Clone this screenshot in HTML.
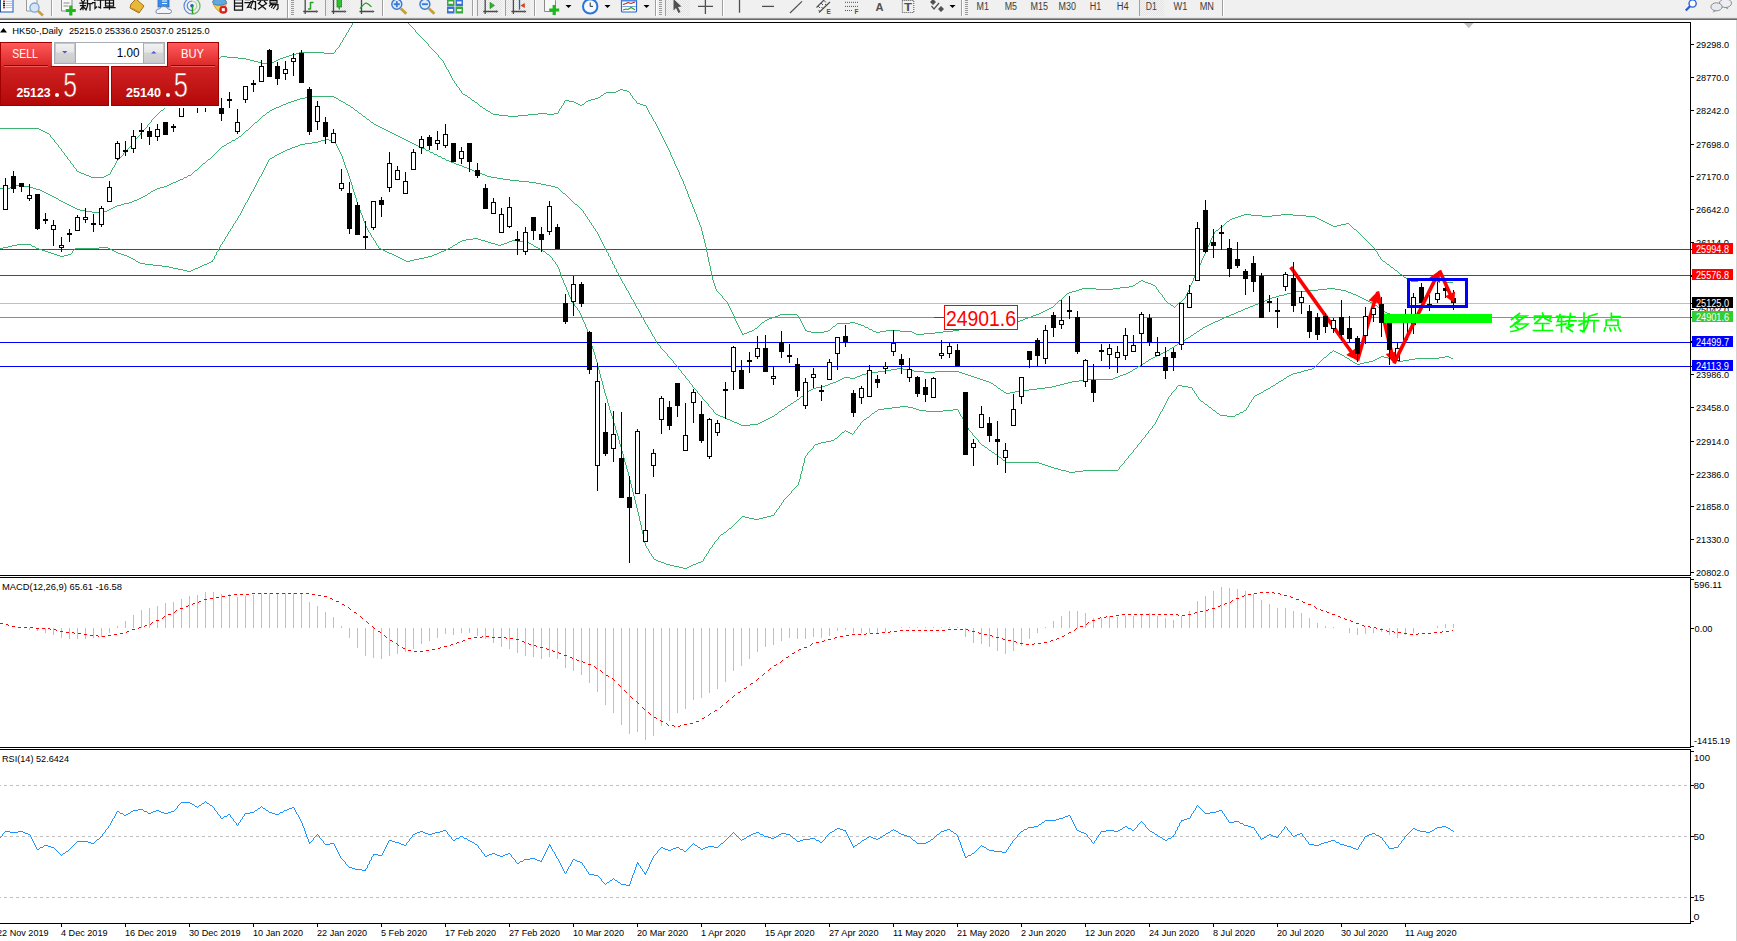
<!DOCTYPE html><html><head><meta charset="utf-8"><title>HK50 Daily</title><style>html,body{margin:0;padding:0;width:1737px;height:941px;overflow:hidden;background:#fff}svg{position:absolute;left:0;top:0;display:block}text{font-family:"Liberation Sans",sans-serif}</style></head><body>
<svg width="1737" height="941" viewBox="0 0 1737 941">
<defs><clipPath id="cm"><rect x="0" y="23" width="1690" height="552"/></clipPath><clipPath id="cmacd"><rect x="0" y="578" width="1690" height="169"/></clipPath><clipPath id="crsi"><rect x="0" y="750" width="1690" height="173"/></clipPath><pattern id="dots" width="2" height="2" patternUnits="userSpaceOnUse"><rect width="2" height="2" fill="#f4f4f4"/><rect width="1" height="1" fill="#e2e2e2"/><rect x="1" y="1" width="1" height="1" fill="#e2e2e2"/></pattern><linearGradient id="gtab" x1="0" y1="0" x2="0" y2="1"><stop offset="0" stop-color="#ff5a5a"/><stop offset="1" stop-color="#dc2828"/></linearGradient><linearGradient id="gbody" x1="0" y1="0" x2="0" y2="1"><stop offset="0" stop-color="#e23232"/><stop offset="1" stop-color="#b40808"/></linearGradient><linearGradient id="gbtn" x1="0" y1="0" x2="0" y2="1"><stop offset="0" stop-color="#f2f2f2"/><stop offset="0.45" stop-color="#e6e6e6"/><stop offset="0.5" stop-color="#d4d4d4"/><stop offset="1" stop-color="#cccccc"/></linearGradient></defs>
<g id="toolbar">
<rect x="0" y="0" width="1737" height="18" fill="#f0f0f0"/>
<rect x="0" y="17" width="1737" height="1" fill="#e6e6e6"/>
<rect x="0" y="18" width="1737" height="1" fill="#9a9a9a"/>
<rect x="0" y="19" width="1737" height="1" fill="#6a6a6a"/>
<g shape-rendering="geometricPrecision">
<rect x="-2" y="-3" width="15" height="15" fill="#ffffff" stroke="#3f72c8" stroke-width="1.2"/>
<rect x="-1.5" y="-3" width="2.5" height="15" fill="#2a4f90"/>
<rect x="3" y="0.5" width="2" height="1.6" fill="#e02020"/>
<rect x="5.5" y="0.8" width="6.5" height="1" fill="#a8c4f0"/>
<rect x="3" y="2.7" width="2" height="1.6" fill="#202020"/>
<rect x="5.5" y="3" width="6.5" height="1" fill="#a8c4f0"/>
<rect x="3" y="4.7" width="2" height="1.6" fill="#202020"/>
<rect x="5.5" y="5" width="6.5" height="1" fill="#a8c4f0"/>
<rect x="3" y="6.8" width="2" height="1.6" fill="#e02020"/>
<rect x="5.5" y="7.1" width="6.5" height="1" fill="#a8c4f0"/>
<path d="M26.5,-2 H37 V11 H26.5 Z" fill="#f6f6f6" stroke="#9a9a9a" stroke-width="1"/>
<circle cx="34.5" cy="7.6" r="4.6" fill="#d6e6f8" stroke="#7aa4d8" stroke-width="1.3"/>
<path d="M38,11 L43,15.5" stroke="#c8a040" stroke-width="2.6"/>
<rect x="51" y="0" width="1" height="16" fill="#a0a0a0"/>
<rect x="52" y="0" width="1" height="16" fill="#ffffff"/>
<path d="M61.5,-2 H70 L72,0 V11 H61.5 Z" fill="#f8f8f8" stroke="#8a8a8a" stroke-width="1"/>
<path d="M63.5,3 h6 M63.5,6 h5" stroke="#8a8a8a" stroke-width="1"/>
<path d="M70.8,5.5 V15.5 M65.8,10.5 H75.8" stroke="#1cb81c" stroke-width="3.2"/>
<path d="M80.5,-1 h5 M81.5,0.5 l1,1.5 M84.5,0.5 l-1,1.5 M80,3 h6 M83,3 v6.5 M80.5,5.5 h5 M83,6.5 l-2.5,3 M83.5,7 l2,2 M87,0 l4,-1.5 M87.5,0 v6 l-1.5,4 M87.5,3.5 h4.5 M90,3.5 v6.5 M93.5,-1 l1.5,1.5 M92.5,2.5 h2.5 v6 l1.5,-1.5 M97,0 h7 M100.5,0 v8 l-2,-1 M107,-2.5 l1,1.5 M112,-2.5 l-1,1.5 M105.5,0 h8 v6 h-8 z M105.5,3 h8 M109.5,0 v9 M104,7.5 h11" fill="none" stroke="#101010" stroke-width="1.25" stroke-linecap="square"/>
<path d="M131,4 L136,-1 L144,6 L139,13 L130,8 Z" fill="#e8b838" stroke="#a07018" stroke-width="1"/>
<path d="M132,8 L139,12" stroke="#c89020" stroke-width="1"/>
<rect x="158" y="-2" width="11" height="9" fill="#3a8ee6" stroke="#2468c0" stroke-width="0.8"/>
<path d="M162,1 h5 M162,3.5 h5" stroke="#ffffff" stroke-width="1"/>
<path d="M157.5,13.5 Q155.5,13.5 156,11 Q156.5,8.5 159.5,9 Q160.5,6 164,6.5 Q167.5,6.5 168,9 Q171.5,9 171.5,11.5 Q171.5,13.5 169,13.5 Z" fill="#f4f4f8" stroke="#7c8aa8" stroke-width="1"/>
<path d="M192,-2 A8,8 0 0 0 192,14" fill="none" stroke="#5a86d8" stroke-width="1.2"/>
<path d="M192,1 A4.8,4.8 0 0 0 192,10.6" fill="none" stroke="#5a86d8" stroke-width="1.2"/>
<path d="M192,-2 A8,8 0 0 1 192,14" fill="none" stroke="#7ab87a" stroke-width="1.4"/>
<path d="M192,1 A4.8,4.8 0 0 1 192,10.6" fill="none" stroke="#a8d0a8" stroke-width="1.2"/>
<circle cx="192" cy="5.8" r="1.8" fill="#2a5ad0"/>
<path d="M192.5,6 V13.8" stroke="#20a020" stroke-width="1.5"/>
<path d="M213,4 Q219,7 227,3 L221,13 Q216,10 213,4 Z" fill="#f0d050" stroke="#c09020" stroke-width="0.8"/>
<ellipse cx="219.5" cy="2" rx="7" ry="3.2" fill="#60a8e0" stroke="#3878b8" stroke-width="0.8"/>
<circle cx="223.3" cy="9.7" r="4" fill="#d82020"/>
<rect x="221.8" y="8.2" width="3" height="3" fill="#ffffff"/>
<path d="M238,-2.5 l-1,1.5 M234.5,-0.5 h8 v10.5 h-8 z M234.5,3 h8 M234.5,6 h8 M245.5,-0.5 h4.5 M245,2.5 h5.5 l-3,5 l3,-0.5 l0.8,1 M251,1.5 h4.5 v8 l-1.5,-1 M253,-2 v3 l-2,5 M262.5,-2.5 v1.5 M257.5,0 h10 M260.5,1.5 l-2,2 M264.5,1.5 l2,2 M259.5,4 l6,5 M265.5,4 l-7,5 M270,-2 h7 v5 h-7 z M270,0.5 h7 M271.5,3.5 l-2,2.5 M271,4.5 h7 v4 l-1,1 M273.5,4.5 l-2,3 M276,5 l-2.5,3.5" fill="none" stroke="#101010" stroke-width="1.25" stroke-linecap="square"/>
</g>
<g shape-rendering="crispEdges">
<rect x="287" y="0" width="1" height="18" fill="#a0a0a0"/>
<rect x="288" y="0" width="1" height="18" fill="#ffffff"/>
<rect x="291" y="0" width="3" height="1" fill="#9a9a9a"/>
<rect x="291" y="2" width="3" height="1" fill="#9a9a9a"/>
<rect x="291" y="4" width="3" height="1" fill="#9a9a9a"/>
<rect x="291" y="6" width="3" height="1" fill="#9a9a9a"/>
<rect x="291" y="8" width="3" height="1" fill="#9a9a9a"/>
<rect x="291" y="10" width="3" height="1" fill="#9a9a9a"/>
<rect x="291" y="12" width="3" height="1" fill="#9a9a9a"/>
<rect x="291" y="14" width="3" height="1" fill="#9a9a9a"/>
</g>
<g shape-rendering="geometricPrecision">
<path d="M305.2,0 V14 M303.2,11.5 H316.2" stroke="#4a4a4a" stroke-width="1.3" fill="none"/>
<path d="M318.2,11.5 l-2,-1.6 v3.2 z" fill="#4a4a4a"/>
<path d="M310.5,2 V9.5 M310.5,2.5 H313.5 M310.5,9 H308" stroke="#2aa02a" stroke-width="1.5" fill="none"/>
</g><g shape-rendering="crispEdges">
<rect x="325" y="0" width="1" height="16" fill="#a0a0a0"/>
<rect x="326" y="0" width="1" height="16" fill="#ffffff"/>
<rect x="326" y="0" width="24" height="16" fill="url(#dots)"/>
</g><g shape-rendering="geometricPrecision">
<path d="M333.5,0 V14 M331.5,11.5 H344.5" stroke="#4a4a4a" stroke-width="1.3" fill="none"/>
<path d="M346.5,11.5 l-2,-1.6 v3.2 z" fill="#4a4a4a"/>
<rect x="337" y="-1" width="4.5" height="8" fill="#30c030" stroke="#1a8a1a" stroke-width="0.8"/>
<path d="M339.2,7 V9.6" stroke="#1a8a1a" stroke-width="1.2"/>
<path d="M361.5,0 V14 M359.5,11.5 H372.5" stroke="#4a4a4a" stroke-width="1.3" fill="none"/>
<path d="M374.5,11.5 l-2,-1.6 v3.2 z" fill="#4a4a4a"/>
<path d="M360,8.7 Q365,2 367,3.3 Q369,4.5 371.5,6.9" stroke="#2a9a2a" stroke-width="1.3" fill="none"/>
</g><g shape-rendering="crispEdges">
<rect x="382" y="0" width="1" height="16" fill="#a0a0a0"/>
<rect x="383" y="0" width="1" height="16" fill="#ffffff"/>
</g><g shape-rendering="geometricPrecision">
<path d="M400.8,8.4 L406.3,13.8" stroke="#c8a030" stroke-width="2.8"/>
<circle cx="396.8" cy="4.2" r="5" fill="#dceafa" stroke="#3a78d0" stroke-width="1.4"/>
<path d="M393.8,4.2 h6" stroke="#3a78d0" stroke-width="1.8"/>
<path d="M396.8,1.2 v6" stroke="#3a78d0" stroke-width="1.8"/>
<path d="M428.9,8.4 L434.4,13.8" stroke="#c8a030" stroke-width="2.8"/>
<circle cx="424.9" cy="4.2" r="5" fill="#dceafa" stroke="#3a78d0" stroke-width="1.4"/>
<path d="M421.9,4.2 h6" stroke="#3a78d0" stroke-width="1.8"/>
<rect x="447" y="-1" width="7.5" height="7" fill="#3aaa3a"/>
<rect x="448.5" y="1.5" width="4.5" height="2.2" fill="#ffffff"/>
<rect x="455.5" y="-1" width="7.5" height="7" fill="#3a70d8"/>
<rect x="457" y="1.5" width="4.5" height="2.2" fill="#ffffff"/>
<rect x="447" y="6.5" width="7.5" height="7" fill="#3a70d8"/>
<rect x="448.5" y="9" width="4.5" height="2.2" fill="#ffffff"/>
<rect x="455.5" y="6.5" width="7.5" height="7" fill="#3aaa3a"/>
<rect x="457" y="9" width="4.5" height="2.2" fill="#ffffff"/>
</g><g shape-rendering="crispEdges">
<rect x="472" y="0" width="1" height="16" fill="#a0a0a0"/>
<rect x="473" y="0" width="1" height="16" fill="#ffffff"/>
<rect x="477" y="0" width="1" height="16" fill="#a0a0a0"/>
<rect x="478" y="0" width="1" height="16" fill="#ffffff"/>
<rect x="478" y="0" width="24" height="16" fill="url(#dots)"/>
<rect x="505" y="0" width="1" height="16" fill="#a0a0a0"/>
<rect x="506" y="0" width="1" height="16" fill="#ffffff"/>
<rect x="506" y="0" width="24" height="16" fill="url(#dots)"/>
<rect x="534" y="0" width="1" height="16" fill="#a0a0a0"/>
<rect x="535" y="0" width="1" height="16" fill="#ffffff"/>
</g><g shape-rendering="geometricPrecision">
<path d="M485.2,0 V14 M483.2,11.5 H496.2" stroke="#4a4a4a" stroke-width="1.3" fill="none"/>
<path d="M498.2,11.5 l-2,-1.6 v3.2 z" fill="#4a4a4a"/>
<path d="M490,2.3 L494.5,5.5 L490,8.7 Z" fill="#30b030" stroke="#208a20" stroke-width="0.6"/>
<path d="M513.4,0 V14 M511.4,11.5 H524.4" stroke="#4a4a4a" stroke-width="1.3" fill="none"/>
<path d="M526.4,11.5 l-2,-1.6 v3.2 z" fill="#4a4a4a"/>
<path d="M519.5,0 V9.7" stroke="#2060b0" stroke-width="1.3"/>
<path d="M520.3,5.5 L524.8,3 V8 Z" fill="#e04010"/>
<path d="M544.5,-2 H553 L555.5,0.5 V11.5 H544.5 Z" fill="#f8f8f8" stroke="#8a8a8a" stroke-width="1"/>
<path d="M554.2,5 V15 M549.2,10 H559.2" stroke="#1cb81c" stroke-width="3.2"/>
<path d="M565.5,5 h6 l-3,3 z" fill="#000"/>
<circle cx="590.2" cy="6.4" r="7.2" fill="#f4f8ff" stroke="#2a74d8" stroke-width="2"/>
<path d="M590.2,2.5 V6.4 H593" stroke="#303030" stroke-width="1" fill="none"/>
<path d="M604.5,5 h6 l-3,3 z" fill="#000"/>
<rect x="621.5" y="-1" width="15" height="13" rx="1" fill="#ffffff" stroke="#2a6ad0" stroke-width="1.2"/>
<rect x="621.5" y="-1" width="15" height="2.5" fill="#4a8ae0"/>
<path d="M623,4.5 L626,3.5 L628,2.5 L631,3.5 L635,2" stroke="#b02818" stroke-width="1.1" fill="none"/>
<rect x="622.3" y="6" width="13.5" height="1" fill="#7aa0d8"/>
<path d="M623,10 L626,9 L628,9.5 L631,7.5 L635,9.8" stroke="#28a028" stroke-width="1.1" fill="none"/>
<path d="M643.5,5 h6 l-3,3 z" fill="#000"/>
</g><g shape-rendering="crispEdges">
<rect x="655" y="0" width="1" height="16" fill="#a0a0a0"/>
<rect x="656" y="0" width="1" height="16" fill="#ffffff"/>
<rect x="659" y="0" width="3" height="1" fill="#9a9a9a"/>
<rect x="659" y="2" width="3" height="1" fill="#9a9a9a"/>
<rect x="659" y="4" width="3" height="1" fill="#9a9a9a"/>
<rect x="659" y="6" width="3" height="1" fill="#9a9a9a"/>
<rect x="659" y="8" width="3" height="1" fill="#9a9a9a"/>
<rect x="659" y="10" width="3" height="1" fill="#9a9a9a"/>
<rect x="659" y="12" width="3" height="1" fill="#9a9a9a"/>
<rect x="659" y="14" width="3" height="1" fill="#9a9a9a"/>
<rect x="665" y="0" width="1" height="16" fill="#a0a0a0"/>
<rect x="666" y="0" width="1" height="16" fill="#ffffff"/>
<rect x="666" y="0" width="24" height="16" fill="url(#dots)"/>
</g><g shape-rendering="geometricPrecision">
<path d="M673.5,-1 L681.5,6.5 L678,7 L680.5,12 L678.5,13 L676,8 L673.5,10.5 Z" fill="#505050"/>
<path d="M698,6.4 H713 M705.4,0 V14" stroke="#505050" stroke-width="1.3"/>
</g><g shape-rendering="crispEdges">
<rect x="722" y="0" width="1" height="16" fill="#a0a0a0"/>
<rect x="723" y="0" width="1" height="16" fill="#ffffff"/>
</g><g shape-rendering="geometricPrecision">
<path d="M739.5,0 V12.7" stroke="#505050" stroke-width="1.3"/>
<path d="M762,6.4 H774" stroke="#505050" stroke-width="1.3"/>
<path d="M790,13 L802,1.4" stroke="#505050" stroke-width="1.2"/>
<path d="M816.5,7.5 L825,-1 M819,12.5 L830,2" stroke="#505050" stroke-width="1.2"/>
<path d="M818,6 l2,2 M821,3 l2,2 M824,0.5 l2,2 M818.5,10 l2,2 M821.5,7 l2,2 M825,4 l2,2" stroke="#505050" stroke-width="1"/>
<text x="826.5" y="14.3" font-size="6.5" font-weight="bold" fill="#505050">E</text>
<path d="M845,2.3 H858 M845,6.4 H858 M845,10.5 H853" stroke="#505050" stroke-width="1" stroke-dasharray="1 1"/>
<text x="854.5" y="14.3" font-size="6.5" font-weight="bold" fill="#505050">F</text>
<text x="875.5" y="10.5" font-size="10.5" font-weight="bold" fill="#505050" textLength="8" lengthAdjust="spacingAndGlyphs">A</text>
<rect x="902.3" y="0.5" width="11.5" height="12" fill="none" stroke="#505050" stroke-width="1" stroke-dasharray="1 1"/>
<text x="904" y="10.5" font-size="10.5" font-weight="bold" fill="#505050" textLength="8" lengthAdjust="spacingAndGlyphs">T</text>
<path d="M930,2 L933,-1 L936,2 L933,5 Z M938,9 L941,6 L944,9 L941,12 Z" fill="#505050"/>
<path d="M931.5,6 L934,9 L939,3" stroke="#505050" stroke-width="1.2" fill="none"/>
<path d="M949.5,5 h6 l-3,3 z" fill="#000"/>
</g><g shape-rendering="crispEdges">
<rect x="961" y="0" width="1" height="16" fill="#a0a0a0"/>
<rect x="962" y="0" width="1" height="16" fill="#ffffff"/>
<rect x="965" y="0" width="3" height="1" fill="#9a9a9a"/>
<rect x="965" y="2" width="3" height="1" fill="#9a9a9a"/>
<rect x="965" y="4" width="3" height="1" fill="#9a9a9a"/>
<rect x="965" y="6" width="3" height="1" fill="#9a9a9a"/>
<rect x="965" y="8" width="3" height="1" fill="#9a9a9a"/>
<rect x="965" y="10" width="3" height="1" fill="#9a9a9a"/>
<rect x="965" y="12" width="3" height="1" fill="#9a9a9a"/>
<rect x="965" y="14" width="3" height="1" fill="#9a9a9a"/>
<rect x="1139" y="0" width="1" height="16" fill="#a0a0a0"/>
<rect x="1140" y="0" width="1" height="16" fill="#ffffff"/>
<rect x="1140" y="0" width="24" height="16" fill="url(#dots)"/>
<rect x="1222" y="0" width="1" height="16" fill="#a0a0a0"/>
<rect x="1223" y="0" width="1" height="16" fill="#ffffff"/>
</g>
<text x="976.6" y="10" font-size="10" fill="#3c3c3c" textLength="12.4" lengthAdjust="spacingAndGlyphs">M1</text>
<text x="1004.7" y="10" font-size="10" fill="#3c3c3c" textLength="12.3" lengthAdjust="spacingAndGlyphs">M5</text>
<text x="1030.5" y="10" font-size="10" fill="#3c3c3c" textLength="17.5" lengthAdjust="spacingAndGlyphs">M15</text>
<text x="1058.6" y="10" font-size="10" fill="#3c3c3c" textLength="17.4" lengthAdjust="spacingAndGlyphs">M30</text>
<text x="1089.7" y="10" font-size="10" fill="#3c3c3c" textLength="11.5" lengthAdjust="spacingAndGlyphs">H1</text>
<text x="1116.8" y="10" font-size="10" fill="#3c3c3c" textLength="12" lengthAdjust="spacingAndGlyphs">H4</text>
<text x="1145.8" y="10" font-size="10" fill="#3c3c3c" textLength="11.1" lengthAdjust="spacingAndGlyphs">D1</text>
<text x="1173.5" y="10" font-size="10" fill="#3c3c3c" textLength="13.8" lengthAdjust="spacingAndGlyphs">W1</text>
<text x="1199.7" y="10" font-size="10" fill="#3c3c3c" textLength="14.3" lengthAdjust="spacingAndGlyphs">MN</text>
<g shape-rendering="geometricPrecision">
<circle cx="1692.6" cy="3.5" r="3.6" fill="#ffffff" stroke="#2a62d8" stroke-width="1.4"/>
<path d="M1690,6.2 L1685.8,10.6" stroke="#2a5ad0" stroke-width="2.2"/>
<ellipse cx="1725.5" cy="3.2" rx="6" ry="4.3" fill="#eceef4" stroke="#8a8a8a" stroke-width="1"/>
<path d="M1727,7 l1.5,2.5 l-4,-2" fill="#8a8a8a"/>
<ellipse cx="1716.5" cy="6.8" rx="5.6" ry="4" fill="#e8eaf2" stroke="#8a8a8a" stroke-width="1"/>
<path d="M1714,10.5 l-1.5,2.2 l4,-2" fill="#8a8a8a"/>
</g>
</g>
<rect x="0" y="20" width="1737" height="921" fill="#ffffff"/>
<rect x="1736" y="20" width="1" height="921" fill="#d4d4d4"/>
<g clip-path="url(#cm)" shape-rendering="crispEdges">
<rect x="0" y="249" width="1690" height="1" fill="#ff0000"/>
<rect x="0" y="275" width="1690" height="1" fill="#ff0000"/>
<rect x="0" y="303" width="1690" height="1" fill="#c0c0c0"/>
<rect x="0" y="317" width="1690" height="1" fill="#32cd32"/>
<rect x="0" y="342" width="1690" height="1" fill="#0000ff"/>
<rect x="0" y="366" width="1690" height="1" fill="#0000ff"/>
<path d="M157,114h1v1h-1zM493,114h6v1h-6zM528,114h10v1h-10zM547,114h7v1h-7zM650,114h1v1h-1zM737,323h1v1h-1zM761,323h1v1h-1zM802,323h1v1h-1zM837,323h13v1h-13zM855,323h3v1h-3zM990,323h11v1h-11zM152,119h1v1h-1zM653,119h1v1h-1zM180,96h1v1h-1zM467,96h1v1h-1zM600,96h1v1h-1zM632,96h1v1h-1zM713,282h1v1h-1zM1138,282h1v1h-1zM1145,282h3v1h-3zM1192,282h1v1h-1zM1446,282h7v1h-7zM352,24h1v1h-1zM409,24h1v1h-1zM717,291h1v1h-1zM1072,291h4v1h-4zM1158,291h1v1h-1zM1188,291h1v1h-1zM360,10h41v1h-41zM738,325h1v1h-1zM759,325h1v1h-1zM803,325h1v1h-1zM835,325h1v1h-1zM861,325h3v1h-3zM974,325h6v1h-6zM741,332h1v1h-1zM747,332h2v1h-2zM811,332h13v1h-13zM876,332h4v1h-4zM912,332h2v1h-2zM935,332h8v1h-8zM356,17h1v1h-1zM404,17h1v1h-1zM683,183h1v1h-1zM721,295h1v1h-1zM1065,295h1v1h-1zM1162,295h1v1h-1zM1186,295h1v1h-1zM704,242h1v1h-1zM1210,242h1v1h-1zM1368,242h1v1h-1zM696,215h1v1h-1zM1241,215h3v1h-3zM1251,215h11v1h-11zM1272,215h9v1h-9zM1293,215h13v1h-13zM697,218h1v1h-1zM1232,218h3v1h-3zM1317,218h2v1h-2zM299,52h25v1h-25zM334,52h1v1h-1zM435,52h1v1h-1zM732,313h1v1h-1zM1039,313h2v1h-2zM715,288h1v1h-1zM1082,288h14v1h-14zM1113,288h7v1h-7zM1156,288h1v1h-1zM1189,288h1v1h-1zM712,279h1v1h-1zM1193,279h1v1h-1zM1407,279h2v1h-2zM1419,279h23v1h-23zM707,252h1v1h-1zM1205,252h1v1h-1zM1377,252h1v1h-1zM209,68h1v1h-1zM446,68h1v1h-1zM204,73h1v1h-1zM449,73h1v1h-1zM690,199h1v1h-1zM67,157h1v1h-1zM120,157h1v1h-1zM672,157h1v1h-1zM70,162h1v1h-1zM116,162h1v1h-1zM674,162h1v1h-1zM203,74h1v1h-1zM450,74h1v1h-1zM723,298h1v1h-1zM1062,298h1v1h-1zM1164,298h1v1h-1zM1184,298h1v1h-1zM71,163h1v1h-1zM115,163h1v1h-1zM674,163h1v1h-1zM89,176h2v1h-2zM104,176h2v1h-2zM680,176h1v1h-1zM711,272h1v1h-1zM1196,272h1v1h-1zM1398,272h1v1h-1zM705,246h1v1h-1zM1208,246h1v1h-1zM1372,246h1v1h-1zM182,94h1v1h-1zM463,94h2v1h-2zM603,94h1v1h-1zM630,94h1v1h-1zM737,324h1v1h-1zM760,324h1v1h-1zM802,324h1v1h-1zM836,324h1v1h-1zM858,324h3v1h-3zM980,324h10v1h-10zM705,245h1v1h-1zM1208,245h1v1h-1zM1371,245h1v1h-1zM166,106h2v1h-2zM480,106h2v1h-2zM561,106h1v1h-1zM646,106h1v1h-1zM700,226h1v1h-1zM1221,226h2v1h-2zM1333,226h4v1h-4zM1351,226h1v1h-1zM741,331h1v1h-1zM749,331h3v1h-3zM807,331h4v1h-4zM824,331h4v1h-4zM873,331h3v1h-3zM880,331h6v1h-6zM900,331h12v1h-12zM943,331h10v1h-10zM219,58h1v1h-1zM238,58h8v1h-8zM280,58h3v1h-3zM440,58h1v1h-1zM0,128h39v1h-39zM145,128h1v1h-1zM658,128h1v1h-1zM733,314h1v1h-1zM780,314h17v1h-17zM1036,314h3v1h-3zM713,281h1v1h-1zM1139,281h2v1h-2zM1143,281h2v1h-2zM1192,281h1v1h-1zM1411,281h7v1h-7zM1443,281h3v1h-3zM187,89h1v1h-1zM459,89h1v1h-1zM620,89h3v1h-3zM700,225h1v1h-1zM1223,225h1v1h-1zM1331,225h2v1h-2zM1337,225h4v1h-4zM1350,225h1v1h-1zM732,312h1v1h-1zM1041,312h2v1h-2zM183,93h1v1h-1zM462,93h1v1h-1zM604,93h2v1h-2zM630,93h1v1h-1zM47,133h2v1h-2zM140,133h1v1h-1zM660,133h1v1h-1zM39,129h2v1h-2zM144,129h1v1h-1zM658,129h1v1h-1zM155,116h1v1h-1zM508,116h10v1h-10zM651,116h1v1h-1zM217,60h1v1h-1zM250,60h4v1h-4zM276,60h2v1h-2zM442,60h1v1h-1zM184,92h1v1h-1zM461,92h1v1h-1zM606,92h10v1h-10zM629,92h1v1h-1zM734,317h1v1h-1zM772,317h3v1h-3zM798,317h1v1h-1zM1028,317h3v1h-3zM156,115h1v1h-1zM499,115h9v1h-9zM518,115h10v1h-10zM651,115h1v1h-1zM740,330h1v1h-1zM752,330h2v1h-2zM805,330h2v1h-2zM828,330h2v1h-2zM872,330h1v1h-1zM886,330h14v1h-14zM953,330h6v1h-6zM41,130h2v1h-2zM143,130h1v1h-1zM659,130h1v1h-1zM63,152h1v1h-1zM124,152h1v1h-1zM670,152h1v1h-1zM52,138h1v1h-1zM136,138h1v1h-1zM663,138h1v1h-1zM742,333h1v1h-1zM744,333h3v1h-3zM914,333h2v1h-2zM924,333h11v1h-11zM734,316h1v1h-1zM775,316h3v1h-3zM798,316h1v1h-1zM1031,316h2v1h-2zM709,265h1v1h-1zM1199,265h1v1h-1zM1389,265h1v1h-1zM76,169h1v1h-1zM112,169h1v1h-1zM677,169h1v1h-1zM192,84h1v1h-1zM456,84h1v1h-1zM734,318h1v1h-1zM769,318h3v1h-3zM799,318h1v1h-1zM1025,318h3v1h-3zM742,334h2v1h-2zM916,334h8v1h-8zM190,86h1v1h-1zM457,86h1v1h-1zM736,322h1v1h-1zM762,322h2v1h-2zM801,322h1v1h-1zM850,322h5v1h-5zM1001,322h11v1h-11zM176,99h1v1h-1zM471,99h1v1h-1zM591,99h4v1h-4zM634,99h1v1h-1zM716,289h1v1h-1zM1079,289h3v1h-3zM1096,289h17v1h-17zM1157,289h1v1h-1zM1189,289h1v1h-1zM707,256h1v1h-1zM1203,256h1v1h-1zM1379,256h1v1h-1zM696,214h1v1h-1zM1244,214h7v1h-7zM1281,214h12v1h-12zM684,185h1v1h-1zM713,280h1v1h-1zM1141,280h2v1h-2zM1193,280h1v1h-1zM1409,280h2v1h-2zM1418,280h1v1h-1zM1442,280h1v1h-1zM705,244h1v1h-1zM1209,244h1v1h-1zM1370,244h1v1h-1zM685,186h1v1h-1zM335,50h1v1h-1zM433,50h1v1h-1zM64,153h1v1h-1zM123,153h1v1h-1zM670,153h1v1h-1zM221,56h6v1h-6zM286,56h3v1h-3zM438,56h1v1h-1zM350,27h1v1h-1zM412,27h1v1h-1zM159,112h1v1h-1zM490,112h1v1h-1zM558,112h1v1h-1zM649,112h1v1h-1zM335,51h1v1h-1zM434,51h1v1h-1zM688,196h1v1h-1zM168,105h1v1h-1zM479,105h1v1h-1zM562,105h1v1h-1zM580,105h2v1h-2zM643,105h3v1h-3zM699,222h1v1h-1zM1226,222h1v1h-1zM1325,222h2v1h-2zM214,63h1v1h-1zM262,63h10v1h-10zM444,63h1v1h-1zM53,139h1v1h-1zM135,139h1v1h-1zM663,139h1v1h-1zM68,159h1v1h-1zM118,159h1v1h-1zM673,159h1v1h-1zM91,177h13v1h-13zM681,177h1v1h-1zM54,140h1v1h-1zM134,140h1v1h-1zM664,140h1v1h-1zM207,70h1v1h-1zM448,70h1v1h-1zM173,101h1v1h-1zM474,101h1v1h-1zM564,101h1v1h-1zM569,101h5v1h-5zM586,101h2v1h-2zM636,101h1v1h-1zM158,113h1v1h-1zM491,113h2v1h-2zM538,113h9v1h-9zM554,113h4v1h-4zM649,113h1v1h-1zM197,79h1v1h-1zM452,79h1v1h-1zM696,216h1v1h-1zM1238,216h3v1h-3zM1262,216h10v1h-10zM1306,216h9v1h-9zM695,212h1v1h-1zM73,165h1v1h-1zM114,165h1v1h-1zM675,165h1v1h-1zM73,166h1v1h-1zM114,166h1v1h-1zM676,166h1v1h-1zM740,329h1v1h-1zM754,329h1v1h-1zM805,329h1v1h-1zM830,329h1v1h-1zM869,329h3v1h-3zM959,329h4v1h-4zM716,290h1v1h-1zM1076,290h3v1h-3zM1158,290h1v1h-1zM1188,290h1v1h-1zM186,90h1v1h-1zM460,90h1v1h-1zM618,90h2v1h-2zM623,90h4v1h-4zM712,276h1v1h-1zM1194,276h1v1h-1zM1403,276h1v1h-1zM146,127h1v1h-1zM657,127h1v1h-1zM81,173h3v1h-3zM110,173h1v1h-1zM679,173h1v1h-1zM736,321h1v1h-1zM764,321h1v1h-1zM801,321h1v1h-1zM1012,321h8v1h-8zM730,308h1v1h-1zM1049,308h2v1h-2zM702,232h1v1h-1zM1214,232h1v1h-1zM1358,232h1v1h-1zM86,175h3v1h-3zM106,175h2v1h-2zM680,175h1v1h-1zM220,57h1v1h-1zM227,57h11v1h-11zM283,57h3v1h-3zM439,57h1v1h-1zM50,136h1v1h-1zM138,136h1v1h-1zM662,136h1v1h-1zM200,76h2v1h-2zM451,76h1v1h-1zM739,328h1v1h-1zM755,328h2v1h-2zM804,328h1v1h-1zM831,328h1v1h-1zM868,328h1v1h-1zM963,328h4v1h-4zM725,300h1v1h-1zM1059,300h2v1h-2zM1165,300h1v1h-1zM1182,300h1v1h-1zM708,257h1v1h-1zM1203,257h1v1h-1zM1380,257h1v1h-1zM715,286h1v1h-1zM1129,286h4v1h-4zM1155,286h1v1h-1zM1190,286h1v1h-1zM699,223h1v1h-1zM1225,223h1v1h-1zM1327,223h2v1h-2zM1346,223h3v1h-3zM189,87h1v1h-1zM458,87h1v1h-1zM715,287h1v1h-1zM1120,287h9v1h-9zM1156,287h1v1h-1zM1189,287h1v1h-1zM728,304h1v1h-1zM1055,304h1v1h-1zM1170,304h1v1h-1zM1177,304h1v1h-1zM208,69h1v1h-1zM447,69h1v1h-1zM165,107h1v1h-1zM482,107h1v1h-1zM561,107h1v1h-1zM646,107h1v1h-1zM683,182h1v1h-1zM722,296h1v1h-1zM1064,296h1v1h-1zM1162,296h1v1h-1zM1185,296h1v1h-1zM358,13h1v1h-1zM402,13h1v1h-1zM719,293h1v1h-1zM1067,293h2v1h-2zM1160,293h1v1h-1zM1187,293h1v1h-1zM704,241h1v1h-1zM1210,241h1v1h-1zM1367,241h1v1h-1zM50,135h1v1h-1zM139,135h1v1h-1zM661,135h1v1h-1zM726,301h1v1h-1zM1058,301h1v1h-1zM1166,301h1v1h-1zM1181,301h1v1h-1zM739,327h1v1h-1zM757,327h1v1h-1zM804,327h1v1h-1zM832,327h1v1h-1zM865,327h3v1h-3zM967,327h3v1h-3zM296,53h3v1h-3zM324,53h10v1h-10zM436,53h1v1h-1zM729,306h1v1h-1zM1053,306h1v1h-1zM1173,306h1v1h-1zM1175,306h1v1h-1zM354,20h1v1h-1zM406,20h1v1h-1zM172,102h1v1h-1zM475,102h2v1h-2zM564,102h1v1h-1zM574,102h2v1h-2zM585,102h1v1h-1zM636,102h1v1h-1zM75,168h1v1h-1zM112,168h1v1h-1zM677,168h1v1h-1zM67,158h1v1h-1zM119,158h1v1h-1zM672,158h1v1h-1zM215,62h1v1h-1zM258,62h4v1h-4zM272,62h2v1h-2zM443,62h1v1h-1zM710,270h1v1h-1zM1197,270h1v1h-1zM1395,270h2v1h-2zM84,174h2v1h-2zM108,174h2v1h-2zM679,174h1v1h-1zM706,251h1v1h-1zM1205,251h1v1h-1zM1376,251h1v1h-1zM733,315h1v1h-1zM778,315h2v1h-2zM797,315h1v1h-1zM1033,315h3v1h-3zM735,320h1v1h-1zM765,320h2v1h-2zM800,320h1v1h-1zM1020,320h3v1h-3zM727,303h1v1h-1zM1056,303h1v1h-1zM1168,303h2v1h-2zM1178,303h1v1h-1zM686,190h1v1h-1zM170,103h2v1h-2zM477,103h1v1h-1zM563,103h1v1h-1zM576,103h2v1h-2zM584,103h1v1h-1zM637,103h3v1h-3zM169,104h1v1h-1zM478,104h1v1h-1zM563,104h1v1h-1zM578,104h2v1h-2zM582,104h2v1h-2zM640,104h3v1h-3zM693,207h1v1h-1zM707,254h1v1h-1zM1204,254h1v1h-1zM1378,254h1v1h-1zM69,160h1v1h-1zM117,160h1v1h-1zM673,160h1v1h-1zM174,100h2v1h-2zM472,100h2v1h-2zM565,100h4v1h-4zM588,100h3v1h-3zM635,100h1v1h-1zM699,224h1v1h-1zM1224,224h1v1h-1zM1329,224h2v1h-2zM1341,224h5v1h-5zM1349,224h1v1h-1zM148,124h1v1h-1zM656,124h1v1h-1zM720,294h1v1h-1zM1066,294h1v1h-1zM1161,294h1v1h-1zM1186,294h1v1h-1zM707,255h1v1h-1zM1204,255h1v1h-1zM1378,255h1v1h-1zM347,32h1v1h-1zM416,32h1v1h-1zM163,109h1v1h-1zM485,109h1v1h-1zM559,109h1v1h-1zM647,109h1v1h-1zM64,154h1v1h-1zM123,154h1v1h-1zM670,154h1v1h-1zM65,155h1v1h-1zM122,155h1v1h-1zM671,155h1v1h-1zM706,248h1v1h-1zM1207,248h1v1h-1zM1374,248h1v1h-1zM77,171h2v1h-2zM111,171h1v1h-1zM678,171h1v1h-1zM343,38h1v1h-1zM422,38h1v1h-1zM147,126h1v1h-1zM657,126h1v1h-1zM147,125h1v1h-1zM656,125h1v1h-1zM714,283h1v1h-1zM1136,283h2v1h-2zM1148,283h3v1h-3zM1191,283h1v1h-1zM352,23h1v1h-1zM408,23h1v1h-1zM738,326h1v1h-1zM758,326h1v1h-1zM803,326h1v1h-1zM833,326h2v1h-2zM864,326h1v1h-1zM970,326h4v1h-4zM685,188h1v1h-1zM706,247h1v1h-1zM1207,247h1v1h-1zM1373,247h1v1h-1zM54,141h1v1h-1zM134,141h1v1h-1zM664,141h1v1h-1zM704,239h1v1h-1zM1211,239h1v1h-1zM1365,239h1v1h-1zM43,131h2v1h-2zM142,131h1v1h-1zM659,131h1v1h-1zM691,203h1v1h-1zM727,302h1v1h-1zM1057,302h1v1h-1zM1167,302h1v1h-1zM1179,302h2v1h-2zM698,220h1v1h-1zM1229,220h1v1h-1zM1321,220h2v1h-2zM735,319h1v1h-1zM767,319h2v1h-2zM800,319h1v1h-1zM1023,319h2v1h-2zM178,97h2v1h-2zM468,97h2v1h-2zM598,97h2v1h-2zM632,97h1v1h-1zM701,230h1v1h-1zM1216,230h2v1h-2zM1356,230h1v1h-1zM702,231h1v1h-1zM1215,231h1v1h-1zM1357,231h1v1h-1zM161,110h2v1h-2zM486,110h2v1h-2zM559,110h1v1h-1zM648,110h1v1h-1zM349,29h1v1h-1zM414,29h1v1h-1zM338,47h1v1h-1zM430,47h1v1h-1zM710,267h1v1h-1zM1198,267h1v1h-1zM1391,267h2v1h-2zM722,297h1v1h-1zM1063,297h1v1h-1zM1163,297h1v1h-1zM1185,297h1v1h-1zM697,219h1v1h-1zM1230,219h2v1h-2zM1319,219h2v1h-2zM708,259h1v1h-1zM1202,259h1v1h-1zM1381,259h1v1h-1zM62,151h1v1h-1zM125,151h1v1h-1zM669,151h1v1h-1zM151,121h1v1h-1zM654,121h1v1h-1zM177,98h1v1h-1zM470,98h1v1h-1zM595,98h3v1h-3zM633,98h1v1h-1zM150,122h1v1h-1zM655,122h1v1h-1zM686,189h1v1h-1zM351,25h1v1h-1zM410,25h1v1h-1zM336,49h1v1h-1zM432,49h1v1h-1zM56,143h1v1h-1zM132,143h1v1h-1zM665,143h1v1h-1zM707,253h1v1h-1zM1205,253h1v1h-1zM1377,253h1v1h-1zM690,200h1v1h-1zM57,144h1v1h-1zM132,144h1v1h-1zM666,144h1v1h-1zM202,75h1v1h-1zM450,75h1v1h-1zM711,273h1v1h-1zM1196,273h1v1h-1zM1399,273h1v1h-1zM164,108h1v1h-1zM483,108h2v1h-2zM560,108h1v1h-1zM647,108h1v1h-1zM697,217h1v1h-1zM1235,217h3v1h-3zM1315,217h2v1h-2zM349,28h1v1h-1zM413,28h1v1h-1zM195,81h1v1h-1zM454,81h1v1h-1zM72,164h1v1h-1zM115,164h1v1h-1zM675,164h1v1h-1zM181,95h1v1h-1zM465,95h2v1h-2zM601,95h2v1h-2zM631,95h1v1h-1zM188,88h1v1h-1zM459,88h1v1h-1zM70,161h1v1h-1zM116,161h1v1h-1zM674,161h1v1h-1zM348,30h1v1h-1zM415,30h1v1h-1zM76,170h1v1h-1zM111,170h1v1h-1zM678,170h1v1h-1zM60,148h1v1h-1zM128,148h1v1h-1zM668,148h1v1h-1zM344,37h1v1h-1zM421,37h1v1h-1zM685,187h1v1h-1zM703,235h1v1h-1zM1213,235h1v1h-1zM1361,235h1v1h-1zM728,305h1v1h-1zM1054,305h1v1h-1zM1171,305h2v1h-2zM1176,305h1v1h-1zM731,311h1v1h-1zM1043,311h2v1h-2zM59,147h1v1h-1zM129,147h1v1h-1zM667,147h1v1h-1zM58,146h1v1h-1zM130,146h1v1h-1zM667,146h1v1h-1zM695,213h1v1h-1zM74,167h1v1h-1zM113,167h1v1h-1zM676,167h1v1h-1zM289,55h3v1h-3zM438,55h1v1h-1zM702,233h1v1h-1zM1214,233h1v1h-1zM1359,233h1v1h-1zM218,59h1v1h-1zM246,59h4v1h-4zM278,59h2v1h-2zM441,59h1v1h-1zM216,61h1v1h-1zM254,61h4v1h-4zM274,61h2v1h-2zM443,61h1v1h-1zM704,240h1v1h-1zM1210,240h1v1h-1zM1366,240h1v1h-1zM714,285h1v1h-1zM1133,285h2v1h-2zM1153,285h2v1h-2zM1190,285h1v1h-1zM708,258h1v1h-1zM1202,258h1v1h-1zM1380,258h1v1h-1zM51,137h1v1h-1zM137,137h1v1h-1zM662,137h1v1h-1zM339,46h1v1h-1zM429,46h1v1h-1zM160,111h1v1h-1zM488,111h2v1h-2zM558,111h1v1h-1zM648,111h1v1h-1zM79,172h2v1h-2zM110,172h1v1h-1zM679,172h1v1h-1zM213,64h1v1h-1zM444,64h1v1h-1zM718,292h1v1h-1zM1069,292h3v1h-3zM1159,292h1v1h-1zM1187,292h1v1h-1zM358,14h1v1h-1zM402,14h1v1h-1zM729,307h1v1h-1zM1051,307h2v1h-2zM1174,307h1v1h-1zM348,31h1v1h-1zM415,31h1v1h-1zM354,21h1v1h-1zM406,21h1v1h-1zM55,142h1v1h-1zM133,142h1v1h-1zM665,142h1v1h-1zM61,149h1v1h-1zM127,149h1v1h-1zM668,149h1v1h-1zM708,261h1v1h-1zM1201,261h1v1h-1zM1383,261h2v1h-2zM711,271h1v1h-1zM1197,271h1v1h-1zM1397,271h1v1h-1zM706,250h1v1h-1zM1206,250h1v1h-1zM1375,250h1v1h-1zM357,16h1v1h-1zM404,16h1v1h-1zM45,132h2v1h-2zM141,132h1v1h-1zM660,132h1v1h-1zM693,208h1v1h-1zM292,54h4v1h-4zM437,54h1v1h-1zM730,309h1v1h-1zM1047,309h2v1h-2zM731,310h1v1h-1zM1045,310h2v1h-2zM49,134h1v1h-1zM140,134h1v1h-1zM661,134h1v1h-1zM698,221h1v1h-1zM1227,221h2v1h-2zM1323,221h2v1h-2zM66,156h1v1h-1zM121,156h1v1h-1zM671,156h1v1h-1zM194,82h1v1h-1zM454,82h1v1h-1zM151,120h1v1h-1zM653,120h1v1h-1zM701,227h1v1h-1zM1220,227h1v1h-1zM1352,227h1v1h-1zM343,39h1v1h-1zM423,39h1v1h-1zM706,249h1v1h-1zM1206,249h1v1h-1zM1375,249h1v1h-1zM714,284h1v1h-1zM1135,284h1v1h-1zM1151,284h2v1h-2zM1191,284h1v1h-1zM710,266h1v1h-1zM1199,266h1v1h-1zM1390,266h1v1h-1zM339,45h1v1h-1zM428,45h1v1h-1zM692,205h1v1h-1zM359,11h1v1h-1zM401,11h1v1h-1zM205,72h1v1h-1zM449,72h1v1h-1zM710,268h1v1h-1zM1198,268h1v1h-1zM1393,268h1v1h-1zM724,299h1v1h-1zM1061,299h1v1h-1zM1164,299h1v1h-1zM1183,299h1v1h-1zM708,260h1v1h-1zM1201,260h1v1h-1zM1382,260h1v1h-1zM357,15h1v1h-1zM403,15h1v1h-1zM149,123h1v1h-1zM655,123h1v1h-1zM687,191h1v1h-1zM353,22h1v1h-1zM407,22h1v1h-1zM690,201h1v1h-1zM58,145h1v1h-1zM131,145h1v1h-1zM666,145h1v1h-1zM199,77h1v1h-1zM451,77h1v1h-1zM709,264h1v1h-1zM1200,264h1v1h-1zM1387,264h2v1h-2zM346,33h1v1h-1zM417,33h1v1h-1zM346,34h1v1h-1zM418,34h1v1h-1zM703,236h1v1h-1zM1212,236h1v1h-1zM1362,236h1v1h-1zM692,204h1v1h-1zM198,78h1v1h-1zM452,78h1v1h-1zM701,228h1v1h-1zM1219,228h1v1h-1zM1353,228h1v1h-1zM206,71h1v1h-1zM448,71h1v1h-1zM345,35h1v1h-1zM419,35h1v1h-1zM185,91h1v1h-1zM461,91h1v1h-1zM616,91h2v1h-2zM627,91h2v1h-2zM345,36h1v1h-1zM420,36h1v1h-1zM212,65h1v1h-1zM445,65h1v1h-1zM711,274h1v1h-1zM1195,274h1v1h-1zM1400,274h2v1h-2zM702,234h1v1h-1zM1213,234h1v1h-1zM1360,234h1v1h-1zM712,278h1v1h-1zM1193,278h1v1h-1zM1406,278h1v1h-1zM351,26h1v1h-1zM411,26h1v1h-1zM341,42h1v1h-1zM426,42h1v1h-1zM355,18h1v1h-1zM405,18h1v1h-1zM61,150h1v1h-1zM126,150h1v1h-1zM669,150h1v1h-1zM712,277h1v1h-1zM1194,277h1v1h-1zM1404,277h2v1h-2zM701,229h1v1h-1zM1218,229h1v1h-1zM1354,229h2v1h-2zM687,193h1v1h-1zM694,209h1v1h-1zM710,269h1v1h-1zM1197,269h1v1h-1zM1394,269h1v1h-1zM711,275h1v1h-1zM1195,275h1v1h-1zM1402,275h1v1h-1zM340,44h1v1h-1zM428,44h1v1h-1zM682,179h1v1h-1zM703,238h1v1h-1zM1211,238h1v1h-1zM1364,238h1v1h-1zM692,206h1v1h-1zM709,262h1v1h-1zM1201,262h1v1h-1zM1385,262h1v1h-1zM359,12h1v1h-1zM401,12h1v1h-1zM709,263h1v1h-1zM1200,263h1v1h-1zM1386,263h1v1h-1zM687,192h1v1h-1zM193,83h1v1h-1zM455,83h1v1h-1zM154,117h1v1h-1zM652,117h1v1h-1zM342,40h1v1h-1zM424,40h1v1h-1zM694,211h1v1h-1zM191,85h1v1h-1zM456,85h1v1h-1zM703,237h1v1h-1zM1212,237h1v1h-1zM1363,237h1v1h-1zM342,41h1v1h-1zM425,41h1v1h-1zM196,80h1v1h-1zM453,80h1v1h-1zM705,243h1v1h-1zM1209,243h1v1h-1zM1369,243h1v1h-1zM211,66h1v1h-1zM445,66h1v1h-1zM689,198h1v1h-1zM210,67h1v1h-1zM446,67h1v1h-1zM355,19h1v1h-1zM405,19h1v1h-1zM340,43h1v1h-1zM427,43h1v1h-1zM684,184h1v1h-1zM688,195h1v1h-1zM694,210h1v1h-1zM337,48h1v1h-1zM431,48h1v1h-1zM682,180h1v1h-1zM683,181h1v1h-1zM689,197h1v1h-1zM681,178h1v1h-1zM688,194h1v1h-1zM153,118h1v1h-1zM652,118h1v1h-1zM691,202h1v1h-1z" fill="#3cb371" shape-rendering="crispEdges"/>
<path d="M681,371h1v1h-1zM878,371h7v1h-7zM914,371h10v1h-10zM935,371h24v1h-24zM1130,371h2v1h-2zM178,180h2v1h-2zM510,180h9v1h-9zM641,315h1v1h-1zM1229,315h2v1h-2zM1393,315h5v1h-5zM54,197h2v1h-2zM141,197h2v1h-2zM568,197h1v1h-1zM673,362h1v1h-1zM1145,362h1v1h-1zM258,120h1v1h-1zM369,120h1v1h-1zM659,345h1v1h-1zM1175,345h2v1h-2zM10,187h2v1h-2zM29,187h4v1h-4zM160,187h4v1h-4zM555,187h3v1h-3zM184,177h3v1h-3zM491,177h6v1h-6zM312,96h22v1h-22zM640,314h1v1h-1zM1231,314h3v1h-3zM1390,314h3v1h-3zM685,376h1v1h-1zM857,376h3v1h-3zM971,376h3v1h-3zM1118,376h2v1h-2zM705,401h1v1h-1zM794,401h2v1h-2zM14,185h8v1h-8zM167,185h2v1h-2zM546,185h5v1h-5zM636,307h1v1h-1zM1248,307h2v1h-2zM1378,307h2v1h-2zM723,417h2v1h-2zM770,417h2v1h-2zM720,416h3v1h-3zM772,416h2v1h-2zM685,377h1v1h-1zM844,377h6v1h-6zM855,377h2v1h-2zM974,377h3v1h-3zM1115,377h3v1h-3zM239,136h2v1h-2zM398,136h2v1h-2zM244,132h1v1h-1zM390,132h2v1h-2zM249,128h1v1h-1zM382,128h2v1h-2zM686,378h1v1h-1zM842,378h2v1h-2zM850,378h5v1h-5zM977,378h3v1h-3zM1113,378h2v1h-2zM12,186h2v1h-2zM22,186h7v1h-7zM164,186h3v1h-3zM551,186h4v1h-4zM248,129h1v1h-1zM384,129h2v1h-2zM252,125h1v1h-1zM376,125h2v1h-2zM687,379h1v1h-1zM840,379h2v1h-2zM980,379h3v1h-3zM1088,379h25v1h-25zM0,188h10v1h-10zM33,188h3v1h-3zM157,188h3v1h-3zM558,188h1v1h-1zM269,111h1v1h-1zM357,111h1v1h-1zM696,390h1v1h-1zM809,390h2v1h-2zM1001,390h2v1h-2zM1022,390h7v1h-7zM668,356h1v1h-1zM1155,356h2v1h-2zM618,273h1v1h-1zM655,340h1v1h-1zM1183,340h2v1h-2zM629,293h1v1h-1zM1287,293h5v1h-5zM1351,293h2v1h-2zM262,116h1v1h-1zM363,116h2v1h-2zM46,193h2v1h-2zM148,193h2v1h-2zM563,193h2v1h-2zM684,375h1v1h-1zM860,375h2v1h-2zM968,375h3v1h-3zM1120,375h3v1h-3zM741,425h9v1h-9zM650,331h1v1h-1zM1197,331h2v1h-2zM283,104h3v1h-3zM346,104h2v1h-2zM679,369h1v1h-1zM891,369h6v1h-6zM903,369h5v1h-5zM1133,369h2v1h-2zM694,388h1v1h-1zM813,388h3v1h-3zM998,388h2v1h-2zM1037,388h8v1h-8zM630,296h1v1h-1zM1276,296h3v1h-3zM1358,296h2v1h-2zM212,156h1v1h-1zM438,156h3v1h-3zM235,139h1v1h-1zM404,139h2v1h-2zM643,319h1v1h-1zM1220,319h2v1h-2zM677,366h1v1h-1zM1138,366h2v1h-2zM681,372h1v1h-1zM872,372h6v1h-6zM924,372h11v1h-11zM959,372h3v1h-3zM1128,372h2v1h-2zM187,176h1v1h-1zM487,176h4v1h-4zM695,389h1v1h-1zM811,389h2v1h-2zM1000,389h1v1h-1zM1029,389h8v1h-8zM689,381h1v1h-1zM836,381h2v1h-2zM986,381h3v1h-3zM1072,381h7v1h-7zM92,212h8v1h-8zM583,212h1v1h-1zM644,321h1v1h-1zM1215,321h3v1h-3zM276,107h3v1h-3zM351,107h2v1h-2zM255,122h2v1h-2zM371,122h2v1h-2zM610,259h1v1h-1zM69,205h2v1h-2zM117,205h4v1h-4zM577,205h1v1h-1zM691,384h1v1h-1zM828,384h2v1h-2zM993,384h1v1h-1zM1060,384h4v1h-4zM274,108h2v1h-2zM353,108h1v1h-1zM647,326h1v1h-1zM1205,326h2v1h-2zM75,208h2v1h-2zM111,208h2v1h-2zM580,208h1v1h-1zM639,312h1v1h-1zM1236,312h2v1h-2zM1385,312h2v1h-2zM656,341h1v1h-1zM1182,341h1v1h-1zM67,204h2v1h-2zM121,204h3v1h-3zM575,204h2v1h-2zM632,299h1v1h-1zM1267,299h3v1h-3zM1364,299h2v1h-2zM206,161h1v1h-1zM449,161h2v1h-2zM77,209h3v1h-3zM109,209h2v1h-2zM581,209h1v1h-1zM689,382h1v1h-1zM833,382h3v1h-3zM989,382h2v1h-2zM1068,382h4v1h-4zM61,201h2v1h-2zM132,201h2v1h-2zM572,201h1v1h-1zM210,158h1v1h-1zM442,158h3v1h-3zM699,394h1v1h-1zM804,394h1v1h-1zM219,149h1v1h-1zM425,149h1v1h-1zM715,413h1v1h-1zM777,413h1v1h-1zM693,387h1v1h-1zM816,387h5v1h-5zM997,387h1v1h-1zM1045,387h7v1h-7zM58,199h1v1h-1zM137,199h2v1h-2zM570,199h1v1h-1zM627,290h1v1h-1zM1306,290h12v1h-12zM1341,290h5v1h-5zM633,301h1v1h-1zM1263,301h2v1h-2zM1368,301h2v1h-2zM631,297h1v1h-1zM1272,297h4v1h-4zM1360,297h2v1h-2zM171,183h2v1h-2zM536,183h5v1h-5zM636,306h1v1h-1zM1250,306h3v1h-3zM1377,306h1v1h-1zM642,317h1v1h-1zM1224,317h2v1h-2zM1406,317h47v1h-47zM682,373h1v1h-1zM866,373h6v1h-6zM962,373h3v1h-3zM1126,373h2v1h-2zM294,100h3v1h-3zM339,100h2v1h-2zM734,422h3v1h-3zM760,422h2v1h-2zM281,105h2v1h-2zM348,105h2v1h-2zM656,342h1v1h-1zM1180,342h2v1h-2zM291,101h3v1h-3zM341,101h2v1h-2zM205,162h1v1h-1zM451,162h3v1h-3zM217,151h1v1h-1zM429,151h1v1h-1zM739,424h2v1h-2zM750,424h8v1h-8zM180,179h3v1h-3zM503,179h7v1h-7zM56,198h2v1h-2zM139,198h2v1h-2zM569,198h1v1h-1zM48,194h2v1h-2zM147,194h1v1h-1zM565,194h1v1h-1zM241,135h1v1h-1zM396,135h2v1h-2zM42,191h2v1h-2zM151,191h2v1h-2zM561,191h1v1h-1zM641,316h1v1h-1zM1226,316h3v1h-3zM1398,316h8v1h-8zM229,142h2v1h-2zM410,142h2v1h-2zM697,392h1v1h-1zM807,392h1v1h-1zM1004,392h2v1h-2zM1010,392h5v1h-5zM245,131h1v1h-1zM388,131h2v1h-2zM638,310h1v1h-1zM1241,310h2v1h-2zM1382,310h2v1h-2zM305,97h7v1h-7zM334,97h2v1h-2zM194,171h1v1h-1zM474,171h3v1h-3zM250,127h1v1h-1zM380,127h2v1h-2zM224,145h2v1h-2zM416,145h2v1h-2zM709,406h1v1h-1zM787,406h1v1h-1zM645,322h1v1h-1zM1213,322h2v1h-2zM648,327h1v1h-1zM1203,327h2v1h-2zM253,124h1v1h-1zM374,124h2v1h-2zM609,256h1v1h-1zM52,196h2v1h-2zM143,196h2v1h-2zM567,196h1v1h-1zM300,98h5v1h-5zM336,98h2v1h-2zM683,374h1v1h-1zM862,374h4v1h-4zM965,374h3v1h-3zM1123,374h3v1h-3zM667,354h1v1h-1zM1159,354h2v1h-2zM678,368h1v1h-1zM897,368h6v1h-6zM1135,368h2v1h-2zM660,347h1v1h-1zM1172,347h2v1h-2zM188,175h3v1h-3zM485,175h2v1h-2zM637,308h1v1h-1zM1245,308h3v1h-3zM1380,308h1v1h-1zM279,106h2v1h-2zM350,106h1v1h-1zM714,412h1v1h-1zM778,412h1v1h-1zM173,182h3v1h-3zM529,182h7v1h-7zM638,309h1v1h-1zM1243,309h2v1h-2zM1381,309h1v1h-1zM602,243h1v1h-1zM655,339h1v1h-1zM1185,339h1v1h-1zM195,170h2v1h-2zM472,170h2v1h-2zM658,344h1v1h-1zM1177,344h1v1h-1zM63,202h2v1h-2zM129,202h3v1h-3zM573,202h1v1h-1zM626,289h1v1h-1zM1318,289h9v1h-9zM1335,289h6v1h-6zM586,216h1v1h-1zM629,294h1v1h-1zM1284,294h3v1h-3zM1353,294h3v1h-3zM706,402h1v1h-1zM793,402h1v1h-1zM630,295h1v1h-1zM1279,295h5v1h-5zM1356,295h2v1h-2zM590,222h1v1h-1zM635,304h1v1h-1zM1255,304h3v1h-3zM1374,304h1v1h-1zM633,300h1v1h-1zM1265,300h2v1h-2zM1366,300h2v1h-2zM203,163h2v1h-2zM454,163h2v1h-2zM647,325h1v1h-1zM1207,325h2v1h-2zM261,117h1v1h-1zM365,117h1v1h-1zM50,195h2v1h-2zM145,195h2v1h-2zM566,195h1v1h-1zM690,383h1v1h-1zM830,383h3v1h-3zM991,383h2v1h-2zM1064,383h4v1h-4zM676,365h1v1h-1zM1140,365h1v1h-1zM701,396h1v1h-1zM801,396h2v1h-2zM40,190h2v1h-2zM153,190h2v1h-2zM560,190h1v1h-1zM214,154h1v1h-1zM434,154h3v1h-3zM622,281h1v1h-1zM218,150h1v1h-1zM426,150h3v1h-3zM211,157h1v1h-1zM441,157h1v1h-1zM640,313h1v1h-1zM1234,313h2v1h-2zM1387,313h3v1h-3zM639,311h1v1h-1zM1238,311h3v1h-3zM1384,311h1v1h-1zM716,414h2v1h-2zM775,414h2v1h-2zM242,134h1v1h-1zM394,134h2v1h-2zM246,130h2v1h-2zM386,130h2v1h-2zM600,239h1v1h-1zM251,126h1v1h-1zM378,126h2v1h-2zM603,244h1v1h-1zM272,109h2v1h-2zM354,109h1v1h-1zM665,352h1v1h-1zM1163,352h2v1h-2zM628,291h1v1h-1zM1295,291h11v1h-11zM1346,291h2v1h-2zM176,181h2v1h-2zM519,181h10v1h-10zM266,113h1v1h-1zM359,113h2v1h-2zM646,324h1v1h-1zM1209,324h2v1h-2zM288,102h3v1h-3zM343,102h2v1h-2zM673,361h1v1h-1zM1146,361h2v1h-2zM588,219h1v1h-1zM737,423h2v1h-2zM758,423h2v1h-2zM697,391h1v1h-1zM808,391h1v1h-1zM1003,391h1v1h-1zM1015,391h7v1h-7zM692,385h1v1h-1zM825,385h3v1h-3zM994,385h2v1h-2zM1056,385h4v1h-4zM592,225h1v1h-1zM730,420h2v1h-2zM764,420h2v1h-2zM191,174h1v1h-1zM482,174h3v1h-3zM270,110h2v1h-2zM355,110h2v1h-2zM711,408h1v1h-1zM784,408h1v1h-1zM617,272h1v1h-1zM620,277h1v1h-1zM678,367h1v1h-1zM1137,367h1v1h-1zM44,192h2v1h-2zM150,192h1v1h-1zM562,192h1v1h-1zM725,418h2v1h-2zM768,418h2v1h-2zM634,302h1v1h-1zM1260,302h3v1h-3zM1370,302h2v1h-2zM598,235h1v1h-1zM602,242h1v1h-1zM634,303h1v1h-1zM1258,303h2v1h-2zM1372,303h2v1h-2zM628,292h1v1h-1zM1292,292h3v1h-3zM1348,292h3v1h-3zM59,200h2v1h-2zM134,200h3v1h-3zM571,200h1v1h-1zM680,370h1v1h-1zM885,370h6v1h-6zM908,370h6v1h-6zM1132,370h1v1h-1zM263,115h2v1h-2zM362,115h1v1h-1zM73,207h2v1h-2zM113,207h2v1h-2zM579,207h1v1h-1zM202,164h1v1h-1zM456,164h3v1h-3zM626,288h1v1h-1zM1327,288h8v1h-8zM207,160h1v1h-1zM446,160h3v1h-3zM197,169h1v1h-1zM469,169h3v1h-3zM663,350h1v1h-1zM1167,350h2v1h-2zM650,330h1v1h-1zM1199,330h1v1h-1zM215,153h1v1h-1zM433,153h1v1h-1zM36,189h4v1h-4zM155,189h2v1h-2zM559,189h1v1h-1zM232,140h3v1h-3zM406,140h2v1h-2zM644,320h1v1h-1zM1218,320h2v1h-2zM65,203h2v1h-2zM124,203h5v1h-5zM574,203h1v1h-1zM703,399h1v1h-1zM797,399h2v1h-2zM71,206h2v1h-2zM115,206h2v1h-2zM578,206h1v1h-1zM192,173h1v1h-1zM479,173h3v1h-3zM208,159h2v1h-2zM445,159h1v1h-1zM651,333h1v1h-1zM1194,333h2v1h-2zM611,260h1v1h-1zM702,397h1v1h-1zM800,397h1v1h-1zM80,210h6v1h-6zM107,210h2v1h-2zM582,210h1v1h-1zM674,363h1v1h-1zM1143,363h2v1h-2zM169,184h2v1h-2zM541,184h5v1h-5zM664,351h1v1h-1zM1165,351h2v1h-2zM226,144h1v1h-1zM414,144h2v1h-2zM653,336h1v1h-1zM1190,336h1v1h-1zM259,119h1v1h-1zM367,119h2v1h-2zM666,353h1v1h-1zM1161,353h2v1h-2zM654,338h1v1h-1zM1186,338h2v1h-2zM713,410h1v1h-1zM781,410h1v1h-1zM216,152h1v1h-1zM430,152h3v1h-3zM657,343h1v1h-1zM1178,343h2v1h-2zM698,393h1v1h-1zM805,393h2v1h-2zM1006,393h4v1h-4zM220,148h1v1h-1zM422,148h3v1h-3zM257,121h1v1h-1zM370,121h1v1h-1zM654,337h1v1h-1zM1188,337h2v1h-2zM712,409h1v1h-1zM782,409h2v1h-2zM669,357h1v1h-1zM1153,357h2v1h-2zM649,329h1v1h-1zM1200,329h2v1h-2zM667,355h1v1h-1zM1157,355h2v1h-2zM584,213h1v1h-1zM727,419h3v1h-3zM766,419h2v1h-2zM243,133h1v1h-1zM392,133h2v1h-2zM86,211h6v1h-6zM100,211h7v1h-7zM583,211h1v1h-1zM193,172h1v1h-1zM477,172h2v1h-2zM707,403h1v1h-1zM791,403h2v1h-2zM267,112h2v1h-2zM358,112h1v1h-1zM201,165h1v1h-1zM459,165h3v1h-3zM591,224h1v1h-1zM688,380h1v1h-1zM838,380h2v1h-2zM983,380h3v1h-3zM1079,380h9v1h-9zM635,305h1v1h-1zM1253,305h2v1h-2zM1375,305h2v1h-2zM651,332h1v1h-1zM1196,332h1v1h-1zM622,282h1v1h-1zM619,276h1v1h-1zM718,415h2v1h-2zM774,415h1v1h-1zM631,298h1v1h-1zM1270,298h2v1h-2zM1362,298h2v1h-2zM603,245h1v1h-1zM604,246h1v1h-1zM710,407h1v1h-1zM785,407h2v1h-2zM661,348h1v1h-1zM1170,348h2v1h-2zM662,349h1v1h-1zM1169,349h1v1h-1zM183,178h1v1h-1zM497,178h6v1h-6zM231,141h1v1h-1zM408,141h2v1h-2zM593,227h1v1h-1zM254,123h1v1h-1zM373,123h1v1h-1zM198,168h1v1h-1zM467,168h2v1h-2zM620,278h1v1h-1zM621,279h1v1h-1zM708,404h1v1h-1zM790,404h1v1h-1zM708,405h1v1h-1zM788,405h2v1h-2zM645,323h1v1h-1zM1211,323h2v1h-2zM260,118h1v1h-1zM366,118h1v1h-1zM591,223h1v1h-1zM594,228h1v1h-1zM700,395h1v1h-1zM803,395h1v1h-1zM595,229h1v1h-1zM297,99h3v1h-3zM338,99h1v1h-1zM619,275h1v1h-1zM213,155h1v1h-1zM437,155h1v1h-1zM221,147h1v1h-1zM421,147h1v1h-1zM675,364h1v1h-1zM1141,364h2v1h-2zM265,114h1v1h-1zM361,114h1v1h-1zM199,167h1v1h-1zM464,167h3v1h-3zM652,335h1v1h-1zM1191,335h2v1h-2zM612,262h1v1h-1zM593,226h1v1h-1zM596,231h1v1h-1zM702,398h1v1h-1zM799,398h1v1h-1zM597,232h1v1h-1zM692,386h1v1h-1zM821,386h4v1h-4zM996,386h1v1h-1zM1052,386h4v1h-4zM222,146h2v1h-2zM418,146h3v1h-3zM670,358h1v1h-1zM1151,358h2v1h-2zM672,360h1v1h-1zM1148,360h1v1h-1zM613,264h1v1h-1zM614,265h1v1h-1zM585,215h1v1h-1zM227,143h2v1h-2zM412,143h2v1h-2zM704,400h1v1h-1zM796,400h1v1h-1zM606,251h1v1h-1zM652,334h1v1h-1zM1193,334h1v1h-1zM612,261h1v1h-1zM623,283h1v1h-1zM587,217h1v1h-1zM604,247h1v1h-1zM605,248h1v1h-1zM608,253h1v1h-1zM236,138h2v1h-2zM402,138h2v1h-2zM200,166h1v1h-1zM462,166h2v1h-2zM621,280h1v1h-1zM585,214h1v1h-1zM625,286h1v1h-1zM589,220h1v1h-1zM606,250h1v1h-1zM614,267h1v1h-1zM238,137h1v1h-1zM400,137h2v1h-2zM595,230h1v1h-1zM599,236h1v1h-1zM286,103h2v1h-2zM345,103h1v1h-1zM671,359h1v1h-1zM1149,359h2v1h-2zM643,318h1v1h-1zM1222,318h2v1h-2zM612,263h1v1h-1zM615,268h1v1h-1zM616,269h1v1h-1zM732,421h2v1h-2zM762,421h2v1h-2zM597,233h1v1h-1zM608,255h1v1h-1zM713,411h1v1h-1zM779,411h2v1h-2zM614,266h1v1h-1zM660,346h1v1h-1zM1174,346h1v1h-1zM648,328h1v1h-1zM1202,328h1v1h-1zM610,258h1v1h-1zM607,252h1v1h-1zM587,218h1v1h-1zM624,285h1v1h-1zM605,249h1v1h-1zM608,254h1v1h-1zM616,271h1v1h-1zM601,241h1v1h-1zM625,287h1v1h-1zM589,221h1v1h-1zM610,257h1v1h-1zM618,274h1v1h-1zM599,237h1v1h-1zM600,238h1v1h-1zM624,284h1v1h-1zM616,270h1v1h-1zM601,240h1v1h-1zM598,234h1v1h-1z" fill="#3cb371" shape-rendering="crispEdges"/>
<path d="M129,257h2v1h-2zM214,257h1v1h-1zM398,257h2v1h-2zM424,257h4v1h-4zM551,257h1v1h-1zM183,270h4v1h-4zM191,270h2v1h-2zM559,270h1v1h-1zM603,388h1v1h-1zM1176,388h1v1h-1zM1192,388h1v1h-1zM1268,388h2v1h-2zM12,245h5v1h-5zM31,245h1v1h-1zM220,245h1v1h-1zM377,245h1v1h-1zM453,245h2v1h-2zM498,245h3v1h-3zM533,245h1v1h-1zM241,211h1v1h-1zM360,211h1v1h-1zM609,406h1v1h-1zM900,406h8v1h-8zM1164,406h1v1h-1zM1208,406h1v1h-1zM1248,406h1v1h-1zM639,517h1v1h-1zM741,517h1v1h-1zM745,517h4v1h-4zM763,517h4v1h-4zM598,368h1v1h-1zM1312,368h2v1h-2zM627,469h1v1h-1zM802,469h1v1h-1zM1058,469h3v1h-3zM1118,469h1v1h-1zM627,470h1v1h-1zM802,470h1v1h-1zM1061,470h5v1h-5zM1083,470h35v1h-35zM277,154h2v1h-2zM341,154h1v1h-1zM140,263h5v1h-5zM207,263h2v1h-2zM555,263h1v1h-1zM173,268h5v1h-5zM195,268h3v1h-3zM558,268h1v1h-1zM597,363h1v1h-1zM1318,363h1v1h-1zM1355,363h2v1h-2zM1360,363h4v1h-4zM587,331h1v1h-1zM57,255h3v1h-3zM64,255h4v1h-4zM124,255h3v1h-3zM215,255h1v1h-1zM394,255h2v1h-2zM432,255h2v1h-2zM549,255h1v1h-1zM223,241h1v1h-1zM375,241h1v1h-1zM460,241h2v1h-2zM485,241h3v1h-3zM509,241h3v1h-3zM517,241h8v1h-8zM609,408h1v1h-1zM884,408h8v1h-8zM913,408h3v1h-3zM1163,408h1v1h-1zM1211,408h1v1h-1zM1246,408h1v1h-1zM625,462h1v1h-1zM804,462h1v1h-1zM1006,462h33v1h-33zM1124,462h1v1h-1zM237,218h1v1h-1zM363,218h1v1h-1zM595,358h1v1h-1zM1323,358h1v1h-1zM1347,358h2v1h-2zM1377,358h2v1h-2zM1388,358h3v1h-3zM1415,358h24v1h-24zM1451,358h2v1h-2zM629,479h1v1h-1zM799,479h1v1h-1zM266,164h1v1h-1zM344,164h1v1h-1zM642,532h1v1h-1zM724,532h2v1h-2zM595,357h1v1h-1zM1324,357h2v1h-2zM1345,357h2v1h-2zM1379,357h2v1h-2zM1384,357h4v1h-4zM1439,357h6v1h-6zM1449,357h2v1h-2zM618,438h1v1h-1zM835,438h2v1h-2zM976,438h1v1h-1zM1143,438h1v1h-1zM642,531h1v1h-1zM726,531h1v1h-1zM234,223h1v1h-1zM365,223h1v1h-1zM590,341h1v1h-1zM562,279h1v1h-1zM305,143h7v1h-7zM335,143h1v1h-1zM591,342h1v1h-1zM606,398h1v1h-1zM1168,398h1v1h-1zM1198,398h1v1h-1zM1253,398h1v1h-1zM621,450h1v1h-1zM810,450h1v1h-1zM989,450h2v1h-2zM1133,450h1v1h-1zM233,225h1v1h-1zM365,225h1v1h-1zM610,411h1v1h-1zM875,411h2v1h-2zM926,411h17v1h-17zM958,411h1v1h-1zM1161,411h1v1h-1zM1215,411h1v1h-1zM1243,411h1v1h-1zM51,253h3v1h-3zM71,253h1v1h-1zM118,253h3v1h-3zM216,253h1v1h-1zM389,253h3v1h-3zM437,253h2v1h-2zM546,253h1v1h-1zM627,471h1v1h-1zM801,471h1v1h-1zM1066,471h3v1h-3zM1075,471h8v1h-8zM131,258h2v1h-2zM214,258h1v1h-1zM400,258h2v1h-2zM419,258h5v1h-5zM552,258h1v1h-1zM54,254h3v1h-3zM68,254h3v1h-3zM121,254h3v1h-3zM216,254h1v1h-1zM392,254h2v1h-2zM434,254h3v1h-3zM547,254h2v1h-2zM42,250h3v1h-3zM73,250h1v1h-1zM112,250h2v1h-2zM218,250h1v1h-1zM383,250h2v1h-2zM444,250h2v1h-2zM541,250h2v1h-2zM644,539h1v1h-1zM717,539h1v1h-1zM624,460h1v1h-1zM804,460h1v1h-1zM1003,460h2v1h-2zM1125,460h1v1h-1zM569,295h1v1h-1zM133,259h2v1h-2zM213,259h1v1h-1zM402,259h2v1h-2zM414,259h5v1h-5zM552,259h1v1h-1zM60,256h4v1h-4zM127,256h2v1h-2zM214,256h1v1h-1zM396,256h2v1h-2zM428,256h4v1h-4zM550,256h1v1h-1zM619,443h1v1h-1zM818,443h3v1h-3zM980,443h1v1h-1zM1139,443h1v1h-1zM638,515h1v1h-1zM771,515h3v1h-3zM645,545h1v1h-1zM712,545h1v1h-1zM615,426h1v1h-1zM858,426h1v1h-1zM967,426h1v1h-1zM1152,426h1v1h-1zM318,141h3v1h-3zM333,141h2v1h-2zM614,424h1v1h-1zM860,424h1v1h-1zM966,424h1v1h-1zM1154,424h1v1h-1zM609,407h1v1h-1zM892,407h8v1h-8zM908,407h5v1h-5zM1163,407h1v1h-1zM1209,407h2v1h-2zM1247,407h1v1h-1zM616,432h1v1h-1zM842,432h2v1h-2zM848,432h2v1h-2zM854,432h1v1h-1zM971,432h1v1h-1zM1148,432h1v1h-1zM596,360h1v1h-1zM1321,360h1v1h-1zM1350,360h2v1h-2zM1373,360h2v1h-2zM1394,360h4v1h-4zM1403,360h6v1h-6zM639,518h1v1h-1zM740,518h1v1h-1zM749,518h5v1h-5zM759,518h4v1h-4zM617,434h1v1h-1zM840,434h1v1h-1zM852,434h1v1h-1zM972,434h1v1h-1zM1146,434h1v1h-1zM8,246h4v1h-4zM32,246h3v1h-3zM220,246h1v1h-1zM378,246h1v1h-1zM452,246h1v1h-1zM534,246h2v1h-2zM649,552h1v1h-1zM708,552h1v1h-1zM618,437h1v1h-1zM837,437h1v1h-1zM975,437h1v1h-1zM1144,437h1v1h-1zM153,265h9v1h-9zM202,265h2v1h-2zM557,265h1v1h-1zM596,361h1v1h-1zM1320,361h1v1h-1zM1352,361h1v1h-1zM1369,361h4v1h-4zM1398,361h5v1h-5zM603,386h1v1h-1zM1177,386h1v1h-1zM1182,386h6v1h-6zM1271,386h2v1h-2zM630,482h1v1h-1zM798,482h1v1h-1zM604,392h1v1h-1zM1172,392h1v1h-1zM1194,392h1v1h-1zM1261,392h2v1h-2zM606,397h1v1h-1zM1168,397h1v1h-1zM1198,397h1v1h-1zM1253,397h1v1h-1zM3,247h5v1h-5zM35,247h1v1h-1zM99,247h9v1h-9zM219,247h1v1h-1zM378,247h1v1h-1zM450,247h2v1h-2zM536,247h2v1h-2zM236,220h1v1h-1zM363,220h1v1h-1zM598,369h1v1h-1zM1308,369h4v1h-4zM637,508h1v1h-1zM778,508h1v1h-1zM602,381h1v1h-1zM1279,381h2v1h-2zM0,248h3v1h-3zM36,248h3v1h-3zM75,248h24v1h-24zM108,248h2v1h-2zM219,248h1v1h-1zM379,248h2v1h-2zM448,248h2v1h-2zM538,248h2v1h-2zM654,559h2v1h-2zM703,559h1v1h-1zM232,227h1v1h-1zM366,227h1v1h-1zM619,442h1v1h-1zM821,442h5v1h-5zM979,442h1v1h-1zM1140,442h1v1h-1zM612,416h1v1h-1zM869,416h1v1h-1zM961,416h1v1h-1zM1158,416h1v1h-1zM1227,416h8v1h-8zM256,184h1v1h-1zM351,184h1v1h-1zM610,412h1v1h-1zM874,412h1v1h-1zM959,412h1v1h-1zM1160,412h1v1h-1zM1216,412h1v1h-1zM1240,412h3v1h-3zM599,372h1v1h-1zM1297,372h4v1h-4zM250,194h1v1h-1zM354,194h1v1h-1zM599,370h1v1h-1zM1304,370h4v1h-4zM579,312h1v1h-1zM582,317h1v1h-1zM267,162h1v1h-1zM344,162h1v1h-1zM617,433h1v1h-1zM841,433h1v1h-1zM850,433h2v1h-2zM853,433h1v1h-1zM972,433h1v1h-1zM1147,433h1v1h-1zM634,497h1v1h-1zM786,497h1v1h-1zM641,526h1v1h-1zM732,526h1v1h-1zM617,435h1v1h-1zM839,435h1v1h-1zM973,435h1v1h-1zM1145,435h1v1h-1zM636,504h1v1h-1zM781,504h1v1h-1zM222,242h1v1h-1zM375,242h1v1h-1zM458,242h2v1h-2zM488,242h3v1h-3zM507,242h2v1h-2zM525,242h4v1h-4zM586,328h1v1h-1zM625,463h1v1h-1zM803,463h1v1h-1zM1039,463h3v1h-3zM1123,463h1v1h-1zM162,266h7v1h-7zM200,266h2v1h-2zM557,266h1v1h-1zM563,281h1v1h-1zM605,393h1v1h-1zM1171,393h1v1h-1zM1195,393h1v1h-1zM1259,393h2v1h-2zM616,430h1v1h-1zM845,430h1v1h-1zM855,430h1v1h-1zM969,430h1v1h-1zM1149,430h1v1h-1zM570,297h1v1h-1zM45,251h3v1h-3zM72,251h1v1h-1zM114,251h2v1h-2zM217,251h1v1h-1zM385,251h2v1h-2zM441,251h3v1h-3zM543,251h2v1h-2zM17,244h14v1h-14zM221,244h1v1h-1zM376,244h1v1h-1zM455,244h2v1h-2zM495,244h3v1h-3zM501,244h3v1h-3zM531,244h2v1h-2zM609,409h1v1h-1zM878,409h6v1h-6zM916,409h3v1h-3zM953,409h5v1h-5zM1162,409h1v1h-1zM1212,409h1v1h-1zM1246,409h1v1h-1zM178,269h5v1h-5zM193,269h2v1h-2zM559,269h1v1h-1zM616,431h1v1h-1zM844,431h1v1h-1zM846,431h2v1h-2zM854,431h1v1h-1zM970,431h1v1h-1zM1148,431h1v1h-1zM628,472h1v1h-1zM801,472h1v1h-1zM1069,472h6v1h-6zM670,565h4v1h-4zM691,565h2v1h-2zM612,417h1v1h-1zM867,417h2v1h-2zM962,417h1v1h-1zM1158,417h1v1h-1zM620,446h1v1h-1zM813,446h1v1h-1zM984,446h1v1h-1zM1137,446h1v1h-1zM597,365h1v1h-1zM1316,365h1v1h-1zM604,389h1v1h-1zM1175,389h1v1h-1zM1192,389h1v1h-1zM1266,389h2v1h-2zM602,384h1v1h-1zM1275,384h1v1h-1zM241,212h1v1h-1zM360,212h1v1h-1zM596,359h1v1h-1zM1322,359h1v1h-1zM1349,359h1v1h-1zM1375,359h2v1h-2zM1391,359h3v1h-3zM1409,359h6v1h-6zM632,491h1v1h-1zM791,491h1v1h-1zM605,394h1v1h-1zM1171,394h1v1h-1zM1196,394h1v1h-1zM1257,394h2v1h-2zM633,492h1v1h-1zM791,492h1v1h-1zM230,229h1v1h-1zM367,229h1v1h-1zM646,547h1v1h-1zM711,547h1v1h-1zM39,249h3v1h-3zM74,249h1v1h-1zM110,249h2v1h-2zM218,249h1v1h-1zM381,249h2v1h-2zM446,249h2v1h-2zM540,249h1v1h-1zM136,261h2v1h-2zM211,261h2v1h-2zM406,261h4v1h-4zM554,261h1v1h-1zM626,466h1v1h-1zM802,466h1v1h-1zM1048,466h3v1h-3zM1120,466h1v1h-1zM138,262h2v1h-2zM209,262h2v1h-2zM555,262h1v1h-1zM255,185h1v1h-1zM352,185h1v1h-1zM222,243h1v1h-1zM376,243h1v1h-1zM457,243h1v1h-1zM491,243h4v1h-4zM504,243h3v1h-3zM529,243h2v1h-2zM603,387h1v1h-1zM1176,387h1v1h-1zM1188,387h4v1h-4zM1270,387h1v1h-1zM580,314h1v1h-1zM581,315h1v1h-1zM598,367h1v1h-1zM1314,367h1v1h-1zM169,267h4v1h-4zM198,267h2v1h-2zM558,267h1v1h-1zM603,385h1v1h-1zM1178,385h4v1h-4zM1273,385h2v1h-2zM587,330h1v1h-1zM628,474h1v1h-1zM800,474h1v1h-1zM621,448h1v1h-1zM812,448h1v1h-1zM987,448h1v1h-1zM1135,448h1v1h-1zM615,428h1v1h-1zM857,428h1v1h-1zM968,428h1v1h-1zM1151,428h1v1h-1zM321,140h5v1h-5zM329,140h4v1h-4zM618,439h1v1h-1zM834,439h1v1h-1zM977,439h1v1h-1zM1142,439h1v1h-1zM683,568h4v1h-4zM562,278h1v1h-1zM623,454h1v1h-1zM807,454h1v1h-1zM995,454h2v1h-2zM1130,454h1v1h-1zM611,413h1v1h-1zM872,413h2v1h-2zM959,413h1v1h-1zM1160,413h1v1h-1zM1217,413h2v1h-2zM1239,413h1v1h-1zM233,224h1v1h-1zM365,224h1v1h-1zM594,352h1v1h-1zM1330,352h2v1h-2zM1336,352h2v1h-2zM611,415h1v1h-1zM870,415h1v1h-1zM960,415h1v1h-1zM1159,415h1v1h-1zM1220,415h7v1h-7zM1235,415h1v1h-1zM224,239h1v1h-1zM373,239h1v1h-1zM466,239h7v1h-7zM478,239h3v1h-3zM636,505h1v1h-1zM780,505h1v1h-1zM639,516h1v1h-1zM742,516h3v1h-3zM767,516h4v1h-4zM597,362h1v1h-1zM1319,362h1v1h-1zM1353,362h2v1h-2zM1364,362h5v1h-5zM647,548h1v1h-1zM710,548h1v1h-1zM224,240h1v1h-1zM374,240h1v1h-1zM462,240h4v1h-4zM481,240h4v1h-4zM512,240h5v1h-5zM239,215h1v1h-1zM362,215h1v1h-1zM630,481h1v1h-1zM799,481h1v1h-1zM674,566h5v1h-5zM689,566h2v1h-2zM651,555h1v1h-1zM706,555h1v1h-1zM232,226h1v1h-1zM366,226h1v1h-1zM645,544h1v1h-1zM713,544h1v1h-1zM565,286h1v1h-1zM256,183h1v1h-1zM351,183h1v1h-1zM648,549h1v1h-1zM709,549h1v1h-1zM658,561h3v1h-3zM701,561h2v1h-2zM602,383h1v1h-1zM1276,383h2v1h-2zM579,311h1v1h-1zM608,405h1v1h-1zM1164,405h1v1h-1zM1207,405h1v1h-1zM1248,405h1v1h-1zM625,464h1v1h-1zM803,464h1v1h-1zM1042,464h3v1h-3zM1122,464h1v1h-1zM228,233h1v1h-1zM370,233h1v1h-1zM605,395h1v1h-1zM1170,395h1v1h-1zM1196,395h1v1h-1zM1255,395h2v1h-2zM268,161h1v1h-1zM343,161h1v1h-1zM326,139h3v1h-3zM586,327h1v1h-1zM614,423h1v1h-1zM860,423h1v1h-1zM965,423h1v1h-1zM1155,423h1v1h-1zM264,168h1v1h-1zM346,168h1v1h-1zM631,484h1v1h-1zM798,484h1v1h-1zM610,410h1v1h-1zM877,410h1v1h-1zM919,410h7v1h-7zM943,410h10v1h-10zM958,410h1v1h-1zM1162,410h1v1h-1zM1213,410h2v1h-2zM1244,410h2v1h-2zM275,155h2v1h-2zM341,155h1v1h-1zM607,399h1v1h-1zM1167,399h1v1h-1zM1199,399h1v1h-1zM1252,399h1v1h-1zM135,260h1v1h-1zM212,260h1v1h-1zM404,260h2v1h-2zM410,260h4v1h-4zM553,260h1v1h-1zM48,252h3v1h-3zM72,252h1v1h-1zM116,252h2v1h-2zM216,252h1v1h-1zM387,252h2v1h-2zM439,252h2v1h-2zM545,252h1v1h-1zM626,467h1v1h-1zM802,467h1v1h-1zM1051,467h3v1h-3zM1119,467h1v1h-1zM607,402h1v1h-1zM1166,402h1v1h-1zM1203,402h1v1h-1zM1250,402h1v1h-1zM227,235h1v1h-1zM371,235h1v1h-1zM613,420h1v1h-1zM863,420h1v1h-1zM963,420h1v1h-1zM1156,420h1v1h-1zM626,468h1v1h-1zM802,468h1v1h-1zM1054,468h4v1h-4zM1119,468h1v1h-1zM582,319h1v1h-1zM269,159h1v1h-1zM343,159h1v1h-1zM613,419h1v1h-1zM864,419h2v1h-2zM963,419h1v1h-1zM1157,419h1v1h-1zM600,377h1v1h-1zM1286,377h1v1h-1zM597,364h1v1h-1zM1317,364h1v1h-1zM1357,364h3v1h-3zM589,336h1v1h-1zM264,169h1v1h-1zM346,169h1v1h-1zM614,425h1v1h-1zM859,425h1v1h-1zM966,425h1v1h-1zM1153,425h1v1h-1zM312,142h6v1h-6zM335,142h1v1h-1zM263,171h1v1h-1zM347,171h1v1h-1zM231,228h1v1h-1zM367,228h1v1h-1zM263,170h1v1h-1zM347,170h1v1h-1zM592,346h1v1h-1zM623,455h1v1h-1zM806,455h1v1h-1zM997,455h1v1h-1zM1129,455h1v1h-1zM564,284h1v1h-1zM620,444h1v1h-1zM815,444h3v1h-3zM981,444h1v1h-1zM1138,444h1v1h-1zM595,356h1v1h-1zM1326,356h1v1h-1zM1344,356h1v1h-1zM1381,356h3v1h-3zM1445,356h4v1h-4zM259,178h1v1h-1zM349,178h1v1h-1zM626,465h1v1h-1zM803,465h1v1h-1zM1045,465h3v1h-3zM1121,465h1v1h-1zM571,300h1v1h-1zM242,210h1v1h-1zM360,210h1v1h-1zM612,418h1v1h-1zM866,418h1v1h-1zM962,418h1v1h-1zM1157,418h1v1h-1zM615,427h1v1h-1zM857,427h1v1h-1zM967,427h1v1h-1zM1152,427h1v1h-1zM292,147h3v1h-3zM337,147h1v1h-1zM238,217h1v1h-1zM362,217h1v1h-1zM145,264h8v1h-8zM204,264h3v1h-3zM556,264h1v1h-1zM639,519h1v1h-1zM739,519h1v1h-1zM754,519h5v1h-5zM262,173h1v1h-1zM348,173h1v1h-1zM633,494h1v1h-1zM789,494h1v1h-1zM623,457h1v1h-1zM805,457h1v1h-1zM999,457h2v1h-2zM1128,457h1v1h-1zM624,461h1v1h-1zM804,461h1v1h-1zM1005,461h1v1h-1zM1124,461h1v1h-1zM607,400h1v1h-1zM1167,400h1v1h-1zM1200,400h1v1h-1zM1251,400h1v1h-1zM594,354h1v1h-1zM1328,354h1v1h-1zM1340,354h2v1h-2zM254,187h1v1h-1zM352,187h1v1h-1zM258,180h1v1h-1zM350,180h1v1h-1zM608,404h1v1h-1zM1165,404h1v1h-1zM1205,404h2v1h-2zM1249,404h1v1h-1zM584,322h1v1h-1zM248,198h1v1h-1zM356,198h1v1h-1zM599,373h1v1h-1zM1293,373h4v1h-4zM274,156h1v1h-1zM342,156h1v1h-1zM629,476h1v1h-1zM800,476h1v1h-1zM237,219h1v1h-1zM363,219h1v1h-1zM642,533h1v1h-1zM723,533h1v1h-1zM611,414h1v1h-1zM871,414h1v1h-1zM960,414h1v1h-1zM1159,414h1v1h-1zM1219,414h1v1h-1zM1236,414h3v1h-3zM588,333h1v1h-1zM651,554h1v1h-1zM706,554h1v1h-1zM643,534h1v1h-1zM721,534h2v1h-2zM565,285h1v1h-1zM591,343h1v1h-1zM569,296h1v1h-1zM632,490h1v1h-1zM792,490h1v1h-1zM300,144h5v1h-5zM336,144h1v1h-1zM634,496h1v1h-1zM787,496h1v1h-1zM641,525h1v1h-1zM733,525h1v1h-1zM253,189h1v1h-1zM353,189h1v1h-1zM630,483h1v1h-1zM798,483h1v1h-1zM225,238h1v1h-1zM373,238h1v1h-1zM473,238h5v1h-5zM613,422h1v1h-1zM861,422h1v1h-1zM964,422h1v1h-1zM1155,422h1v1h-1zM652,556h1v1h-1zM705,556h1v1h-1zM249,196h1v1h-1zM355,196h1v1h-1zM261,174h1v1h-1zM348,174h1v1h-1zM638,512h1v1h-1zM775,512h1v1h-1zM272,157h2v1h-2zM342,157h1v1h-1zM245,203h1v1h-1zM357,203h1v1h-1zM640,521h1v1h-1zM737,521h1v1h-1zM582,318h1v1h-1zM589,335h1v1h-1zM618,436h1v1h-1zM838,436h1v1h-1zM974,436h1v1h-1zM1145,436h1v1h-1zM624,459h1v1h-1zM804,459h1v1h-1zM1002,459h1v1h-1zM1126,459h1v1h-1zM604,391h1v1h-1zM1173,391h1v1h-1zM1194,391h1v1h-1zM1263,391h1v1h-1zM600,376h1v1h-1zM1287,376h2v1h-2zM564,283h1v1h-1zM634,499h1v1h-1zM784,499h1v1h-1zM620,445h1v1h-1zM814,445h1v1h-1zM982,445h2v1h-2zM1137,445h1v1h-1zM571,299h1v1h-1zM637,509h1v1h-1zM777,509h1v1h-1zM638,514h1v1h-1zM774,514h1v1h-1zM628,473h1v1h-1zM801,473h1v1h-1zM262,172h1v1h-1zM347,172h1v1h-1zM240,214h1v1h-1zM361,214h1v1h-1zM633,493h1v1h-1zM790,493h1v1h-1zM623,456h1v1h-1zM805,456h1v1h-1zM998,456h1v1h-1zM1128,456h1v1h-1zM283,151h2v1h-2zM339,151h1v1h-1zM592,348h1v1h-1zM229,231h1v1h-1zM368,231h1v1h-1zM226,236h1v1h-1zM371,236h1v1h-1zM258,179h1v1h-1zM350,179h1v1h-1zM594,353h1v1h-1zM1329,353h1v1h-1zM1338,353h2v1h-2zM581,316h1v1h-1zM644,540h1v1h-1zM716,540h1v1h-1zM628,475h1v1h-1zM800,475h1v1h-1zM615,429h1v1h-1zM856,429h1v1h-1zM968,429h1v1h-1zM1150,429h1v1h-1zM640,522h1v1h-1zM736,522h1v1h-1zM588,332h1v1h-1zM600,375h1v1h-1zM1289,375h2v1h-2zM285,150h2v1h-2zM339,150h1v1h-1zM619,440h1v1h-1zM831,440h3v1h-3zM978,440h1v1h-1zM1141,440h1v1h-1zM650,553h1v1h-1zM707,553h1v1h-1zM281,152h2v1h-2zM340,152h1v1h-1zM608,403h1v1h-1zM1165,403h1v1h-1zM1204,403h1v1h-1zM1249,403h1v1h-1zM661,562h3v1h-3zM698,562h3v1h-3zM636,506h1v1h-1zM779,506h1v1h-1zM607,401h1v1h-1zM1166,401h1v1h-1zM1201,401h2v1h-2zM1251,401h1v1h-1zM247,200h1v1h-1zM356,200h1v1h-1zM238,216h1v1h-1zM362,216h1v1h-1zM270,158h2v1h-2zM342,158h1v1h-1zM666,564h4v1h-4zM693,564h3v1h-3zM591,345h1v1h-1zM228,232h1v1h-1zM369,232h1v1h-1zM648,550h1v1h-1zM709,550h1v1h-1zM649,551h1v1h-1zM708,551h1v1h-1zM225,237h1v1h-1zM372,237h1v1h-1zM624,458h1v1h-1zM804,458h1v1h-1zM1001,458h1v1h-1zM1127,458h1v1h-1zM635,500h1v1h-1zM783,500h1v1h-1zM287,149h3v1h-3zM338,149h1v1h-1zM598,366h1v1h-1zM1315,366h1v1h-1zM601,378h1v1h-1zM1284,378h2v1h-2zM604,390h1v1h-1zM1174,390h1v1h-1zM1193,390h1v1h-1zM1264,390h2v1h-2zM634,498h1v1h-1zM785,498h1v1h-1zM636,507h1v1h-1zM779,507h1v1h-1zM638,513h1v1h-1zM774,513h1v1h-1zM622,451h1v1h-1zM809,451h1v1h-1zM991,451h1v1h-1zM1133,451h1v1h-1zM246,202h1v1h-1zM357,202h1v1h-1zM600,374h1v1h-1zM1291,374h2v1h-2zM268,160h1v1h-1zM343,160h1v1h-1zM583,321h1v1h-1zM619,441h1v1h-1zM826,441h5v1h-5zM978,441h1v1h-1zM1141,441h1v1h-1zM641,527h1v1h-1zM731,527h1v1h-1zM589,337h1v1h-1zM240,213h1v1h-1zM361,213h1v1h-1zM621,449h1v1h-1zM811,449h1v1h-1zM988,449h1v1h-1zM1134,449h1v1h-1zM592,347h1v1h-1zM230,230h1v1h-1zM368,230h1v1h-1zM621,447h1v1h-1zM813,447h1v1h-1zM985,447h2v1h-2zM1136,447h1v1h-1zM599,371h1v1h-1zM1301,371h3v1h-3zM637,511h1v1h-1zM776,511h1v1h-1zM633,495h1v1h-1zM788,495h1v1h-1zM235,221h1v1h-1zM364,221h1v1h-1zM664,563h2v1h-2zM696,563h2v1h-2zM254,188h1v1h-1zM352,188h1v1h-1zM644,541h1v1h-1zM715,541h1v1h-1zM584,323h1v1h-1zM248,199h1v1h-1zM356,199h1v1h-1zM585,324h1v1h-1zM629,477h1v1h-1zM800,477h1v1h-1zM187,271h4v1h-4zM559,271h1v1h-1zM640,524h1v1h-1zM734,524h1v1h-1zM588,334h1v1h-1zM560,272h1v1h-1zM643,535h1v1h-1zM720,535h1v1h-1zM591,344h1v1h-1zM566,287h1v1h-1zM631,485h1v1h-1zM797,485h1v1h-1zM573,303h1v1h-1zM606,396h1v1h-1zM1169,396h1v1h-1zM1197,396h1v1h-1zM1254,396h1v1h-1zM641,528h1v1h-1zM729,528h2v1h-2zM601,379h1v1h-1zM1283,379h1v1h-1zM253,190h1v1h-1zM353,190h1v1h-1zM243,208h1v1h-1zM359,208h1v1h-1zM679,567h4v1h-4zM687,567h2v1h-2zM266,165h1v1h-1zM345,165h1v1h-1zM249,197h1v1h-1zM355,197h1v1h-1zM593,351h1v1h-1zM1332,351h1v1h-1zM1334,351h2v1h-2zM601,380h1v1h-1zM1281,380h2v1h-2zM261,175h1v1h-1zM348,175h1v1h-1zM260,176h1v1h-1zM349,176h1v1h-1zM245,204h1v1h-1zM357,204h1v1h-1zM613,421h1v1h-1zM862,421h1v1h-1zM964,421h1v1h-1zM1156,421h1v1h-1zM583,320h1v1h-1zM290,148h2v1h-2zM338,148h1v1h-1zM635,501h1v1h-1zM783,501h1v1h-1zM572,301h1v1h-1zM637,510h1v1h-1zM776,510h1v1h-1zM656,560h2v1h-2zM703,560h1v1h-1zM575,306h1v1h-1zM244,206h1v1h-1zM358,206h1v1h-1zM298,145h2v1h-2zM336,145h1v1h-1zM295,146h3v1h-3zM337,146h1v1h-1zM244,205h1v1h-1zM358,205h1v1h-1zM593,350h1v1h-1zM1333,350h1v1h-1zM640,523h1v1h-1zM735,523h1v1h-1zM235,222h1v1h-1zM364,222h1v1h-1zM653,557h1v1h-1zM704,557h1v1h-1zM643,536h1v1h-1zM719,536h1v1h-1zM577,308h1v1h-1zM252,191h1v1h-1zM353,191h1v1h-1zM622,453h1v1h-1zM807,453h1v1h-1zM994,453h1v1h-1zM1131,453h1v1h-1zM247,201h1v1h-1zM356,201h1v1h-1zM560,274h1v1h-1zM643,537h1v1h-1zM718,537h1v1h-1zM631,486h1v1h-1zM796,486h1v1h-1zM566,289h1v1h-1zM227,234h1v1h-1zM370,234h1v1h-1zM653,558h1v1h-1zM704,558h1v1h-1zM265,166h1v1h-1zM345,166h1v1h-1zM632,489h1v1h-1zM793,489h1v1h-1zM265,167h1v1h-1zM345,167h1v1h-1zM589,338h1v1h-1zM561,275h1v1h-1zM279,153h2v1h-2zM340,153h1v1h-1zM593,349h1v1h-1zM568,292h1v1h-1zM243,207h1v1h-1zM358,207h1v1h-1zM622,452h1v1h-1zM808,452h1v1h-1zM992,452h2v1h-2zM1132,452h1v1h-1zM631,487h1v1h-1zM795,487h1v1h-1zM585,325h1v1h-1zM629,478h1v1h-1zM800,478h1v1h-1zM642,530h1v1h-1zM727,530h1v1h-1zM251,192h1v1h-1zM354,192h1v1h-1zM560,273h1v1h-1zM566,288h1v1h-1zM574,305h1v1h-1zM242,209h1v1h-1zM359,209h1v1h-1zM632,488h1v1h-1zM794,488h1v1h-1zM595,355h1v1h-1zM1327,355h1v1h-1zM1342,355h2v1h-2zM259,177h1v1h-1zM349,177h1v1h-1zM635,502h1v1h-1zM782,502h1v1h-1zM572,302h1v1h-1zM257,182h1v1h-1zM351,182h1v1h-1zM645,543h1v1h-1zM714,543h1v1h-1zM267,163h1v1h-1zM344,163h1v1h-1zM561,277h1v1h-1zM590,340h1v1h-1zM568,294h1v1h-1zM641,529h1v1h-1zM728,529h1v1h-1zM574,304h1v1h-1zM577,309h1v1h-1zM578,310h1v1h-1zM251,193h1v1h-1zM354,193h1v1h-1zM635,503h1v1h-1zM781,503h1v1h-1zM563,280h1v1h-1zM643,538h1v1h-1zM718,538h1v1h-1zM567,291h1v1h-1zM646,546h1v1h-1zM712,546h1v1h-1zM576,307h1v1h-1zM257,181h1v1h-1zM350,181h1v1h-1zM250,195h1v1h-1zM355,195h1v1h-1zM580,313h1v1h-1zM644,542h1v1h-1zM714,542h1v1h-1zM639,520h1v1h-1zM738,520h1v1h-1zM587,329h1v1h-1zM561,276h1v1h-1zM590,339h1v1h-1zM568,293h1v1h-1zM630,480h1v1h-1zM799,480h1v1h-1zM255,186h1v1h-1zM352,186h1v1h-1zM585,326h1v1h-1zM602,382h1v1h-1zM1278,382h1v1h-1zM567,290h1v1h-1zM563,282h1v1h-1zM570,298h1v1h-1z" fill="#3cb371" shape-rendering="crispEdges"/>
<g shape-rendering="geometricPrecision">
<path d="M1290.7,267.1 L1352.3,353.2" stroke="#ff0000" stroke-width="3.6" fill="none"/>
<path d="M1357.5,360.5 L1346.2,355.0 L1356.0,348.1 Z" fill="#ff0000"/>
<path d="M1357.5,360.5 L1374.9,300.1" stroke="#ff0000" stroke-width="3.6" fill="none"/>
<path d="M1377.4,291.5 L1380.1,303.7 L1368.6,300.4 Z" fill="#ff0000"/>
<path d="M1377.4,291.5 L1392.0,354.6" stroke="#ff0000" stroke-width="3.6" fill="none"/>
<path d="M1394.0,363.4 L1385.7,354.0 L1397.4,351.3 Z" fill="#ff0000"/>
</g>
<rect x="5" y="178" width="1" height="32" fill="#000"/>
<rect x="3" y="185" width="5" height="25" fill="#000"/>
<rect x="4" y="186" width="3" height="23" fill="#fff"/>
<rect x="13" y="171" width="1" height="22" fill="#000"/>
<rect x="11" y="176" width="5" height="13" fill="#000"/>
<rect x="21" y="183" width="1" height="9" fill="#000"/>
<rect x="19" y="183" width="5" height="4" fill="#000"/>
<rect x="29" y="184" width="1" height="17" fill="#000"/>
<rect x="27" y="195" width="5" height="4" fill="#000"/>
<rect x="28" y="196" width="3" height="2" fill="#fff"/>
<rect x="37" y="194" width="1" height="36" fill="#000"/>
<rect x="35" y="194" width="5" height="35" fill="#000"/>
<rect x="45" y="213" width="1" height="11" fill="#000"/>
<rect x="43" y="219" width="5" height="2" fill="#000"/>
<rect x="53" y="220" width="1" height="26" fill="#000"/>
<rect x="51" y="225" width="5" height="5" fill="#000"/>
<rect x="52" y="226" width="3" height="3" fill="#fff"/>
<rect x="61" y="237" width="1" height="15" fill="#000"/>
<rect x="59" y="245" width="5" height="3" fill="#000"/>
<rect x="60" y="246" width="3" height="1" fill="#fff"/>
<rect x="69" y="229" width="1" height="13" fill="#000"/>
<rect x="67" y="233" width="5" height="2" fill="#000"/>
<rect x="77" y="215" width="1" height="16" fill="#000"/>
<rect x="75" y="217" width="5" height="14" fill="#000"/>
<rect x="76" y="218" width="3" height="12" fill="#fff"/>
<rect x="85" y="208" width="1" height="15" fill="#000"/>
<rect x="83" y="217" width="5" height="3" fill="#000"/>
<rect x="84" y="218" width="3" height="1" fill="#fff"/>
<rect x="93" y="214" width="1" height="18" fill="#000"/>
<rect x="91" y="223" width="5" height="2" fill="#000"/>
<rect x="101" y="206" width="1" height="21" fill="#000"/>
<rect x="99" y="208" width="5" height="17" fill="#000"/>
<rect x="100" y="209" width="3" height="15" fill="#fff"/>
<rect x="109" y="181" width="1" height="21" fill="#000"/>
<rect x="107" y="187" width="5" height="15" fill="#000"/>
<rect x="108" y="188" width="3" height="13" fill="#fff"/>
<rect x="117" y="141" width="1" height="19" fill="#000"/>
<rect x="115" y="143" width="5" height="16" fill="#000"/>
<rect x="116" y="144" width="3" height="14" fill="#fff"/>
<rect x="125" y="141" width="1" height="15" fill="#000"/>
<rect x="123" y="150" width="5" height="2" fill="#000"/>
<rect x="133" y="130" width="1" height="23" fill="#000"/>
<rect x="131" y="136" width="5" height="13" fill="#000"/>
<rect x="132" y="137" width="3" height="11" fill="#fff"/>
<rect x="141" y="123" width="1" height="16" fill="#000"/>
<rect x="139" y="130" width="5" height="2" fill="#000"/>
<rect x="149" y="127" width="1" height="18" fill="#000"/>
<rect x="147" y="131" width="5" height="6" fill="#000"/>
<rect x="157" y="124" width="1" height="17" fill="#000"/>
<rect x="155" y="129" width="5" height="8" fill="#000"/>
<rect x="156" y="130" width="3" height="6" fill="#fff"/>
<rect x="165" y="122" width="1" height="13" fill="#000"/>
<rect x="163" y="122" width="5" height="13" fill="#000"/>
<rect x="173" y="124" width="1" height="8" fill="#000"/>
<rect x="171" y="126" width="5" height="2" fill="#000"/>
<rect x="181" y="95" width="1" height="22" fill="#000"/>
<rect x="179" y="100" width="5" height="17" fill="#000"/>
<rect x="180" y="101" width="3" height="15" fill="#fff"/>
<rect x="189" y="90" width="1" height="18" fill="#000"/>
<rect x="187" y="95" width="5" height="10" fill="#000"/>
<rect x="197" y="90" width="1" height="23" fill="#000"/>
<rect x="195" y="95" width="5" height="10" fill="#000"/>
<rect x="205" y="90" width="1" height="22" fill="#000"/>
<rect x="203" y="95" width="5" height="10" fill="#000"/>
<rect x="204" y="96" width="3" height="8" fill="#fff"/>
<rect x="213" y="80" width="1" height="24" fill="#000"/>
<rect x="211" y="85" width="5" height="15" fill="#000"/>
<rect x="221" y="98" width="1" height="23" fill="#000"/>
<rect x="219" y="108" width="5" height="6" fill="#000"/>
<rect x="229" y="92" width="1" height="16" fill="#000"/>
<rect x="227" y="99" width="5" height="2" fill="#000"/>
<rect x="237" y="109" width="1" height="25" fill="#000"/>
<rect x="235" y="122" width="5" height="10" fill="#000"/>
<rect x="236" y="123" width="3" height="8" fill="#fff"/>
<rect x="245" y="86" width="1" height="17" fill="#000"/>
<rect x="243" y="86" width="5" height="14" fill="#000"/>
<rect x="244" y="87" width="3" height="12" fill="#fff"/>
<rect x="253" y="80" width="1" height="12" fill="#000"/>
<rect x="251" y="83" width="5" height="2" fill="#000"/>
<rect x="261" y="60" width="1" height="22" fill="#000"/>
<rect x="259" y="66" width="5" height="16" fill="#000"/>
<rect x="260" y="67" width="3" height="14" fill="#fff"/>
<rect x="269" y="49" width="1" height="28" fill="#000"/>
<rect x="267" y="50" width="5" height="27" fill="#000"/>
<rect x="277" y="62" width="1" height="23" fill="#000"/>
<rect x="275" y="66" width="5" height="13" fill="#000"/>
<rect x="285" y="61" width="1" height="19" fill="#000"/>
<rect x="283" y="69" width="5" height="5" fill="#000"/>
<rect x="284" y="70" width="3" height="3" fill="#fff"/>
<rect x="293" y="53" width="1" height="23" fill="#000"/>
<rect x="291" y="58" width="5" height="4" fill="#000"/>
<rect x="292" y="59" width="3" height="2" fill="#fff"/>
<rect x="301" y="50" width="1" height="33" fill="#000"/>
<rect x="299" y="53" width="5" height="30" fill="#000"/>
<rect x="309" y="87" width="1" height="48" fill="#000"/>
<rect x="307" y="89" width="5" height="43" fill="#000"/>
<rect x="317" y="101" width="1" height="29" fill="#000"/>
<rect x="315" y="106" width="5" height="16" fill="#000"/>
<rect x="316" y="107" width="3" height="14" fill="#fff"/>
<rect x="325" y="117" width="1" height="27" fill="#000"/>
<rect x="323" y="122" width="5" height="15" fill="#000"/>
<rect x="333" y="129" width="1" height="14" fill="#000"/>
<rect x="331" y="133" width="5" height="10" fill="#000"/>
<rect x="332" y="134" width="3" height="8" fill="#fff"/>
<rect x="341" y="169" width="1" height="22" fill="#000"/>
<rect x="339" y="183" width="5" height="6" fill="#000"/>
<rect x="340" y="184" width="3" height="4" fill="#fff"/>
<rect x="349" y="182" width="1" height="52" fill="#000"/>
<rect x="347" y="193" width="5" height="36" fill="#000"/>
<rect x="357" y="202" width="1" height="33" fill="#000"/>
<rect x="355" y="205" width="5" height="30" fill="#000"/>
<rect x="365" y="221" width="1" height="28" fill="#000"/>
<rect x="363" y="236" width="5" height="2" fill="#000"/>
<rect x="373" y="201" width="1" height="29" fill="#000"/>
<rect x="371" y="201" width="5" height="27" fill="#000"/>
<rect x="372" y="202" width="3" height="25" fill="#fff"/>
<rect x="381" y="197" width="1" height="20" fill="#000"/>
<rect x="379" y="200" width="5" height="5" fill="#000"/>
<rect x="389" y="152" width="1" height="40" fill="#000"/>
<rect x="387" y="163" width="5" height="25" fill="#000"/>
<rect x="388" y="164" width="3" height="23" fill="#fff"/>
<rect x="397" y="166" width="1" height="14" fill="#000"/>
<rect x="395" y="170" width="5" height="10" fill="#000"/>
<rect x="396" y="171" width="3" height="8" fill="#fff"/>
<rect x="405" y="172" width="1" height="22" fill="#000"/>
<rect x="403" y="181" width="5" height="13" fill="#000"/>
<rect x="404" y="182" width="3" height="11" fill="#fff"/>
<rect x="413" y="149" width="1" height="21" fill="#000"/>
<rect x="411" y="152" width="5" height="18" fill="#000"/>
<rect x="412" y="153" width="3" height="16" fill="#fff"/>
<rect x="421" y="136" width="1" height="18" fill="#000"/>
<rect x="419" y="139" width="5" height="9" fill="#000"/>
<rect x="420" y="140" width="3" height="7" fill="#fff"/>
<rect x="429" y="135" width="1" height="15" fill="#000"/>
<rect x="427" y="137" width="5" height="9" fill="#000"/>
<rect x="437" y="131" width="1" height="19" fill="#000"/>
<rect x="435" y="140" width="5" height="4" fill="#000"/>
<rect x="436" y="141" width="3" height="2" fill="#fff"/>
<rect x="445" y="124" width="1" height="24" fill="#000"/>
<rect x="443" y="134" width="5" height="12" fill="#000"/>
<rect x="444" y="135" width="3" height="10" fill="#fff"/>
<rect x="453" y="143" width="1" height="19" fill="#000"/>
<rect x="451" y="143" width="5" height="19" fill="#000"/>
<rect x="461" y="147" width="1" height="17" fill="#000"/>
<rect x="459" y="151" width="5" height="8" fill="#000"/>
<rect x="460" y="152" width="3" height="6" fill="#fff"/>
<rect x="469" y="143" width="1" height="29" fill="#000"/>
<rect x="467" y="143" width="5" height="19" fill="#000"/>
<rect x="477" y="163" width="1" height="15" fill="#000"/>
<rect x="475" y="170" width="5" height="6" fill="#000"/>
<rect x="485" y="184" width="1" height="25" fill="#000"/>
<rect x="483" y="188" width="5" height="21" fill="#000"/>
<rect x="493" y="198" width="1" height="16" fill="#000"/>
<rect x="491" y="202" width="5" height="12" fill="#000"/>
<rect x="492" y="203" width="3" height="10" fill="#fff"/>
<rect x="501" y="208" width="1" height="25" fill="#000"/>
<rect x="499" y="214" width="5" height="19" fill="#000"/>
<rect x="500" y="215" width="3" height="17" fill="#fff"/>
<rect x="509" y="197" width="1" height="31" fill="#000"/>
<rect x="507" y="207" width="5" height="20" fill="#000"/>
<rect x="508" y="208" width="3" height="18" fill="#fff"/>
<rect x="517" y="231" width="1" height="24" fill="#000"/>
<rect x="515" y="239" width="5" height="2" fill="#000"/>
<rect x="525" y="227" width="1" height="28" fill="#000"/>
<rect x="523" y="232" width="5" height="20" fill="#000"/>
<rect x="524" y="233" width="3" height="18" fill="#fff"/>
<rect x="533" y="217" width="1" height="23" fill="#000"/>
<rect x="531" y="217" width="5" height="14" fill="#000"/>
<rect x="541" y="227" width="1" height="25" fill="#000"/>
<rect x="539" y="234" width="5" height="6" fill="#000"/>
<rect x="549" y="201" width="1" height="34" fill="#000"/>
<rect x="547" y="206" width="5" height="26" fill="#000"/>
<rect x="548" y="207" width="3" height="24" fill="#fff"/>
<rect x="557" y="224" width="1" height="25" fill="#000"/>
<rect x="555" y="227" width="5" height="22" fill="#000"/>
<rect x="565" y="294" width="1" height="30" fill="#000"/>
<rect x="563" y="303" width="5" height="19" fill="#000"/>
<rect x="573" y="276" width="1" height="40" fill="#000"/>
<rect x="571" y="284" width="5" height="18" fill="#000"/>
<rect x="572" y="285" width="3" height="16" fill="#fff"/>
<rect x="581" y="282" width="1" height="25" fill="#000"/>
<rect x="579" y="284" width="5" height="20" fill="#000"/>
<rect x="589" y="331" width="1" height="43" fill="#000"/>
<rect x="587" y="332" width="5" height="38" fill="#000"/>
<rect x="597" y="363" width="1" height="128" fill="#000"/>
<rect x="595" y="381" width="5" height="85" fill="#000"/>
<rect x="596" y="382" width="3" height="83" fill="#fff"/>
<rect x="605" y="403" width="1" height="53" fill="#000"/>
<rect x="603" y="432" width="5" height="22" fill="#000"/>
<rect x="613" y="411" width="1" height="51" fill="#000"/>
<rect x="611" y="434" width="5" height="15" fill="#000"/>
<rect x="612" y="435" width="3" height="13" fill="#fff"/>
<rect x="621" y="412" width="1" height="86" fill="#000"/>
<rect x="619" y="458" width="5" height="40" fill="#000"/>
<rect x="629" y="476" width="1" height="87" fill="#000"/>
<rect x="627" y="497" width="5" height="11" fill="#000"/>
<rect x="637" y="429" width="1" height="65" fill="#000"/>
<rect x="635" y="431" width="5" height="63" fill="#000"/>
<rect x="636" y="432" width="3" height="61" fill="#fff"/>
<rect x="645" y="494" width="1" height="48" fill="#000"/>
<rect x="643" y="530" width="5" height="12" fill="#000"/>
<rect x="644" y="531" width="3" height="10" fill="#fff"/>
<rect x="653" y="449" width="1" height="28" fill="#000"/>
<rect x="651" y="453" width="5" height="13" fill="#000"/>
<rect x="652" y="454" width="3" height="11" fill="#fff"/>
<rect x="661" y="396" width="1" height="38" fill="#000"/>
<rect x="659" y="398" width="5" height="22" fill="#000"/>
<rect x="660" y="399" width="3" height="20" fill="#fff"/>
<rect x="669" y="401" width="1" height="29" fill="#000"/>
<rect x="667" y="407" width="5" height="19" fill="#000"/>
<rect x="677" y="383" width="1" height="34" fill="#000"/>
<rect x="675" y="383" width="5" height="23" fill="#000"/>
<rect x="685" y="403" width="1" height="48" fill="#000"/>
<rect x="683" y="435" width="5" height="16" fill="#000"/>
<rect x="684" y="436" width="3" height="14" fill="#fff"/>
<rect x="693" y="389" width="1" height="34" fill="#000"/>
<rect x="691" y="392" width="5" height="11" fill="#000"/>
<rect x="692" y="393" width="3" height="9" fill="#fff"/>
<rect x="701" y="401" width="1" height="42" fill="#000"/>
<rect x="699" y="414" width="5" height="27" fill="#000"/>
<rect x="709" y="418" width="1" height="41" fill="#000"/>
<rect x="707" y="419" width="5" height="38" fill="#000"/>
<rect x="708" y="420" width="3" height="36" fill="#fff"/>
<rect x="717" y="420" width="1" height="16" fill="#000"/>
<rect x="715" y="423" width="5" height="10" fill="#000"/>
<rect x="716" y="424" width="3" height="8" fill="#fff"/>
<rect x="725" y="382" width="1" height="37" fill="#000"/>
<rect x="723" y="389" width="5" height="2" fill="#000"/>
<rect x="733" y="346" width="1" height="44" fill="#000"/>
<rect x="731" y="347" width="5" height="25" fill="#000"/>
<rect x="732" y="348" width="3" height="23" fill="#fff"/>
<rect x="741" y="360" width="1" height="29" fill="#000"/>
<rect x="739" y="370" width="5" height="19" fill="#000"/>
<rect x="749" y="352" width="1" height="21" fill="#000"/>
<rect x="747" y="360" width="5" height="2" fill="#000"/>
<rect x="757" y="336" width="1" height="23" fill="#000"/>
<rect x="755" y="348" width="5" height="9" fill="#000"/>
<rect x="756" y="349" width="3" height="7" fill="#fff"/>
<rect x="765" y="335" width="1" height="37" fill="#000"/>
<rect x="763" y="348" width="5" height="24" fill="#000"/>
<rect x="773" y="366" width="1" height="19" fill="#000"/>
<rect x="771" y="376" width="5" height="3" fill="#000"/>
<rect x="772" y="377" width="3" height="1" fill="#fff"/>
<rect x="781" y="331" width="1" height="27" fill="#000"/>
<rect x="779" y="342" width="5" height="10" fill="#000"/>
<rect x="789" y="344" width="1" height="19" fill="#000"/>
<rect x="787" y="355" width="5" height="2" fill="#000"/>
<rect x="797" y="358" width="1" height="39" fill="#000"/>
<rect x="795" y="364" width="5" height="27" fill="#000"/>
<rect x="805" y="378" width="1" height="31" fill="#000"/>
<rect x="803" y="382" width="5" height="24" fill="#000"/>
<rect x="804" y="383" width="3" height="22" fill="#fff"/>
<rect x="813" y="368" width="1" height="20" fill="#000"/>
<rect x="811" y="374" width="5" height="4" fill="#000"/>
<rect x="812" y="375" width="3" height="2" fill="#fff"/>
<rect x="821" y="385" width="1" height="16" fill="#000"/>
<rect x="819" y="390" width="5" height="2" fill="#000"/>
<rect x="829" y="359" width="1" height="21" fill="#000"/>
<rect x="827" y="362" width="5" height="18" fill="#000"/>
<rect x="828" y="363" width="3" height="16" fill="#fff"/>
<rect x="837" y="337" width="1" height="33" fill="#000"/>
<rect x="835" y="337" width="5" height="17" fill="#000"/>
<rect x="836" y="338" width="3" height="15" fill="#fff"/>
<rect x="845" y="325" width="1" height="22" fill="#000"/>
<rect x="843" y="336" width="5" height="6" fill="#000"/>
<rect x="853" y="390" width="1" height="27" fill="#000"/>
<rect x="851" y="393" width="5" height="20" fill="#000"/>
<rect x="861" y="386" width="1" height="18" fill="#000"/>
<rect x="859" y="388" width="5" height="10" fill="#000"/>
<rect x="860" y="389" width="3" height="8" fill="#fff"/>
<rect x="869" y="365" width="1" height="32" fill="#000"/>
<rect x="867" y="370" width="5" height="27" fill="#000"/>
<rect x="868" y="371" width="3" height="25" fill="#fff"/>
<rect x="877" y="375" width="1" height="13" fill="#000"/>
<rect x="875" y="379" width="5" height="4" fill="#000"/>
<rect x="885" y="362" width="1" height="12" fill="#000"/>
<rect x="883" y="366" width="5" height="3" fill="#000"/>
<rect x="884" y="367" width="3" height="1" fill="#fff"/>
<rect x="893" y="330" width="1" height="26" fill="#000"/>
<rect x="891" y="343" width="5" height="9" fill="#000"/>
<rect x="892" y="344" width="3" height="7" fill="#fff"/>
<rect x="901" y="354" width="1" height="20" fill="#000"/>
<rect x="899" y="359" width="5" height="6" fill="#000"/>
<rect x="909" y="358" width="1" height="24" fill="#000"/>
<rect x="907" y="369" width="5" height="9" fill="#000"/>
<rect x="908" y="370" width="3" height="7" fill="#fff"/>
<rect x="917" y="376" width="1" height="21" fill="#000"/>
<rect x="915" y="377" width="5" height="17" fill="#000"/>
<rect x="925" y="379" width="1" height="23" fill="#000"/>
<rect x="923" y="387" width="5" height="8" fill="#000"/>
<rect x="933" y="377" width="1" height="21" fill="#000"/>
<rect x="931" y="378" width="5" height="20" fill="#000"/>
<rect x="932" y="379" width="3" height="18" fill="#fff"/>
<rect x="941" y="340" width="1" height="19" fill="#000"/>
<rect x="939" y="353" width="5" height="3" fill="#000"/>
<rect x="940" y="354" width="3" height="1" fill="#fff"/>
<rect x="949" y="343" width="1" height="15" fill="#000"/>
<rect x="947" y="346" width="5" height="8" fill="#000"/>
<rect x="948" y="347" width="3" height="6" fill="#fff"/>
<rect x="957" y="344" width="1" height="22" fill="#000"/>
<rect x="955" y="350" width="5" height="16" fill="#000"/>
<rect x="965" y="392" width="1" height="63" fill="#000"/>
<rect x="963" y="392" width="5" height="63" fill="#000"/>
<rect x="973" y="439" width="1" height="27" fill="#000"/>
<rect x="971" y="443" width="5" height="5" fill="#000"/>
<rect x="972" y="444" width="3" height="3" fill="#fff"/>
<rect x="981" y="406" width="1" height="22" fill="#000"/>
<rect x="979" y="414" width="5" height="14" fill="#000"/>
<rect x="980" y="415" width="3" height="12" fill="#fff"/>
<rect x="989" y="417" width="1" height="25" fill="#000"/>
<rect x="987" y="423" width="5" height="13" fill="#000"/>
<rect x="997" y="421" width="1" height="44" fill="#000"/>
<rect x="995" y="439" width="5" height="3" fill="#000"/>
<rect x="1005" y="443" width="1" height="30" fill="#000"/>
<rect x="1003" y="450" width="5" height="8" fill="#000"/>
<rect x="1004" y="451" width="3" height="6" fill="#fff"/>
<rect x="1013" y="394" width="1" height="32" fill="#000"/>
<rect x="1011" y="409" width="5" height="17" fill="#000"/>
<rect x="1012" y="410" width="3" height="15" fill="#fff"/>
<rect x="1021" y="377" width="1" height="27" fill="#000"/>
<rect x="1019" y="377" width="5" height="20" fill="#000"/>
<rect x="1020" y="378" width="3" height="18" fill="#fff"/>
<rect x="1029" y="351" width="1" height="17" fill="#000"/>
<rect x="1027" y="351" width="5" height="9" fill="#000"/>
<rect x="1037" y="338" width="1" height="28" fill="#000"/>
<rect x="1035" y="340" width="5" height="16" fill="#000"/>
<rect x="1045" y="325" width="1" height="39" fill="#000"/>
<rect x="1043" y="330" width="5" height="29" fill="#000"/>
<rect x="1044" y="331" width="3" height="27" fill="#fff"/>
<rect x="1053" y="312" width="1" height="25" fill="#000"/>
<rect x="1051" y="315" width="5" height="13" fill="#000"/>
<rect x="1061" y="300" width="1" height="29" fill="#000"/>
<rect x="1059" y="320" width="5" height="5" fill="#000"/>
<rect x="1060" y="321" width="3" height="3" fill="#fff"/>
<rect x="1069" y="296" width="1" height="23" fill="#000"/>
<rect x="1067" y="310" width="5" height="2" fill="#000"/>
<rect x="1077" y="311" width="1" height="43" fill="#000"/>
<rect x="1075" y="317" width="5" height="35" fill="#000"/>
<rect x="1085" y="359" width="1" height="28" fill="#000"/>
<rect x="1083" y="360" width="5" height="22" fill="#000"/>
<rect x="1084" y="361" width="3" height="20" fill="#fff"/>
<rect x="1093" y="364" width="1" height="38" fill="#000"/>
<rect x="1091" y="380" width="5" height="13" fill="#000"/>
<rect x="1101" y="344" width="1" height="17" fill="#000"/>
<rect x="1099" y="350" width="5" height="2" fill="#000"/>
<rect x="1109" y="344" width="1" height="25" fill="#000"/>
<rect x="1107" y="348" width="5" height="7" fill="#000"/>
<rect x="1108" y="349" width="3" height="5" fill="#fff"/>
<rect x="1117" y="346" width="1" height="27" fill="#000"/>
<rect x="1115" y="352" width="5" height="6" fill="#000"/>
<rect x="1116" y="353" width="3" height="4" fill="#fff"/>
<rect x="1125" y="328" width="1" height="32" fill="#000"/>
<rect x="1123" y="335" width="5" height="21" fill="#000"/>
<rect x="1124" y="336" width="3" height="19" fill="#fff"/>
<rect x="1133" y="335" width="1" height="17" fill="#000"/>
<rect x="1131" y="345" width="5" height="7" fill="#000"/>
<rect x="1132" y="346" width="3" height="5" fill="#fff"/>
<rect x="1141" y="312" width="1" height="54" fill="#000"/>
<rect x="1139" y="314" width="5" height="20" fill="#000"/>
<rect x="1140" y="315" width="3" height="18" fill="#fff"/>
<rect x="1149" y="314" width="1" height="32" fill="#000"/>
<rect x="1147" y="318" width="5" height="24" fill="#000"/>
<rect x="1157" y="337" width="1" height="19" fill="#000"/>
<rect x="1155" y="352" width="5" height="4" fill="#000"/>
<rect x="1156" y="353" width="3" height="2" fill="#fff"/>
<rect x="1165" y="347" width="1" height="32" fill="#000"/>
<rect x="1163" y="357" width="5" height="14" fill="#000"/>
<rect x="1173" y="348" width="1" height="23" fill="#000"/>
<rect x="1171" y="352" width="5" height="6" fill="#000"/>
<rect x="1181" y="303" width="1" height="47" fill="#000"/>
<rect x="1179" y="303" width="5" height="42" fill="#000"/>
<rect x="1180" y="304" width="3" height="40" fill="#fff"/>
<rect x="1189" y="285" width="1" height="23" fill="#000"/>
<rect x="1187" y="293" width="5" height="15" fill="#000"/>
<rect x="1188" y="294" width="3" height="13" fill="#fff"/>
<rect x="1197" y="222" width="1" height="59" fill="#000"/>
<rect x="1195" y="228" width="5" height="53" fill="#000"/>
<rect x="1196" y="229" width="3" height="51" fill="#fff"/>
<rect x="1205" y="200" width="1" height="53" fill="#000"/>
<rect x="1203" y="210" width="5" height="42" fill="#000"/>
<rect x="1213" y="229" width="1" height="29" fill="#000"/>
<rect x="1211" y="242" width="5" height="4" fill="#000"/>
<rect x="1221" y="225" width="1" height="25" fill="#000"/>
<rect x="1219" y="232" width="5" height="2" fill="#000"/>
<rect x="1229" y="239" width="1" height="38" fill="#000"/>
<rect x="1227" y="248" width="5" height="21" fill="#000"/>
<rect x="1237" y="242" width="1" height="26" fill="#000"/>
<rect x="1235" y="259" width="5" height="7" fill="#000"/>
<rect x="1245" y="269" width="1" height="26" fill="#000"/>
<rect x="1243" y="271" width="5" height="8" fill="#000"/>
<rect x="1253" y="256" width="1" height="36" fill="#000"/>
<rect x="1251" y="263" width="5" height="19" fill="#000"/>
<rect x="1261" y="273" width="1" height="45" fill="#000"/>
<rect x="1259" y="276" width="5" height="42" fill="#000"/>
<rect x="1269" y="295" width="1" height="17" fill="#000"/>
<rect x="1267" y="301" width="5" height="2" fill="#000"/>
<rect x="1277" y="298" width="1" height="30" fill="#000"/>
<rect x="1275" y="310" width="5" height="2" fill="#000"/>
<rect x="1285" y="272" width="1" height="19" fill="#000"/>
<rect x="1283" y="274" width="5" height="13" fill="#000"/>
<rect x="1284" y="275" width="3" height="11" fill="#fff"/>
<rect x="1293" y="262" width="1" height="50" fill="#000"/>
<rect x="1291" y="278" width="5" height="28" fill="#000"/>
<rect x="1301" y="291" width="1" height="23" fill="#000"/>
<rect x="1299" y="297" width="5" height="6" fill="#000"/>
<rect x="1300" y="298" width="3" height="4" fill="#fff"/>
<rect x="1309" y="305" width="1" height="33" fill="#000"/>
<rect x="1307" y="311" width="5" height="21" fill="#000"/>
<rect x="1317" y="313" width="1" height="27" fill="#000"/>
<rect x="1315" y="317" width="5" height="18" fill="#000"/>
<rect x="1325" y="313" width="1" height="20" fill="#000"/>
<rect x="1323" y="316" width="5" height="11" fill="#000"/>
<rect x="1333" y="318" width="1" height="15" fill="#000"/>
<rect x="1331" y="320" width="5" height="9" fill="#000"/>
<rect x="1332" y="321" width="3" height="7" fill="#fff"/>
<rect x="1341" y="300" width="1" height="40" fill="#000"/>
<rect x="1339" y="317" width="5" height="18" fill="#000"/>
<rect x="1349" y="316" width="1" height="27" fill="#000"/>
<rect x="1347" y="328" width="5" height="11" fill="#000"/>
<rect x="1357" y="336" width="1" height="26" fill="#000"/>
<rect x="1355" y="338" width="5" height="16" fill="#000"/>
<rect x="1365" y="307" width="1" height="37" fill="#000"/>
<rect x="1363" y="316" width="5" height="20" fill="#000"/>
<rect x="1364" y="317" width="3" height="18" fill="#fff"/>
<rect x="1373" y="308" width="1" height="14" fill="#000"/>
<rect x="1371" y="308" width="5" height="7" fill="#000"/>
<rect x="1372" y="309" width="3" height="5" fill="#fff"/>
<rect x="1381" y="297" width="1" height="40" fill="#000"/>
<rect x="1379" y="304" width="5" height="19" fill="#000"/>
<rect x="1389" y="317" width="1" height="48" fill="#000"/>
<rect x="1387" y="323" width="5" height="27" fill="#000"/>
<rect x="1397" y="342" width="1" height="19" fill="#000"/>
<rect x="1395" y="348" width="5" height="13" fill="#000"/>
<rect x="1396" y="349" width="3" height="11" fill="#fff"/>
<rect x="1405" y="309" width="1" height="31" fill="#000"/>
<rect x="1403" y="314" width="5" height="26" fill="#000"/>
<rect x="1404" y="315" width="3" height="24" fill="#fff"/>
<rect x="1413" y="293" width="1" height="41" fill="#000"/>
<rect x="1411" y="297" width="5" height="28" fill="#000"/>
<rect x="1412" y="298" width="3" height="26" fill="#fff"/>
<rect x="1421" y="283" width="1" height="20" fill="#000"/>
<rect x="1419" y="287" width="5" height="16" fill="#000"/>
<rect x="1429" y="295" width="1" height="16" fill="#000"/>
<rect x="1427" y="304" width="5" height="2" fill="#000"/>
<rect x="1437" y="282" width="1" height="21" fill="#000"/>
<rect x="1435" y="293" width="5" height="7" fill="#000"/>
<rect x="1436" y="294" width="3" height="5" fill="#fff"/>
<rect x="1445" y="287" width="1" height="11" fill="#000"/>
<rect x="1443" y="288" width="5" height="3" fill="#000"/>
<rect x="1453" y="290" width="1" height="20" fill="#000"/>
<rect x="1451" y="298" width="5" height="5" fill="#000"/>
</g>
<g clip-path="url(#cm)">
<g shape-rendering="geometricPrecision">
<path d="M1394.0,363.4 L1435.5,278.6" stroke="#ff0000" stroke-width="3.6" fill="none"/>
<path d="M1439.5,270.5 L1440.1,283.0 L1429.3,277.7 Z" fill="#ff0000"/>
<path d="M1439.5,270.5 L1450.9,295.7" stroke="#ff0000" stroke-width="3.6" fill="none"/>
<path d="M1454.2,303.0 L1445.1,296.2 L1455.1,291.6 Z" fill="#ff0000"/>
</g>
<g shape-rendering="crispEdges">
<rect x="1384" y="314" width="108" height="9" fill="#00ff00"/>
<path d="M1408.5,279.5 H1466.5 V306.5 H1408.5 Z" fill="none" stroke="#0000ff" stroke-width="3"/>
<rect x="934" y="317" width="10" height="1" fill="#ff0000"/>
<rect x="944.5" y="305.5" width="73" height="24" fill="#ffffff" stroke="#ff0000" stroke-width="1"/>
</g>
<text x="946" y="326" font-size="22.5" fill="#ff0000" textLength="70" lengthAdjust="spacingAndGlyphs">24901.6</text>
<path d="M1519.5,313.5 L1511.5,319.5 M1517,316 H1526.5 L1514.5,323.5 M1516.5,318.5 L1519,320.5 M1519,321.5 L1510.5,327 M1517.5,324 H1528 Q1522,330 1511,331.5 M1515.5,326.5 L1518,328.5 M1542.5,313 L1543.5,316 M1534.5,319.5 V316.2 H1551 L1550,319 M1540.5,318.5 L1535,323.5 M1545,318.5 L1551,321.5 M1536.5,323.5 H1549 M1542.6,323.5 V330 M1533.6,330.5 H1552.3 M1556.5,316.3 H1565 M1560,314.5 L1557.5,321.5 H1565.5 M1561.5,318 V332 M1556.5,325.5 L1566,323.8 M1567,316.8 H1575 M1566.5,320.8 H1576 M1570.5,313.5 L1568.5,324.8 H1574 L1566.5,327.8 M1566.5,327.5 L1572.5,331.5 M1579,321 H1586.5 M1584,313 V331.5 L1580.5,330.5 M1579,325 L1586.5,321.5 M1597,313.7 L1588.5,316.5 Q1588.5,327 1582.8,331.7 M1588.5,320.5 H1598.5 M1594,320.5 V331.7 M1611.4,313.3 V320 M1611.4,316.6 H1620.2 M1606.2,320 H1618 V325.5 H1606.2 Z M1605.5,327.5 L1604.2,331 M1609.8,328 L1610.8,330.5 M1614.5,328 L1615.5,330.5 M1618.8,327.5 L1620.5,331" fill="none" stroke="#00ff00" stroke-width="1.7" stroke-linecap="square"/>
<path d="M0,32.5 L3.5,28 L7,32.5 Z" fill="#000"/>
<text x="12.3" y="33.7" font-size="9.6" fill="#000" textLength="50.4" lengthAdjust="spacingAndGlyphs">HK50-,Daily</text>
<text x="69" y="33.7" font-size="9.6" fill="#000" textLength="140.5" lengthAdjust="spacingAndGlyphs">25215.0 25336.0 25037.0 25125.0</text>
<g shape-rendering="crispEdges">
<rect x="0" y="42" width="219" height="66" fill="#ffffff"/>
</g>
<path d="M0.5,42.5 H51.5 V66.5 H108.5 V105.5 H0.5 Z" fill="url(#gbody)" stroke="#a00000" stroke-width="1" shape-rendering="crispEdges"/>
<path d="M0.5,42.5 H51.5 V66 H0.5 Z" fill="url(#gtab)" shape-rendering="crispEdges"/>
<path d="M218.5,42.5 H167.5 V66.5 H111.5 V105.5 H218.5 Z" fill="url(#gbody)" stroke="#a00000" stroke-width="1" shape-rendering="crispEdges"/>
<path d="M218,43 H168 V66 H218 Z" fill="url(#gtab)" shape-rendering="crispEdges"/>
<g shape-rendering="crispEdges">
<rect x="4" y="65" width="44" height="1" fill="#8a0000"/>
<rect x="4" y="66" width="44" height="1" fill="#f05a5a"/>
<rect x="171" y="65" width="44" height="1" fill="#8a0000"/>
<rect x="171" y="66" width="44" height="1" fill="#f05a5a"/>
<rect x="54.5" y="42.5" width="110" height="21" fill="#ffffff" stroke="#a8acb4" stroke-width="1"/>
<rect x="55.5" y="43.5" width="19" height="19" fill="url(#gbtn)" stroke="#c4c8ce" stroke-width="1"/>
<rect x="143.5" y="43.5" width="20" height="19" fill="url(#gbtn)" stroke="#c4c8ce" stroke-width="1"/>
<rect x="75" y="43" width="1" height="20" fill="#a8acb4"/>
<rect x="143" y="43" width="1" height="20" fill="#a8acb4"/>
</g>
<path d="M62,51 h5.5 l-2.75,2.5 z" fill="#4a5ad0"/>
<path d="M151,53.5 h5.5 l-2.75,-2.5 z" fill="#4a5ad0"/>
<text x="116.8" y="57" font-size="12" fill="#000" textLength="22.8" lengthAdjust="spacingAndGlyphs">1.00</text>
<text x="12.3" y="57.9" font-size="12" fill="#fff" textLength="25.6" lengthAdjust="spacingAndGlyphs">SELL</text>
<text x="180.9" y="57.9" font-size="12" fill="#fff" textLength="23.1" lengthAdjust="spacingAndGlyphs">BUY</text>
<text x="16.4" y="96.8" font-size="12" fill="#fff" textLength="34.2" lengthAdjust="spacingAndGlyphs" font-weight="bold">25123</text>
<text x="126" y="96.8" font-size="12" fill="#fff" textLength="35" lengthAdjust="spacingAndGlyphs" font-weight="bold">25140</text>
<circle cx="57" cy="95" r="2" fill="#fff"/>
<circle cx="168" cy="95" r="2" fill="#fff"/>
<text x="63.3" y="97" font-size="34.5" fill="#fff" textLength="13.8" lengthAdjust="spacingAndGlyphs" stroke="#c41616" stroke-width="0.6">5</text>
<text x="173.8" y="97" font-size="34.5" fill="#fff" textLength="14.2" lengthAdjust="spacingAndGlyphs" stroke="#c41616" stroke-width="0.6">5</text>
</g>
<g shape-rendering="crispEdges">
<rect x="0" y="22" width="1691" height="1" fill="#000"/>
<rect x="1690" y="22" width="1" height="554" fill="#000"/>
<rect x="0" y="575" width="1691" height="1" fill="#000"/>
<rect x="0" y="577" width="1691" height="1" fill="#000"/>
<rect x="1690" y="577" width="1" height="171" fill="#000"/>
<rect x="0" y="747" width="1691" height="1" fill="#000"/>
<rect x="0" y="749" width="1691" height="1" fill="#000"/>
<rect x="1690" y="749" width="1" height="175" fill="#000"/>
<rect x="0" y="923" width="1691" height="1" fill="#000"/>
</g>
<path d="M1464,23 H1473.5 L1468.75,28.2 Z" fill="#c0c0c0"/>
<g shape-rendering="crispEdges">
<rect x="1691" y="44" width="3" height="1" fill="#000"/>
<rect x="1691" y="77" width="3" height="1" fill="#000"/>
<rect x="1691" y="110" width="3" height="1" fill="#000"/>
<rect x="1691" y="144" width="3" height="1" fill="#000"/>
<rect x="1691" y="176" width="3" height="1" fill="#000"/>
<rect x="1691" y="209" width="3" height="1" fill="#000"/>
<rect x="1691" y="242" width="3" height="1" fill="#000"/>
<rect x="1691" y="276" width="3" height="1" fill="#000"/>
<rect x="1691" y="309" width="3" height="1" fill="#000"/>
<rect x="1691" y="341" width="3" height="1" fill="#000"/>
<rect x="1691" y="374" width="3" height="1" fill="#000"/>
<rect x="1691" y="407" width="3" height="1" fill="#000"/>
<rect x="1691" y="441" width="3" height="1" fill="#000"/>
<rect x="1691" y="474" width="3" height="1" fill="#000"/>
<rect x="1691" y="506" width="3" height="1" fill="#000"/>
<rect x="1691" y="539" width="3" height="1" fill="#000"/>
<rect x="1691" y="572" width="3" height="1" fill="#000"/>
</g>
<text x="1696" y="48" font-size="9.6" fill="#000" textLength="33" lengthAdjust="spacingAndGlyphs">29298.0</text>
<text x="1696" y="81" font-size="9.6" fill="#000" textLength="33" lengthAdjust="spacingAndGlyphs">28770.0</text>
<text x="1696" y="114" font-size="9.6" fill="#000" textLength="33" lengthAdjust="spacingAndGlyphs">28242.0</text>
<text x="1696" y="148" font-size="9.6" fill="#000" textLength="33" lengthAdjust="spacingAndGlyphs">27698.0</text>
<text x="1696" y="180" font-size="9.6" fill="#000" textLength="33" lengthAdjust="spacingAndGlyphs">27170.0</text>
<text x="1696" y="213" font-size="9.6" fill="#000" textLength="33" lengthAdjust="spacingAndGlyphs">26642.0</text>
<text x="1696" y="246" font-size="9.6" fill="#000" textLength="33" lengthAdjust="spacingAndGlyphs">26114.0</text>
<text x="1696" y="280" font-size="9.6" fill="#000" textLength="33" lengthAdjust="spacingAndGlyphs">25570.0</text>
<text x="1696" y="313" font-size="9.6" fill="#000" textLength="33" lengthAdjust="spacingAndGlyphs">25042.0</text>
<text x="1696" y="345" font-size="9.6" fill="#000" textLength="33" lengthAdjust="spacingAndGlyphs">24514.0</text>
<text x="1696" y="378" font-size="9.6" fill="#000" textLength="33" lengthAdjust="spacingAndGlyphs">23986.0</text>
<text x="1696" y="411" font-size="9.6" fill="#000" textLength="33" lengthAdjust="spacingAndGlyphs">23458.0</text>
<text x="1696" y="445" font-size="9.6" fill="#000" textLength="33" lengthAdjust="spacingAndGlyphs">22914.0</text>
<text x="1696" y="478" font-size="9.6" fill="#000" textLength="33" lengthAdjust="spacingAndGlyphs">22386.0</text>
<text x="1696" y="510" font-size="9.6" fill="#000" textLength="33" lengthAdjust="spacingAndGlyphs">21858.0</text>
<text x="1696" y="543" font-size="9.6" fill="#000" textLength="33" lengthAdjust="spacingAndGlyphs">21330.0</text>
<text x="1696" y="576" font-size="9.6" fill="#000" textLength="33" lengthAdjust="spacingAndGlyphs">20802.0</text>
<g shape-rendering="crispEdges">
<rect x="1691" y="249" width="3" height="1" fill="#000"/>
<rect x="1692" y="243" width="41" height="11" fill="#ff0000"/>
</g>
<text x="1696" y="253" font-size="10" fill="#fff" textLength="33" lengthAdjust="spacingAndGlyphs">25994.8</text>
<g shape-rendering="crispEdges">
<rect x="1691" y="275" width="3" height="1" fill="#000"/>
<rect x="1692" y="269" width="41" height="11" fill="#ff0000"/>
</g>
<text x="1696" y="279" font-size="10" fill="#fff" textLength="33" lengthAdjust="spacingAndGlyphs">25576.8</text>
<g shape-rendering="crispEdges">
<rect x="1691" y="303" width="3" height="1" fill="#000"/>
<rect x="1692" y="297" width="41" height="11" fill="#000000"/>
</g>
<text x="1696" y="307" font-size="10" fill="#fff" textLength="33" lengthAdjust="spacingAndGlyphs">25125.0</text>
<g shape-rendering="crispEdges">
<rect x="1691" y="317" width="3" height="1" fill="#000"/>
<rect x="1692" y="311" width="41" height="11" fill="#32cd32"/>
</g>
<text x="1696" y="321" font-size="10" fill="#fff" textLength="33" lengthAdjust="spacingAndGlyphs">24901.6</text>
<g shape-rendering="crispEdges">
<rect x="1691" y="342" width="3" height="1" fill="#000"/>
<rect x="1692" y="336" width="41" height="11" fill="#0000ff"/>
</g>
<text x="1696" y="346" font-size="10" fill="#fff" textLength="33" lengthAdjust="spacingAndGlyphs">24499.7</text>
<g shape-rendering="crispEdges">
<rect x="1691" y="366" width="3" height="1" fill="#000"/>
<rect x="1692" y="360" width="41" height="11" fill="#0000ff"/>
</g>
<text x="1696" y="370" font-size="10" fill="#fff" textLength="33" lengthAdjust="spacingAndGlyphs">24113.9</text>
<g clip-path="url(#cmacd)" shape-rendering="crispEdges">
<rect x="29" y="628" width="1" height="2" fill="#c0c0c0"/>
<rect x="37" y="628" width="1" height="3" fill="#c0c0c0"/>
<rect x="45" y="628" width="1" height="5" fill="#c0c0c0"/>
<rect x="53" y="628" width="1" height="7" fill="#c0c0c0"/>
<rect x="61" y="628" width="1" height="10" fill="#c0c0c0"/>
<rect x="69" y="628" width="1" height="11" fill="#c0c0c0"/>
<rect x="77" y="628" width="1" height="11" fill="#c0c0c0"/>
<rect x="85" y="628" width="1" height="11" fill="#c0c0c0"/>
<rect x="93" y="628" width="1" height="10" fill="#c0c0c0"/>
<rect x="101" y="628" width="1" height="9" fill="#c0c0c0"/>
<rect x="109" y="628" width="1" height="5" fill="#c0c0c0"/>
<rect x="117" y="626" width="1" height="2" fill="#c0c0c0"/>
<rect x="125" y="621" width="1" height="7" fill="#c0c0c0"/>
<rect x="133" y="615" width="1" height="13" fill="#c0c0c0"/>
<rect x="141" y="610" width="1" height="18" fill="#c0c0c0"/>
<rect x="149" y="608" width="1" height="20" fill="#c0c0c0"/>
<rect x="157" y="606" width="1" height="22" fill="#c0c0c0"/>
<rect x="165" y="603" width="1" height="25" fill="#c0c0c0"/>
<rect x="173" y="602" width="1" height="26" fill="#c0c0c0"/>
<rect x="181" y="599" width="1" height="29" fill="#c0c0c0"/>
<rect x="189" y="596" width="1" height="32" fill="#c0c0c0"/>
<rect x="197" y="595" width="1" height="33" fill="#c0c0c0"/>
<rect x="205" y="592" width="1" height="36" fill="#c0c0c0"/>
<rect x="213" y="592" width="1" height="36" fill="#c0c0c0"/>
<rect x="221" y="594" width="1" height="34" fill="#c0c0c0"/>
<rect x="229" y="594" width="1" height="34" fill="#c0c0c0"/>
<rect x="237" y="597" width="1" height="31" fill="#c0c0c0"/>
<rect x="245" y="596" width="1" height="32" fill="#c0c0c0"/>
<rect x="253" y="595" width="1" height="33" fill="#c0c0c0"/>
<rect x="261" y="593" width="1" height="35" fill="#c0c0c0"/>
<rect x="269" y="593" width="1" height="35" fill="#c0c0c0"/>
<rect x="277" y="593" width="1" height="35" fill="#c0c0c0"/>
<rect x="285" y="593" width="1" height="35" fill="#c0c0c0"/>
<rect x="293" y="593" width="1" height="35" fill="#c0c0c0"/>
<rect x="301" y="594" width="1" height="34" fill="#c0c0c0"/>
<rect x="309" y="602" width="1" height="26" fill="#c0c0c0"/>
<rect x="317" y="606" width="1" height="22" fill="#c0c0c0"/>
<rect x="325" y="612" width="1" height="16" fill="#c0c0c0"/>
<rect x="333" y="617" width="1" height="11" fill="#c0c0c0"/>
<rect x="341" y="626" width="1" height="2" fill="#c0c0c0"/>
<rect x="349" y="628" width="1" height="10" fill="#c0c0c0"/>
<rect x="357" y="628" width="1" height="20" fill="#c0c0c0"/>
<rect x="365" y="628" width="1" height="28" fill="#c0c0c0"/>
<rect x="373" y="628" width="1" height="30" fill="#c0c0c0"/>
<rect x="381" y="628" width="1" height="31" fill="#c0c0c0"/>
<rect x="389" y="628" width="1" height="28" fill="#c0c0c0"/>
<rect x="397" y="628" width="1" height="26" fill="#c0c0c0"/>
<rect x="405" y="628" width="1" height="24" fill="#c0c0c0"/>
<rect x="413" y="628" width="1" height="21" fill="#c0c0c0"/>
<rect x="421" y="628" width="1" height="16" fill="#c0c0c0"/>
<rect x="429" y="628" width="1" height="13" fill="#c0c0c0"/>
<rect x="437" y="628" width="1" height="10" fill="#c0c0c0"/>
<rect x="445" y="628" width="1" height="6" fill="#c0c0c0"/>
<rect x="453" y="628" width="1" height="7" fill="#c0c0c0"/>
<rect x="461" y="628" width="1" height="5" fill="#c0c0c0"/>
<rect x="469" y="628" width="1" height="5" fill="#c0c0c0"/>
<rect x="477" y="628" width="1" height="8" fill="#c0c0c0"/>
<rect x="485" y="628" width="1" height="11" fill="#c0c0c0"/>
<rect x="493" y="628" width="1" height="15" fill="#c0c0c0"/>
<rect x="501" y="628" width="1" height="19" fill="#c0c0c0"/>
<rect x="509" y="628" width="1" height="21" fill="#c0c0c0"/>
<rect x="517" y="628" width="1" height="25" fill="#c0c0c0"/>
<rect x="525" y="628" width="1" height="28" fill="#c0c0c0"/>
<rect x="533" y="628" width="1" height="29" fill="#c0c0c0"/>
<rect x="541" y="628" width="1" height="31" fill="#c0c0c0"/>
<rect x="549" y="628" width="1" height="29" fill="#c0c0c0"/>
<rect x="557" y="628" width="1" height="31" fill="#c0c0c0"/>
<rect x="565" y="628" width="1" height="40" fill="#c0c0c0"/>
<rect x="573" y="628" width="1" height="43" fill="#c0c0c0"/>
<rect x="581" y="628" width="1" height="47" fill="#c0c0c0"/>
<rect x="589" y="628" width="1" height="55" fill="#c0c0c0"/>
<rect x="597" y="628" width="1" height="64" fill="#c0c0c0"/>
<rect x="605" y="628" width="1" height="77" fill="#c0c0c0"/>
<rect x="613" y="628" width="1" height="85" fill="#c0c0c0"/>
<rect x="621" y="628" width="1" height="97" fill="#c0c0c0"/>
<rect x="629" y="628" width="1" height="106" fill="#c0c0c0"/>
<rect x="637" y="628" width="1" height="104" fill="#c0c0c0"/>
<rect x="645" y="628" width="1" height="112" fill="#c0c0c0"/>
<rect x="653" y="628" width="1" height="108" fill="#c0c0c0"/>
<rect x="661" y="628" width="1" height="98" fill="#c0c0c0"/>
<rect x="669" y="628" width="1" height="93" fill="#c0c0c0"/>
<rect x="677" y="628" width="1" height="85" fill="#c0c0c0"/>
<rect x="685" y="628" width="1" height="81" fill="#c0c0c0"/>
<rect x="693" y="628" width="1" height="72" fill="#c0c0c0"/>
<rect x="701" y="628" width="1" height="70" fill="#c0c0c0"/>
<rect x="709" y="628" width="1" height="65" fill="#c0c0c0"/>
<rect x="717" y="628" width="1" height="61" fill="#c0c0c0"/>
<rect x="725" y="628" width="1" height="54" fill="#c0c0c0"/>
<rect x="733" y="628" width="1" height="43" fill="#c0c0c0"/>
<rect x="741" y="628" width="1" height="38" fill="#c0c0c0"/>
<rect x="749" y="628" width="1" height="31" fill="#c0c0c0"/>
<rect x="757" y="628" width="1" height="24" fill="#c0c0c0"/>
<rect x="765" y="628" width="1" height="19" fill="#c0c0c0"/>
<rect x="773" y="628" width="1" height="17" fill="#c0c0c0"/>
<rect x="781" y="628" width="1" height="13" fill="#c0c0c0"/>
<rect x="789" y="628" width="1" height="10" fill="#c0c0c0"/>
<rect x="797" y="628" width="1" height="11" fill="#c0c0c0"/>
<rect x="805" y="628" width="1" height="11" fill="#c0c0c0"/>
<rect x="813" y="628" width="1" height="9" fill="#c0c0c0"/>
<rect x="821" y="628" width="1" height="10" fill="#c0c0c0"/>
<rect x="829" y="628" width="1" height="8" fill="#c0c0c0"/>
<rect x="837" y="628" width="1" height="3" fill="#c0c0c0"/>
<rect x="845" y="628" width="1" height="2" fill="#c0c0c0"/>
<rect x="853" y="628" width="1" height="5" fill="#c0c0c0"/>
<rect x="861" y="628" width="1" height="5" fill="#c0c0c0"/>
<rect x="869" y="628" width="1" height="5" fill="#c0c0c0"/>
<rect x="877" y="628" width="1" height="5" fill="#c0c0c0"/>
<rect x="885" y="628" width="1" height="4" fill="#c0c0c0"/>
<rect x="901" y="627" width="1" height="1" fill="#c0c0c0"/>
<rect x="909" y="627" width="1" height="1" fill="#c0c0c0"/>
<rect x="917" y="627" width="1" height="1" fill="#c0c0c0"/>
<rect x="925" y="627" width="1" height="1" fill="#c0c0c0"/>
<rect x="933" y="627" width="1" height="1" fill="#c0c0c0"/>
<rect x="941" y="627" width="1" height="1" fill="#c0c0c0"/>
<rect x="949" y="627" width="1" height="1" fill="#c0c0c0"/>
<rect x="957" y="627" width="1" height="1" fill="#c0c0c0"/>
<rect x="965" y="628" width="1" height="9" fill="#c0c0c0"/>
<rect x="973" y="628" width="1" height="15" fill="#c0c0c0"/>
<rect x="981" y="628" width="1" height="16" fill="#c0c0c0"/>
<rect x="989" y="628" width="1" height="19" fill="#c0c0c0"/>
<rect x="997" y="628" width="1" height="23" fill="#c0c0c0"/>
<rect x="1005" y="628" width="1" height="26" fill="#c0c0c0"/>
<rect x="1013" y="628" width="1" height="23" fill="#c0c0c0"/>
<rect x="1021" y="628" width="1" height="18" fill="#c0c0c0"/>
<rect x="1029" y="628" width="1" height="11" fill="#c0c0c0"/>
<rect x="1037" y="628" width="1" height="5" fill="#c0c0c0"/>
<rect x="1045" y="627" width="1" height="1" fill="#c0c0c0"/>
<rect x="1053" y="621" width="1" height="7" fill="#c0c0c0"/>
<rect x="1061" y="616" width="1" height="12" fill="#c0c0c0"/>
<rect x="1069" y="611" width="1" height="17" fill="#c0c0c0"/>
<rect x="1077" y="611" width="1" height="17" fill="#c0c0c0"/>
<rect x="1085" y="613" width="1" height="15" fill="#c0c0c0"/>
<rect x="1093" y="618" width="1" height="10" fill="#c0c0c0"/>
<rect x="1101" y="618" width="1" height="10" fill="#c0c0c0"/>
<rect x="1109" y="616" width="1" height="12" fill="#c0c0c0"/>
<rect x="1117" y="617" width="1" height="11" fill="#c0c0c0"/>
<rect x="1125" y="616" width="1" height="12" fill="#c0c0c0"/>
<rect x="1133" y="616" width="1" height="12" fill="#c0c0c0"/>
<rect x="1141" y="614" width="1" height="14" fill="#c0c0c0"/>
<rect x="1149" y="613" width="1" height="15" fill="#c0c0c0"/>
<rect x="1157" y="616" width="1" height="12" fill="#c0c0c0"/>
<rect x="1165" y="618" width="1" height="10" fill="#c0c0c0"/>
<rect x="1173" y="620" width="1" height="8" fill="#c0c0c0"/>
<rect x="1181" y="616" width="1" height="12" fill="#c0c0c0"/>
<rect x="1189" y="611" width="1" height="17" fill="#c0c0c0"/>
<rect x="1197" y="601" width="1" height="27" fill="#c0c0c0"/>
<rect x="1205" y="596" width="1" height="32" fill="#c0c0c0"/>
<rect x="1213" y="591" width="1" height="37" fill="#c0c0c0"/>
<rect x="1221" y="587" width="1" height="41" fill="#c0c0c0"/>
<rect x="1229" y="588" width="1" height="40" fill="#c0c0c0"/>
<rect x="1237" y="589" width="1" height="39" fill="#c0c0c0"/>
<rect x="1245" y="591" width="1" height="37" fill="#c0c0c0"/>
<rect x="1253" y="594" width="1" height="34" fill="#c0c0c0"/>
<rect x="1261" y="600" width="1" height="28" fill="#c0c0c0"/>
<rect x="1269" y="604" width="1" height="24" fill="#c0c0c0"/>
<rect x="1277" y="608" width="1" height="20" fill="#c0c0c0"/>
<rect x="1285" y="608" width="1" height="20" fill="#c0c0c0"/>
<rect x="1293" y="611" width="1" height="17" fill="#c0c0c0"/>
<rect x="1301" y="613" width="1" height="15" fill="#c0c0c0"/>
<rect x="1309" y="618" width="1" height="10" fill="#c0c0c0"/>
<rect x="1317" y="623" width="1" height="5" fill="#c0c0c0"/>
<rect x="1325" y="626" width="1" height="2" fill="#c0c0c0"/>
<rect x="1333" y="627" width="1" height="1" fill="#c0c0c0"/>
<rect x="1349" y="628" width="1" height="5" fill="#c0c0c0"/>
<rect x="1357" y="628" width="1" height="7" fill="#c0c0c0"/>
<rect x="1365" y="628" width="1" height="6" fill="#c0c0c0"/>
<rect x="1373" y="628" width="1" height="5" fill="#c0c0c0"/>
<rect x="1381" y="628" width="1" height="4" fill="#c0c0c0"/>
<rect x="1389" y="628" width="1" height="7" fill="#c0c0c0"/>
<rect x="1397" y="628" width="1" height="10" fill="#c0c0c0"/>
<rect x="1405" y="628" width="1" height="7" fill="#c0c0c0"/>
<rect x="1413" y="628" width="1" height="5" fill="#c0c0c0"/>
<rect x="1437" y="626" width="1" height="2" fill="#c0c0c0"/>
<rect x="1445" y="624" width="1" height="4" fill="#c0c0c0"/>
<rect x="1453" y="624" width="1" height="4" fill="#c0c0c0"/>
</g>
<g clip-path="url(#cmacd)">
<g shape-rendering="crispEdges">
<path d="M0,623h1v1h-1zM1,623h1v1h-1zM2,623h1v1h-1zM6,624h1v1h-1zM7,624h1v1h-1zM8,625h1v1h-1zM12,626h1v1h-1zM13,626h1v1h-1zM14,626h1v1h-1zM18,627h1v1h-1zM19,627h1v1h-1zM20,627h1v1h-1zM24,627h1v1h-1zM25,627h1v1h-1zM26,627h1v1h-1zM30,627h1v1h-1zM31,627h1v1h-1zM32,627h1v1h-1zM36,628h1v1h-1zM37,628h1v1h-1zM38,628h1v1h-1zM42,628h1v1h-1zM43,628h1v1h-1zM44,628h1v1h-1zM48,628h1v1h-1zM49,628h1v1h-1zM50,629h1v1h-1zM54,629h1v1h-1zM55,629h1v1h-1zM56,630h1v1h-1zM60,631h1v1h-1zM61,631h1v1h-1zM62,631h1v1h-1zM66,632h1v1h-1zM67,632h1v1h-1zM68,632h1v1h-1zM72,632h1v1h-1zM73,632h1v1h-1zM74,633h1v1h-1zM78,633h1v1h-1zM79,633h1v1h-1zM80,633h1v1h-1zM84,634h1v1h-1zM85,634h1v1h-1zM86,634h1v1h-1zM90,635h1v1h-1zM91,635h1v1h-1zM92,635h1v1h-1zM96,635h1v1h-1zM97,635h1v1h-1zM98,636h1v1h-1zM102,636h1v1h-1zM103,636h1v1h-1zM104,636h1v1h-1zM108,635h1v1h-1zM109,635h1v1h-1zM110,635h1v1h-1zM114,634h1v1h-1zM115,634h1v1h-1zM116,634h1v1h-1zM120,633h1v1h-1zM121,633h1v1h-1zM122,633h1v1h-1zM126,632h1v1h-1zM127,631h1v1h-1zM128,631h1v1h-1zM132,629h1v1h-1zM133,629h1v1h-1zM134,629h1v1h-1zM138,628h1v1h-1zM139,627h1v1h-1zM140,627h1v1h-1zM144,626h1v1h-1zM145,625h1v1h-1zM146,625h1v1h-1zM150,624h1v1h-1zM151,623h1v1h-1zM152,622h1v1h-1zM156,620h1v1h-1zM157,620h1v1h-1zM158,620h1v1h-1zM162,618h1v1h-1zM163,617h1v1h-1zM164,616h1v1h-1zM168,614h1v1h-1zM169,614h1v1h-1zM170,614h1v1h-1zM174,612h1v1h-1zM175,611h1v1h-1zM176,610h1v1h-1zM180,608h1v1h-1zM181,608h1v1h-1zM182,608h1v1h-1zM186,606h1v1h-1zM187,606h1v1h-1zM188,605h1v1h-1zM192,604h1v1h-1zM193,603h1v1h-1zM194,603h1v1h-1zM198,602h1v1h-1zM199,601h1v1h-1zM200,601h1v1h-1zM204,599h1v1h-1zM205,599h1v1h-1zM206,599h1v1h-1zM210,598h1v1h-1zM211,598h1v1h-1zM212,598h1v1h-1zM216,597h1v1h-1zM217,597h1v1h-1zM218,597h1v1h-1zM222,596h1v1h-1zM223,596h1v1h-1zM224,596h1v1h-1zM228,595h1v1h-1zM229,595h1v1h-1zM230,595h1v1h-1zM234,594h1v1h-1zM235,594h1v1h-1zM236,594h1v1h-1zM240,594h1v1h-1zM241,594h1v1h-1zM242,594h1v1h-1zM246,594h1v1h-1zM247,594h1v1h-1zM248,594h1v1h-1zM252,593h1v1h-1zM253,593h1v1h-1zM254,593h1v1h-1zM258,593h1v1h-1zM259,593h1v1h-1zM260,593h1v1h-1zM264,593h1v1h-1zM265,593h1v1h-1zM266,593h1v1h-1zM270,593h1v1h-1zM271,593h1v1h-1zM272,593h1v1h-1zM276,593h1v1h-1zM277,593h1v1h-1zM278,593h1v1h-1zM282,593h1v1h-1zM283,593h1v1h-1zM284,593h1v1h-1zM288,593h1v1h-1zM289,593h1v1h-1zM290,593h1v1h-1zM294,593h1v1h-1zM295,593h1v1h-1zM296,593h1v1h-1zM300,593h1v1h-1zM301,593h1v1h-1zM302,593h1v1h-1zM306,593h1v1h-1zM307,593h1v1h-1zM308,593h1v1h-1zM312,594h1v1h-1zM313,594h1v1h-1zM314,594h1v1h-1zM318,595h1v1h-1zM319,595h1v1h-1zM320,595h1v1h-1zM324,596h1v1h-1zM325,596h1v1h-1zM326,596h1v1h-1zM330,598h1v1h-1zM331,598h1v1h-1zM332,599h1v1h-1zM336,601h1v1h-1zM337,601h1v1h-1zM338,601h1v1h-1zM342,604h1v1h-1zM343,604h1v1h-1zM344,605h1v1h-1zM348,607h1v1h-1zM349,608h1v1h-1zM350,609h1v1h-1zM354,612h1v1h-1zM355,612h1v1h-1zM356,613h1v1h-1zM360,616h1v1h-1zM361,617h1v1h-1zM362,618h1v1h-1zM366,621h1v1h-1zM367,622h1v1h-1zM368,623h1v1h-1zM372,626h1v1h-1zM373,627h1v1h-1zM374,628h1v1h-1zM378,631h1v1h-1zM379,631h1v1h-1zM380,632h1v1h-1zM384,635h1v1h-1zM385,636h1v1h-1zM386,637h1v1h-1zM390,640h1v1h-1zM391,640h1v1h-1zM392,641h1v1h-1zM396,643h1v1h-1zM397,644h1v1h-1zM398,645h1v1h-1zM402,647h1v1h-1zM403,648h1v1h-1zM404,648h1v1h-1zM408,650h1v1h-1zM409,650h1v1h-1zM410,650h1v1h-1zM414,651h1v1h-1zM415,651h1v1h-1zM416,651h1v1h-1zM420,651h1v1h-1zM421,651h1v1h-1zM422,651h1v1h-1zM426,650h1v1h-1zM427,650h1v1h-1zM428,650h1v1h-1zM432,649h1v1h-1zM433,649h1v1h-1zM434,649h1v1h-1zM438,648h1v1h-1zM439,648h1v1h-1zM440,647h1v1h-1zM444,646h1v1h-1zM445,646h1v1h-1zM446,646h1v1h-1zM450,645h1v1h-1zM451,644h1v1h-1zM452,644h1v1h-1zM456,643h1v1h-1zM457,642h1v1h-1zM458,642h1v1h-1zM462,641h1v1h-1zM463,640h1v1h-1zM464,640h1v1h-1zM468,638h1v1h-1zM469,638h1v1h-1zM470,638h1v1h-1zM474,637h1v1h-1zM475,637h1v1h-1zM476,637h1v1h-1zM480,637h1v1h-1zM481,637h1v1h-1zM482,636h1v1h-1zM486,636h1v1h-1zM487,636h1v1h-1zM488,636h1v1h-1zM492,637h1v1h-1zM493,637h1v1h-1zM494,637h1v1h-1zM498,637h1v1h-1zM499,637h1v1h-1zM500,637h1v1h-1zM504,637h1v1h-1zM505,637h1v1h-1zM506,638h1v1h-1zM510,638h1v1h-1zM511,638h1v1h-1zM512,638h1v1h-1zM516,639h1v1h-1zM517,639h1v1h-1zM518,639h1v1h-1zM522,641h1v1h-1zM523,641h1v1h-1zM524,642h1v1h-1zM528,643h1v1h-1zM529,644h1v1h-1zM530,644h1v1h-1zM534,645h1v1h-1zM535,645h1v1h-1zM536,646h1v1h-1zM540,647h1v1h-1zM541,647h1v1h-1zM542,647h1v1h-1zM546,648h1v1h-1zM547,649h1v1h-1zM548,649h1v1h-1zM552,650h1v1h-1zM553,651h1v1h-1zM554,651h1v1h-1zM558,652h1v1h-1zM559,653h1v1h-1zM560,653h1v1h-1zM564,655h1v1h-1zM565,655h1v1h-1zM566,655h1v1h-1zM570,657h1v1h-1zM571,657h1v1h-1zM572,658h1v1h-1zM576,659h1v1h-1zM577,660h1v1h-1zM578,660h1v1h-1zM582,661h1v1h-1zM583,662h1v1h-1zM584,662h1v1h-1zM588,664h1v1h-1zM589,664h1v1h-1zM590,664h1v1h-1zM594,666h1v1h-1zM595,667h1v1h-1zM596,668h1v1h-1zM600,670h1v1h-1zM601,671h1v1h-1zM602,672h1v1h-1zM606,675h1v1h-1zM607,675h1v1h-1zM608,676h1v1h-1zM612,678h1v1h-1zM613,679h1v1h-1zM614,680h1v1h-1zM618,684h1v1h-1zM619,685h1v1h-1zM620,686h1v1h-1zM624,690h1v1h-1zM625,691h1v1h-1zM626,692h1v1h-1zM630,696h1v1h-1zM631,697h1v1h-1zM632,698h1v1h-1zM636,701h1v1h-1zM637,702h1v1h-1zM638,703h1v1h-1zM642,707h1v1h-1zM643,708h1v1h-1zM644,709h1v1h-1zM648,712h1v1h-1zM649,713h1v1h-1zM650,714h1v1h-1zM654,717h1v1h-1zM655,717h1v1h-1zM656,718h1v1h-1zM660,720h1v1h-1zM661,721h1v1h-1zM662,721h1v1h-1zM666,723h1v1h-1zM667,724h1v1h-1zM668,725h1v1h-1zM672,725h1v1h-1zM673,725h1v1h-1zM674,726h1v1h-1zM678,726h1v1h-1zM679,726h1v1h-1zM680,725h1v1h-1zM684,724h1v1h-1zM685,724h1v1h-1zM686,724h1v1h-1zM690,723h1v1h-1zM691,723h1v1h-1zM692,723h1v1h-1zM696,721h1v1h-1zM697,721h1v1h-1zM698,721h1v1h-1zM702,718h1v1h-1zM703,718h1v1h-1zM704,717h1v1h-1zM708,715h1v1h-1zM709,714h1v1h-1zM710,713h1v1h-1zM714,711h1v1h-1zM715,710h1v1h-1zM716,710h1v1h-1zM720,707h1v1h-1zM721,706h1v1h-1zM722,705h1v1h-1zM726,702h1v1h-1zM727,701h1v1h-1zM728,700h1v1h-1zM732,697h1v1h-1zM733,696h1v1h-1zM734,695h1v1h-1zM738,692h1v1h-1zM739,692h1v1h-1zM740,691h1v1h-1zM744,688h1v1h-1zM745,688h1v1h-1zM746,687h1v1h-1zM750,684h1v1h-1zM751,683h1v1h-1zM752,683h1v1h-1zM756,680h1v1h-1zM757,679h1v1h-1zM758,678h1v1h-1zM762,675h1v1h-1zM763,674h1v1h-1zM764,673h1v1h-1zM768,670h1v1h-1zM769,669h1v1h-1zM770,668h1v1h-1zM774,665h1v1h-1zM775,665h1v1h-1zM776,664h1v1h-1zM780,662h1v1h-1zM781,661h1v1h-1zM782,660h1v1h-1zM786,657h1v1h-1zM787,657h1v1h-1zM788,656h1v1h-1zM792,653h1v1h-1zM793,653h1v1h-1zM794,652h1v1h-1zM798,650h1v1h-1zM799,649h1v1h-1zM800,649h1v1h-1zM804,647h1v1h-1zM805,647h1v1h-1zM806,647h1v1h-1zM810,645h1v1h-1zM811,644h1v1h-1zM812,643h1v1h-1zM816,642h1v1h-1zM817,642h1v1h-1zM818,642h1v1h-1zM822,641h1v1h-1zM823,641h1v1h-1zM824,640h1v1h-1zM828,639h1v1h-1zM829,639h1v1h-1zM830,639h1v1h-1zM834,638h1v1h-1zM835,637h1v1h-1zM836,637h1v1h-1zM840,636h1v1h-1zM841,636h1v1h-1zM842,636h1v1h-1zM846,635h1v1h-1zM847,635h1v1h-1zM848,635h1v1h-1zM852,634h1v1h-1zM853,634h1v1h-1zM854,634h1v1h-1zM858,634h1v1h-1zM859,634h1v1h-1zM860,634h1v1h-1zM864,634h1v1h-1zM865,634h1v1h-1zM866,633h1v1h-1zM870,633h1v1h-1zM871,633h1v1h-1zM872,633h1v1h-1zM876,633h1v1h-1zM877,633h1v1h-1zM878,633h1v1h-1zM882,632h1v1h-1zM883,632h1v1h-1zM884,632h1v1h-1zM888,632h1v1h-1zM889,632h1v1h-1zM890,631h1v1h-1zM894,631h1v1h-1zM895,631h1v1h-1zM896,631h1v1h-1zM900,630h1v1h-1zM901,630h1v1h-1zM902,630h1v1h-1zM906,630h1v1h-1zM907,630h1v1h-1zM908,630h1v1h-1zM912,630h1v1h-1zM913,630h1v1h-1zM914,630h1v1h-1zM918,630h1v1h-1zM919,630h1v1h-1zM920,630h1v1h-1zM924,630h1v1h-1zM925,630h1v1h-1zM926,630h1v1h-1zM930,630h1v1h-1zM931,630h1v1h-1zM932,630h1v1h-1zM936,630h1v1h-1zM937,630h1v1h-1zM938,630h1v1h-1zM942,630h1v1h-1zM943,630h1v1h-1zM944,630h1v1h-1zM948,629h1v1h-1zM949,629h1v1h-1zM950,629h1v1h-1zM954,629h1v1h-1zM955,629h1v1h-1zM956,629h1v1h-1zM960,629h1v1h-1zM961,629h1v1h-1zM962,629h1v1h-1zM966,629h1v1h-1zM967,629h1v1h-1zM968,630h1v1h-1zM972,631h1v1h-1zM973,631h1v1h-1zM974,631h1v1h-1zM978,632h1v1h-1zM979,633h1v1h-1zM980,633h1v1h-1zM984,634h1v1h-1zM985,634h1v1h-1zM986,634h1v1h-1zM990,635h1v1h-1zM991,635h1v1h-1zM992,636h1v1h-1zM996,637h1v1h-1zM997,637h1v1h-1zM998,637h1v1h-1zM1002,638h1v1h-1zM1003,639h1v1h-1zM1004,639h1v1h-1zM1008,640h1v1h-1zM1009,640h1v1h-1zM1010,640h1v1h-1zM1014,641h1v1h-1zM1015,641h1v1h-1zM1016,642h1v1h-1zM1020,643h1v1h-1zM1021,643h1v1h-1zM1022,643h1v1h-1zM1026,644h1v1h-1zM1027,644h1v1h-1zM1028,644h1v1h-1zM1032,644h1v1h-1zM1033,644h1v1h-1zM1034,643h1v1h-1zM1038,643h1v1h-1zM1039,643h1v1h-1zM1040,643h1v1h-1zM1044,642h1v1h-1zM1045,642h1v1h-1zM1046,642h1v1h-1zM1050,641h1v1h-1zM1051,640h1v1h-1zM1052,640h1v1h-1zM1056,639h1v1h-1zM1057,638h1v1h-1zM1058,638h1v1h-1zM1062,636h1v1h-1zM1063,636h1v1h-1zM1064,635h1v1h-1zM1068,633h1v1h-1zM1069,632h1v1h-1zM1070,632h1v1h-1zM1074,630h1v1h-1zM1075,629h1v1h-1zM1076,628h1v1h-1zM1080,626h1v1h-1zM1081,626h1v1h-1zM1082,626h1v1h-1zM1086,624h1v1h-1zM1087,623h1v1h-1zM1088,622h1v1h-1zM1092,620h1v1h-1zM1093,620h1v1h-1zM1094,620h1v1h-1zM1098,618h1v1h-1zM1099,618h1v1h-1zM1100,617h1v1h-1zM1104,617h1v1h-1zM1105,617h1v1h-1zM1106,616h1v1h-1zM1110,616h1v1h-1zM1111,616h1v1h-1zM1112,616h1v1h-1zM1116,615h1v1h-1zM1117,615h1v1h-1zM1118,615h1v1h-1zM1122,614h1v1h-1zM1123,614h1v1h-1zM1124,614h1v1h-1zM1128,614h1v1h-1zM1129,614h1v1h-1zM1130,614h1v1h-1zM1134,614h1v1h-1zM1135,614h1v1h-1zM1136,614h1v1h-1zM1140,614h1v1h-1zM1141,614h1v1h-1zM1142,614h1v1h-1zM1146,614h1v1h-1zM1147,614h1v1h-1zM1148,614h1v1h-1zM1152,614h1v1h-1zM1153,614h1v1h-1zM1154,614h1v1h-1zM1158,614h1v1h-1zM1159,614h1v1h-1zM1160,614h1v1h-1zM1164,614h1v1h-1zM1165,614h1v1h-1zM1166,614h1v1h-1zM1170,614h1v1h-1zM1171,614h1v1h-1zM1172,614h1v1h-1zM1176,614h1v1h-1zM1177,614h1v1h-1zM1178,615h1v1h-1zM1182,615h1v1h-1zM1183,615h1v1h-1zM1184,615h1v1h-1zM1188,614h1v1h-1zM1189,614h1v1h-1zM1190,614h1v1h-1zM1194,613h1v1h-1zM1195,612h1v1h-1zM1196,612h1v1h-1zM1200,611h1v1h-1zM1201,611h1v1h-1zM1202,611h1v1h-1zM1206,610h1v1h-1zM1207,610h1v1h-1zM1208,609h1v1h-1zM1212,608h1v1h-1zM1213,608h1v1h-1zM1214,608h1v1h-1zM1218,606h1v1h-1zM1219,606h1v1h-1zM1220,605h1v1h-1zM1224,604h1v1h-1zM1225,603h1v1h-1zM1226,603h1v1h-1zM1230,602h1v1h-1zM1231,601h1v1h-1zM1232,600h1v1h-1zM1236,598h1v1h-1zM1237,598h1v1h-1zM1238,598h1v1h-1zM1242,596h1v1h-1zM1243,596h1v1h-1zM1244,595h1v1h-1zM1248,594h1v1h-1zM1249,594h1v1h-1zM1250,594h1v1h-1zM1254,593h1v1h-1zM1255,593h1v1h-1zM1256,593h1v1h-1zM1260,592h1v1h-1zM1261,592h1v1h-1zM1262,592h1v1h-1zM1266,592h1v1h-1zM1267,592h1v1h-1zM1268,592h1v1h-1zM1272,592h1v1h-1zM1273,592h1v1h-1zM1274,593h1v1h-1zM1278,593h1v1h-1zM1279,593h1v1h-1zM1280,594h1v1h-1zM1284,595h1v1h-1zM1285,595h1v1h-1zM1286,595h1v1h-1zM1290,596h1v1h-1zM1291,597h1v1h-1zM1292,597h1v1h-1zM1296,599h1v1h-1zM1297,599h1v1h-1zM1298,599h1v1h-1zM1302,601h1v1h-1zM1303,602h1v1h-1zM1304,602h1v1h-1zM1308,604h1v1h-1zM1309,604h1v1h-1zM1310,604h1v1h-1zM1314,606h1v1h-1zM1315,607h1v1h-1zM1316,608h1v1h-1zM1320,609h1v1h-1zM1321,610h1v1h-1zM1322,610h1v1h-1zM1326,611h1v1h-1zM1327,612h1v1h-1zM1328,612h1v1h-1zM1332,614h1v1h-1zM1333,614h1v1h-1zM1334,614h1v1h-1zM1338,616h1v1h-1zM1339,616h1v1h-1zM1340,617h1v1h-1zM1344,618h1v1h-1zM1345,619h1v1h-1zM1346,619h1v1h-1zM1350,620h1v1h-1zM1351,621h1v1h-1zM1352,621h1v1h-1zM1356,623h1v1h-1zM1357,623h1v1h-1zM1358,623h1v1h-1zM1362,625h1v1h-1zM1363,625h1v1h-1zM1364,626h1v1h-1zM1368,626h1v1h-1zM1369,626h1v1h-1zM1370,627h1v1h-1zM1374,627h1v1h-1zM1375,627h1v1h-1zM1376,628h1v1h-1zM1380,629h1v1h-1zM1381,629h1v1h-1zM1382,629h1v1h-1zM1386,630h1v1h-1zM1387,631h1v1h-1zM1388,631h1v1h-1zM1392,631h1v1h-1zM1393,631h1v1h-1zM1394,632h1v1h-1zM1398,632h1v1h-1zM1399,632h1v1h-1zM1400,632h1v1h-1zM1404,633h1v1h-1zM1405,633h1v1h-1zM1406,633h1v1h-1zM1410,634h1v1h-1zM1411,634h1v1h-1zM1412,634h1v1h-1zM1416,634h1v1h-1zM1417,634h1v1h-1zM1418,633h1v1h-1zM1422,633h1v1h-1zM1423,633h1v1h-1zM1424,633h1v1h-1zM1428,633h1v1h-1zM1429,633h1v1h-1zM1430,633h1v1h-1zM1434,632h1v1h-1zM1435,632h1v1h-1zM1436,632h1v1h-1zM1440,632h1v1h-1zM1441,632h1v1h-1zM1442,631h1v1h-1zM1446,631h1v1h-1zM1447,631h1v1h-1zM1448,631h1v1h-1zM1452,630h1v1h-1z" fill="#ff0000"/>
</g>
</g>
<text x="2" y="590" font-size="9.6" fill="#000" textLength="120" lengthAdjust="spacingAndGlyphs">MACD(12,26,9) 65.61 -16.58</text>
<g shape-rendering="crispEdges">
<rect x="1691" y="579" width="3" height="1" fill="#000"/>
<rect x="1691" y="628" width="3" height="1" fill="#000"/>
<rect x="1691" y="746" width="3" height="1" fill="#000"/>
</g>
<text x="1694" y="588" font-size="9.6" fill="#000" textLength="28" lengthAdjust="spacingAndGlyphs">596.11</text>
<text x="1694.5" y="632" font-size="9.6" fill="#000" textLength="18" lengthAdjust="spacingAndGlyphs">0.00</text>
<text x="1694" y="744" font-size="9.6" fill="#000" textLength="36" lengthAdjust="spacingAndGlyphs">-1415.19</text>
<g clip-path="url(#crsi)" shape-rendering="crispEdges">
<line x1="0" y1="785.5" x2="1690" y2="785.5" stroke="#c0c0c0" stroke-width="1" stroke-dasharray="3 3" stroke-dashoffset="2"/>
<line x1="0" y1="836.5" x2="1690" y2="836.5" stroke="#c0c0c0" stroke-width="1" stroke-dasharray="3 3" stroke-dashoffset="2"/>
<line x1="0" y1="897.5" x2="1690" y2="897.5" stroke="#c0c0c0" stroke-width="1" stroke-dasharray="3 3" stroke-dashoffset="2"/>
</g>
<g clip-path="url(#crsi)">
<path d="M3,833h1v1h-1zM25,833h3v1h-3zM103,833h1v1h-1zM305,833h1v1h-1zM415,833h2v1h-2zM425,833h3v1h-3zM432,833h3v1h-3zM447,833h1v1h-1zM732,833h1v1h-1zM734,833h1v1h-1zM753,833h3v1h-3zM759,833h1v1h-1zM781,833h5v1h-5zM829,833h1v1h-1zM846,833h1v1h-1zM886,833h2v1h-2zM899,833h2v1h-2zM939,833h1v1h-1zM954,833h2v1h-2zM1019,833h1v1h-1zM1084,833h2v1h-2zM1100,833h1v1h-1zM1154,833h1v1h-1zM1175,833h1v1h-1zM1257,833h1v1h-1zM1280,833h1v1h-1zM1291,833h1v1h-1zM1300,833h2v1h-2zM1372,833h3v1h-3zM1408,833h1v1h-1zM114,816h1v1h-1zM220,816h1v1h-1zM224,816h3v1h-3zM230,816h1v1h-1zM243,816h1v1h-1zM298,816h1v1h-1zM1065,816h3v1h-3zM1070,816h1v1h-1zM1190,816h1v1h-1zM1225,816h1v1h-1zM180,803h1v1h-1zM190,803h2v1h-2zM202,803h2v1h-2zM207,803h2v1h-2zM344,861h1v1h-1zM369,861h1v1h-1zM515,861h1v1h-1zM520,861h3v1h-3zM540,861h2v1h-2zM559,861h1v1h-1zM572,861h1v1h-1zM577,861h3v1h-3zM651,861h1v1h-1zM0,837h1v1h-1zM31,837h1v1h-1zM100,837h1v1h-1zM307,837h1v1h-1zM314,837h1v1h-1zM319,837h1v1h-1zM411,837h1v1h-1zM451,837h1v1h-1zM459,837h1v1h-1zM463,837h1v1h-1zM728,837h1v1h-1zM738,837h1v1h-1zM746,837h1v1h-1zM768,837h3v1h-3zM774,837h2v1h-2zM792,837h1v1h-1zM825,837h1v1h-1zM848,837h1v1h-1zM867,837h2v1h-2zM871,837h2v1h-2zM880,837h2v1h-2zM910,837h1v1h-1zM934,837h1v1h-1zM958,837h1v1h-1zM1016,837h1v1h-1zM1088,837h1v1h-1zM1097,837h1v1h-1zM1160,837h2v1h-2zM1171,837h1v1h-1zM1260,837h1v1h-1zM1264,837h2v1h-2zM1276,837h2v1h-2zM1304,837h1v1h-1zM1364,837h1v1h-1zM1380,837h2v1h-2zM1404,837h1v1h-1zM626,885h4v1h-4zM2,834h1v1h-1zM28,834h2v1h-2zM102,834h1v1h-1zM306,834h1v1h-1zM317,834h1v1h-1zM413,834h2v1h-2zM428,834h4v1h-4zM448,834h1v1h-1zM731,834h1v1h-1zM735,834h1v1h-1zM751,834h2v1h-2zM760,834h3v1h-3zM779,834h2v1h-2zM786,834h4v1h-4zM828,834h1v1h-1zM847,834h1v1h-1zM885,834h1v1h-1zM901,834h3v1h-3zM937,834h2v1h-2zM956,834h1v1h-1zM1018,834h1v1h-1zM1086,834h1v1h-1zM1099,834h1v1h-1zM1155,834h2v1h-2zM1174,834h1v1h-1zM1258,834h1v1h-1zM1269,834h2v1h-2zM1279,834h1v1h-1zM1291,834h1v1h-1zM1297,834h3v1h-3zM1302,834h1v1h-1zM1369,834h3v1h-3zM1375,834h1v1h-1zM1407,834h1v1h-1zM31,838h1v1h-1zM99,838h1v1h-1zM307,838h1v1h-1zM313,838h1v1h-1zM320,838h1v1h-1zM410,838h1v1h-1zM451,838h1v1h-1zM456,838h3v1h-3zM464,838h3v1h-3zM727,838h1v1h-1zM739,838h1v1h-1zM744,838h2v1h-2zM771,838h3v1h-3zM793,838h2v1h-2zM810,838h5v1h-5zM825,838h1v1h-1zM849,838h1v1h-1zM866,838h1v1h-1zM873,838h3v1h-3zM878,838h2v1h-2zM911,838h1v1h-1zM933,838h1v1h-1zM958,838h1v1h-1zM1015,838h1v1h-1zM1089,838h1v1h-1zM1096,838h1v1h-1zM1162,838h1v1h-1zM1168,838h3v1h-3zM1260,838h1v1h-1zM1262,838h2v1h-2zM1305,838h1v1h-1zM1364,838h1v1h-1zM1382,838h1v1h-1zM1404,838h1v1h-1zM33,841h1v1h-1zM77,841h11v1h-11zM95,841h1v1h-1zM308,841h1v1h-1zM311,841h1v1h-1zM323,841h1v1h-1zM388,841h1v1h-1zM392,841h3v1h-3zM408,841h1v1h-1zM470,841h2v1h-2zM724,841h1v1h-1zM797,841h3v1h-3zM819,841h1v1h-1zM822,841h1v1h-1zM850,841h1v1h-1zM861,841h1v1h-1zM915,841h1v1h-1zM928,841h2v1h-2zM959,841h1v1h-1zM1012,841h1v1h-1zM1091,841h1v1h-1zM1094,841h1v1h-1zM1307,841h1v1h-1zM1328,841h3v1h-3zM1335,841h1v1h-1zM1362,841h1v1h-1zM1384,841h1v1h-1zM1401,841h1v1h-1zM34,844h1v1h-1zM74,844h1v1h-1zM325,844h5v1h-5zM334,844h1v1h-1zM387,844h1v1h-1zM401,844h3v1h-3zM406,844h1v1h-1zM475,844h2v1h-2zM549,844h1v1h-1zM692,844h1v1h-1zM694,844h1v1h-1zM720,844h1v1h-1zM852,844h1v1h-1zM857,844h1v1h-1zM960,844h1v1h-1zM1010,844h1v1h-1zM1309,844h5v1h-5zM1319,844h2v1h-2zM1340,844h4v1h-4zM1360,844h1v1h-1zM1386,844h1v1h-1zM1399,844h1v1h-1zM37,849h2v1h-2zM55,849h1v1h-1zM69,849h1v1h-1zM336,849h1v1h-1zM384,849h1v1h-1zM480,849h1v1h-1zM547,849h1v1h-1zM552,849h1v1h-1zM659,849h1v1h-1zM665,849h3v1h-3zM671,849h2v1h-2zM680,849h3v1h-3zM687,849h1v1h-1zM701,849h2v1h-2zM962,849h1v1h-1zM977,849h1v1h-1zM987,849h2v1h-2zM1007,849h1v1h-1zM1356,849h2v1h-2zM108,827h1v1h-1zM303,827h1v1h-1zM1028,827h6v1h-6zM1075,827h1v1h-1zM1123,827h2v1h-2zM1127,827h1v1h-1zM1136,827h1v1h-1zM1146,827h1v1h-1zM1177,827h1v1h-1zM1251,827h3v1h-3zM1284,827h1v1h-1zM1286,827h1v1h-1zM1437,827h5v1h-5zM1446,827h2v1h-2zM600,878h1v1h-1zM613,878h1v1h-1zM631,878h1v1h-1zM33,842h1v1h-1zM76,842h1v1h-1zM88,842h3v1h-3zM94,842h1v1h-1zM309,842h2v1h-2zM323,842h1v1h-1zM388,842h1v1h-1zM395,842h4v1h-4zM407,842h1v1h-1zM472,842h2v1h-2zM723,842h1v1h-1zM820,842h2v1h-2zM851,842h1v1h-1zM860,842h1v1h-1zM916,842h1v1h-1zM926,842h2v1h-2zM960,842h1v1h-1zM1012,842h1v1h-1zM1092,842h1v1h-1zM1094,842h1v1h-1zM1308,842h1v1h-1zM1324,842h4v1h-4zM1336,842h3v1h-3zM1361,842h1v1h-1zM1385,842h1v1h-1zM1401,842h1v1h-1zM112,819h1v1h-1zM233,819h1v1h-1zM241,819h1v1h-1zM300,819h1v1h-1zM1056,819h3v1h-3zM1071,819h1v1h-1zM1184,819h3v1h-3zM1227,819h1v1h-1zM59,853h1v1h-1zM63,853h2v1h-2zM338,853h1v1h-1zM382,853h1v1h-1zM483,853h1v1h-1zM492,853h3v1h-3zM508,853h2v1h-2zM545,853h1v1h-1zM554,853h1v1h-1zM656,853h1v1h-1zM964,853h1v1h-1zM972,853h2v1h-2zM61,855h1v1h-1zM339,855h1v1h-1zM373,855h1v1h-1zM378,855h4v1h-4zM484,855h1v1h-1zM487,855h2v1h-2zM497,855h3v1h-3zM503,855h2v1h-2zM511,855h1v1h-1zM544,855h1v1h-1zM555,855h1v1h-1zM654,855h1v1h-1zM964,855h1v1h-1zM968,855h3v1h-3zM34,843h1v1h-1zM75,843h1v1h-1zM91,843h3v1h-3zM309,843h1v1h-1zM324,843h1v1h-1zM330,843h4v1h-4zM387,843h1v1h-1zM399,843h2v1h-2zM406,843h1v1h-1zM474,843h1v1h-1zM693,843h1v1h-1zM721,843h2v1h-2zM851,843h1v1h-1zM858,843h2v1h-2zM917,843h9v1h-9zM960,843h1v1h-1zM1011,843h1v1h-1zM1093,843h1v1h-1zM1308,843h1v1h-1zM1321,843h3v1h-3zM1339,843h1v1h-1zM1361,843h1v1h-1zM1385,843h1v1h-1zM1400,843h1v1h-1zM106,829h1v1h-1zM304,829h1v1h-1zM835,829h2v1h-2zM840,829h3v1h-3zM893,829h1v1h-1zM947,829h3v1h-3zM1024,829h3v1h-3zM1076,829h1v1h-1zM1120,829h2v1h-2zM1131,829h1v1h-1zM1134,829h1v1h-1zM1148,829h1v1h-1zM1177,829h1v1h-1zM1254,829h1v1h-1zM1283,829h1v1h-1zM1287,829h1v1h-1zM1412,829h1v1h-1zM1415,829h2v1h-2zM1434,829h1v1h-1zM1450,829h1v1h-1zM594,875h4v1h-4zM632,875h1v1h-1zM348,866h1v1h-1zM367,866h1v1h-1zM561,866h1v1h-1zM569,866h1v1h-1zM584,866h1v1h-1zM636,866h1v1h-1zM640,866h1v1h-1zM649,866h1v1h-1zM35,846h1v1h-1zM43,846h1v1h-1zM48,846h3v1h-3zM72,846h1v1h-1zM335,846h1v1h-1zM386,846h1v1h-1zM478,846h1v1h-1zM548,846h1v1h-1zM550,846h1v1h-1zM690,846h1v1h-1zM697,846h1v1h-1zM708,846h6v1h-6zM718,846h1v1h-1zM853,846h2v1h-2zM961,846h1v1h-1zM980,846h1v1h-1zM982,846h2v1h-2zM1009,846h1v1h-1zM1347,846h4v1h-4zM1359,846h1v1h-1zM1388,846h1v1h-1zM1398,846h1v1h-1zM114,817h1v1h-1zM220,817h1v1h-1zM223,817h1v1h-1zM231,817h1v1h-1zM242,817h1v1h-1zM299,817h1v1h-1zM1063,817h2v1h-2zM1070,817h1v1h-1zM1190,817h1v1h-1zM1226,817h1v1h-1zM343,860h1v1h-1zM370,860h1v1h-1zM515,860h1v1h-1zM523,860h1v1h-1zM537,860h3v1h-3zM541,860h1v1h-1zM558,860h1v1h-1zM572,860h1v1h-1zM575,860h2v1h-2zM651,860h1v1h-1zM111,822h1v1h-1zM235,822h1v1h-1zM239,822h1v1h-1zM301,822h1v1h-1zM1042,822h2v1h-2zM1073,822h1v1h-1zM1140,822h1v1h-1zM1142,822h1v1h-1zM1180,822h1v1h-1zM1229,822h5v1h-5zM1239,822h1v1h-1zM60,854h1v1h-1zM62,854h1v1h-1zM339,854h1v1h-1zM373,854h5v1h-5zM382,854h1v1h-1zM484,854h1v1h-1zM489,854h3v1h-3zM495,854h2v1h-2zM505,854h3v1h-3zM510,854h1v1h-1zM544,854h1v1h-1zM555,854h1v1h-1zM655,854h1v1h-1zM964,854h1v1h-1zM971,854h1v1h-1zM340,857h1v1h-1zM371,857h1v1h-1zM512,857h1v1h-1zM543,857h1v1h-1zM556,857h1v1h-1zM653,857h1v1h-1zM965,857h2v1h-2zM117,811h2v1h-2zM131,811h2v1h-2zM144,811h3v1h-3zM153,811h3v1h-3zM159,811h2v1h-2zM171,811h3v1h-3zM216,811h1v1h-1zM254,811h1v1h-1zM268,811h1v1h-1zM283,811h1v1h-1zM295,811h1v1h-1zM1193,811h1v1h-1zM1203,811h1v1h-1zM1216,811h3v1h-3zM1222,811h1v1h-1zM57,851h1v1h-1zM66,851h2v1h-2zM337,851h1v1h-1zM383,851h1v1h-1zM481,851h1v1h-1zM546,851h1v1h-1zM553,851h1v1h-1zM657,851h1v1h-1zM684,851h2v1h-2zM963,851h1v1h-1zM975,851h1v1h-1zM994,851h8v1h-8zM1006,851h1v1h-1zM36,847h1v1h-1zM40,847h3v1h-3zM51,847h3v1h-3zM71,847h1v1h-1zM335,847h1v1h-1zM385,847h1v1h-1zM478,847h1v1h-1zM548,847h1v1h-1zM551,847h1v1h-1zM661,847h2v1h-2zM676,847h3v1h-3zM689,847h1v1h-1zM698,847h2v1h-2zM705,847h3v1h-3zM714,847h4v1h-4zM853,847h1v1h-1zM961,847h1v1h-1zM979,847h1v1h-1zM984,847h2v1h-2zM1008,847h1v1h-1zM1351,847h2v1h-2zM1358,847h1v1h-1zM1388,847h1v1h-1zM1394,847h4v1h-4zM1,836h1v1h-1zM30,836h1v1h-1zM101,836h1v1h-1zM306,836h1v1h-1zM315,836h1v1h-1zM319,836h1v1h-1zM412,836h1v1h-1zM450,836h1v1h-1zM460,836h3v1h-3zM729,836h1v1h-1zM737,836h1v1h-1zM747,836h2v1h-2zM764,836h4v1h-4zM776,836h2v1h-2zM791,836h1v1h-1zM826,836h1v1h-1zM848,836h1v1h-1zM869,836h2v1h-2zM882,836h1v1h-1zM907,836h3v1h-3zM935,836h1v1h-1zM957,836h1v1h-1zM1017,836h1v1h-1zM1087,836h1v1h-1zM1098,836h1v1h-1zM1158,836h2v1h-2zM1172,836h2v1h-2zM1259,836h1v1h-1zM1266,836h1v1h-1zM1273,836h3v1h-3zM1278,836h1v1h-1zM1293,836h2v1h-2zM1303,836h1v1h-1zM1365,836h2v1h-2zM1379,836h1v1h-1zM1405,836h1v1h-1zM133,810h5v1h-5zM143,810h1v1h-1zM156,810h3v1h-3zM174,810h1v1h-1zM215,810h1v1h-1zM255,810h2v1h-2zM266,810h2v1h-2zM284,810h3v1h-3zM295,810h1v1h-1zM1194,810h1v1h-1zM1202,810h1v1h-1zM1219,810h3v1h-3zM105,830h1v1h-1zM304,830h1v1h-1zM443,830h3v1h-3zM834,830h1v1h-1zM843,830h3v1h-3zM891,830h2v1h-2zM894,830h2v1h-2zM944,830h3v1h-3zM950,830h1v1h-1zM1023,830h1v1h-1zM1077,830h2v1h-2zM1106,830h8v1h-8zM1118,830h2v1h-2zM1132,830h2v1h-2zM1149,830h1v1h-1zM1176,830h1v1h-1zM1255,830h1v1h-1zM1282,830h1v1h-1zM1288,830h1v1h-1zM1411,830h1v1h-1zM1417,830h3v1h-3zM1432,830h2v1h-2zM1451,830h2v1h-2zM349,867h3v1h-3zM367,867h1v1h-1zM562,867h1v1h-1zM568,867h1v1h-1zM584,867h1v1h-1zM635,867h1v1h-1zM640,867h1v1h-1zM648,867h1v1h-1zM108,826h1v1h-1zM303,826h1v1h-1zM1034,826h4v1h-4zM1075,826h1v1h-1zM1125,826h2v1h-2zM1137,826h1v1h-1zM1145,826h1v1h-1zM1178,826h1v1h-1zM1248,826h3v1h-3zM1285,826h1v1h-1zM1442,826h4v1h-4zM340,856h1v1h-1zM372,856h1v1h-1zM485,856h2v1h-2zM500,856h3v1h-3zM511,856h1v1h-1zM543,856h1v1h-1zM556,856h1v1h-1zM653,856h1v1h-1zM965,856h1v1h-1zM967,856h1v1h-1zM4,832h1v1h-1zM10,832h8v1h-8zM23,832h2v1h-2zM104,832h1v1h-1zM305,832h1v1h-1zM417,832h3v1h-3zM423,832h2v1h-2zM435,832h5v1h-5zM447,832h1v1h-1zM733,832h1v1h-1zM756,832h3v1h-3zM830,832h2v1h-2zM846,832h1v1h-1zM888,832h2v1h-2zM898,832h1v1h-1zM940,832h1v1h-1zM953,832h1v1h-1zM1020,832h1v1h-1zM1081,832h3v1h-3zM1100,832h1v1h-1zM1152,832h2v1h-2zM1175,832h1v1h-1zM1256,832h1v1h-1zM1281,832h1v1h-1zM1290,832h1v1h-1zM1409,832h1v1h-1zM1426,832h4v1h-4zM355,869h7v1h-7zM365,869h1v1h-1zM563,869h1v1h-1zM567,869h1v1h-1zM586,869h1v1h-1zM635,869h1v1h-1zM642,869h1v1h-1zM647,869h1v1h-1zM110,824h1v1h-1zM236,824h1v1h-1zM238,824h1v1h-1zM302,824h1v1h-1zM1039,824h2v1h-2zM1074,824h1v1h-1zM1138,824h1v1h-1zM1144,824h1v1h-1zM1179,824h1v1h-1zM1243,824h1v1h-1zM352,868h3v1h-3zM366,868h1v1h-1zM562,868h1v1h-1zM568,868h1v1h-1zM585,868h1v1h-1zM635,868h1v1h-1zM641,868h1v1h-1zM648,868h1v1h-1zM589,874h5v1h-5zM633,874h1v1h-1zM645,874h1v1h-1zM32,840h1v1h-1zM96,840h1v1h-1zM308,840h1v1h-1zM312,840h1v1h-1zM322,840h1v1h-1zM389,840h3v1h-3zM409,840h1v1h-1zM453,840h2v1h-2zM468,840h2v1h-2zM725,840h1v1h-1zM741,840h1v1h-1zM796,840h1v1h-1zM800,840h3v1h-3zM816,840h3v1h-3zM823,840h1v1h-1zM850,840h1v1h-1zM862,840h2v1h-2zM913,840h2v1h-2zM930,840h1v1h-1zM959,840h1v1h-1zM1013,840h1v1h-1zM1091,840h1v1h-1zM1095,840h1v1h-1zM1165,840h2v1h-2zM1306,840h1v1h-1zM1331,840h4v1h-4zM1363,840h1v1h-1zM1383,840h1v1h-1zM1402,840h1v1h-1zM35,845h1v1h-1zM44,845h4v1h-4zM73,845h1v1h-1zM334,845h1v1h-1zM386,845h1v1h-1zM404,845h2v1h-2zM477,845h1v1h-1zM549,845h2v1h-2zM691,845h1v1h-1zM695,845h2v1h-2zM719,845h1v1h-1zM852,845h1v1h-1zM855,845h2v1h-2zM961,845h1v1h-1zM981,845h1v1h-1zM1010,845h1v1h-1zM1314,845h5v1h-5zM1344,845h3v1h-3zM1359,845h1v1h-1zM1387,845h1v1h-1zM1398,845h1v1h-1zM116,812h1v1h-1zM119,812h1v1h-1zM130,812h1v1h-1zM147,812h1v1h-1zM151,812h2v1h-2zM161,812h3v1h-3zM168,812h3v1h-3zM217,812h1v1h-1zM250,812h4v1h-4zM269,812h3v1h-3zM280,812h3v1h-3zM296,812h1v1h-1zM1193,812h1v1h-1zM1204,812h1v1h-1zM1210,812h6v1h-6zM1222,812h1v1h-1zM111,821h1v1h-1zM234,821h1v1h-1zM240,821h1v1h-1zM301,821h1v1h-1zM1044,821h1v1h-1zM1072,821h1v1h-1zM1141,821h1v1h-1zM1181,821h1v1h-1zM1228,821h1v1h-1zM1234,821h5v1h-5zM115,814h1v1h-1zM123,814h1v1h-1zM126,814h2v1h-2zM218,814h1v1h-1zM228,814h2v1h-2zM244,814h1v1h-1zM275,814h4v1h-4zM297,814h1v1h-1zM1191,814h1v1h-1zM1224,814h1v1h-1zM2,835h1v1h-1zM30,835h1v1h-1zM102,835h1v1h-1zM306,835h1v1h-1zM316,835h1v1h-1zM318,835h1v1h-1zM412,835h1v1h-1zM449,835h1v1h-1zM730,835h1v1h-1zM736,835h1v1h-1zM749,835h2v1h-2zM763,835h1v1h-1zM778,835h1v1h-1zM790,835h1v1h-1zM827,835h1v1h-1zM847,835h1v1h-1zM883,835h2v1h-2zM904,835h3v1h-3zM936,835h1v1h-1zM957,835h1v1h-1zM1017,835h1v1h-1zM1087,835h1v1h-1zM1098,835h1v1h-1zM1157,835h1v1h-1zM1173,835h1v1h-1zM1258,835h1v1h-1zM1267,835h2v1h-2zM1271,835h2v1h-2zM1278,835h1v1h-1zM1292,835h1v1h-1zM1295,835h2v1h-2zM1302,835h1v1h-1zM1367,835h2v1h-2zM1376,835h3v1h-3zM1406,835h1v1h-1zM345,863h1v1h-1zM369,863h1v1h-1zM517,863h2v1h-2zM560,863h1v1h-1zM571,863h1v1h-1zM582,863h1v1h-1zM637,863h2v1h-2zM650,863h1v1h-1zM32,839h1v1h-1zM97,839h2v1h-2zM308,839h1v1h-1zM313,839h1v1h-1zM321,839h1v1h-1zM409,839h1v1h-1zM452,839h1v1h-1zM455,839h1v1h-1zM467,839h1v1h-1zM726,839h1v1h-1zM740,839h1v1h-1zM742,839h2v1h-2zM795,839h1v1h-1zM803,839h7v1h-7zM815,839h1v1h-1zM824,839h1v1h-1zM849,839h1v1h-1zM864,839h2v1h-2zM876,839h2v1h-2zM912,839h1v1h-1zM931,839h2v1h-2zM958,839h1v1h-1zM1014,839h1v1h-1zM1090,839h1v1h-1zM1096,839h1v1h-1zM1163,839h2v1h-2zM1167,839h1v1h-1zM1261,839h1v1h-1zM1305,839h1v1h-1zM1363,839h1v1h-1zM1382,839h1v1h-1zM1403,839h1v1h-1zM347,865h1v1h-1zM367,865h1v1h-1zM561,865h1v1h-1zM570,865h1v1h-1zM583,865h1v1h-1zM636,865h1v1h-1zM639,865h1v1h-1zM649,865h1v1h-1zM346,864h1v1h-1zM368,864h1v1h-1zM560,864h1v1h-1zM570,864h1v1h-1zM582,864h1v1h-1zM636,864h1v1h-1zM638,864h1v1h-1zM649,864h1v1h-1zM181,802h9v1h-9zM204,802h1v1h-1zM206,802h1v1h-1zM5,831h5v1h-5zM18,831h5v1h-5zM105,831h1v1h-1zM305,831h1v1h-1zM420,831h3v1h-3zM440,831h3v1h-3zM446,831h1v1h-1zM832,831h2v1h-2zM845,831h1v1h-1zM890,831h1v1h-1zM896,831h2v1h-2zM941,831h3v1h-3zM951,831h2v1h-2zM1021,831h2v1h-2zM1079,831h2v1h-2zM1101,831h5v1h-5zM1114,831h4v1h-4zM1150,831h2v1h-2zM1175,831h1v1h-1zM1256,831h1v1h-1zM1281,831h1v1h-1zM1289,831h1v1h-1zM1410,831h1v1h-1zM1420,831h6v1h-6zM1430,831h2v1h-2zM1453,831h1v1h-1zM138,809h5v1h-5zM175,809h1v1h-1zM214,809h1v1h-1zM257,809h1v1h-1zM265,809h1v1h-1zM287,809h2v1h-2zM294,809h1v1h-1zM1195,809h1v1h-1zM1201,809h1v1h-1zM605,884h1v1h-1zM621,884h5v1h-5zM629,884h1v1h-1zM601,880h1v1h-1zM610,880h2v1h-2zM615,880h2v1h-2zM631,880h1v1h-1zM112,820h1v1h-1zM233,820h1v1h-1zM240,820h1v1h-1zM300,820h1v1h-1zM1045,820h11v1h-11zM1072,820h1v1h-1zM1181,820h3v1h-3zM1228,820h1v1h-1zM599,877h1v1h-1zM632,877h1v1h-1zM113,818h1v1h-1zM221,818h2v1h-2zM232,818h1v1h-1zM242,818h1v1h-1zM299,818h1v1h-1zM1059,818h4v1h-4zM1071,818h1v1h-1zM1187,818h3v1h-3zM1226,818h1v1h-1zM564,871h1v1h-1zM566,871h1v1h-1zM587,871h1v1h-1zM634,871h1v1h-1zM643,871h1v1h-1zM646,871h1v1h-1zM178,805h1v1h-1zM194,805h1v1h-1zM199,805h2v1h-2zM210,805h2v1h-2zM1197,805h1v1h-1zM177,806h1v1h-1zM195,806h2v1h-2zM198,806h1v1h-1zM212,806h1v1h-1zM261,806h1v1h-1zM1196,806h1v1h-1zM1198,806h1v1h-1zM110,823h1v1h-1zM236,823h1v1h-1zM238,823h1v1h-1zM302,823h1v1h-1zM1041,823h1v1h-1zM1073,823h1v1h-1zM1139,823h1v1h-1zM1143,823h1v1h-1zM1179,823h1v1h-1zM1240,823h3v1h-3zM107,828h1v1h-1zM304,828h1v1h-1zM837,828h3v1h-3zM1027,828h1v1h-1zM1076,828h1v1h-1zM1122,828h1v1h-1zM1128,828h3v1h-3zM1135,828h1v1h-1zM1147,828h1v1h-1zM1177,828h1v1h-1zM1254,828h1v1h-1zM1284,828h1v1h-1zM1287,828h1v1h-1zM1413,828h2v1h-2zM1435,828h2v1h-2zM1448,828h2v1h-2zM109,825h1v1h-1zM237,825h1v1h-1zM302,825h1v1h-1zM1038,825h1v1h-1zM1074,825h1v1h-1zM1137,825h1v1h-1zM1145,825h1v1h-1zM1179,825h1v1h-1zM1244,825h4v1h-4zM116,813h1v1h-1zM120,813h3v1h-3zM128,813h2v1h-2zM148,813h3v1h-3zM164,813h4v1h-4zM217,813h1v1h-1zM245,813h5v1h-5zM272,813h3v1h-3zM279,813h1v1h-1zM296,813h1v1h-1zM1192,813h1v1h-1zM1205,813h5v1h-5zM1223,813h1v1h-1zM602,881h1v1h-1zM609,881h1v1h-1zM617,881h1v1h-1zM630,881h1v1h-1zM36,848h1v1h-1zM39,848h1v1h-1zM54,848h1v1h-1zM70,848h1v1h-1zM336,848h1v1h-1zM385,848h1v1h-1zM479,848h1v1h-1zM547,848h1v1h-1zM551,848h1v1h-1zM660,848h1v1h-1zM663,848h2v1h-2zM673,848h3v1h-3zM679,848h1v1h-1zM688,848h1v1h-1zM700,848h1v1h-1zM703,848h2v1h-2zM962,848h1v1h-1zM978,848h1v1h-1zM986,848h1v1h-1zM1008,848h1v1h-1zM1353,848h3v1h-3zM1358,848h1v1h-1zM1389,848h5v1h-5zM342,859h1v1h-1zM371,859h1v1h-1zM514,859h1v1h-1zM524,859h6v1h-6zM535,859h2v1h-2zM542,859h1v1h-1zM558,859h1v1h-1zM573,859h2v1h-2zM652,859h1v1h-1zM604,883h1v1h-1zM606,883h1v1h-1zM620,883h1v1h-1zM630,883h1v1h-1zM177,807h1v1h-1zM197,807h1v1h-1zM213,807h1v1h-1zM260,807h1v1h-1zM262,807h1v1h-1zM292,807h2v1h-2zM1196,807h1v1h-1zM1199,807h1v1h-1zM176,808h1v1h-1zM214,808h1v1h-1zM258,808h2v1h-2zM263,808h2v1h-2zM289,808h3v1h-3zM294,808h1v1h-1zM1195,808h1v1h-1zM1200,808h1v1h-1zM362,870h4v1h-4zM563,870h1v1h-1zM567,870h1v1h-1zM586,870h1v1h-1zM634,870h1v1h-1zM642,870h1v1h-1zM647,870h1v1h-1zM603,882h1v1h-1zM607,882h2v1h-2zM618,882h2v1h-2zM630,882h1v1h-1zM341,858h1v1h-1zM371,858h1v1h-1zM513,858h1v1h-1zM530,858h5v1h-5zM542,858h1v1h-1zM557,858h1v1h-1zM652,858h1v1h-1zM58,852h1v1h-1zM65,852h1v1h-1zM338,852h1v1h-1zM383,852h1v1h-1zM482,852h1v1h-1zM545,852h1v1h-1zM554,852h1v1h-1zM657,852h1v1h-1zM963,852h1v1h-1zM974,852h1v1h-1zM1002,852h4v1h-4zM56,850h1v1h-1zM68,850h1v1h-1zM337,850h1v1h-1zM384,850h1v1h-1zM481,850h1v1h-1zM546,850h1v1h-1zM552,850h1v1h-1zM658,850h1v1h-1zM668,850h3v1h-3zM683,850h1v1h-1zM686,850h1v1h-1zM962,850h1v1h-1zM976,850h1v1h-1zM989,850h5v1h-5zM1006,850h1v1h-1zM565,873h1v1h-1zM588,873h1v1h-1zM633,873h1v1h-1zM644,873h2v1h-2zM598,876h1v1h-1zM632,876h1v1h-1zM179,804h1v1h-1zM192,804h2v1h-2zM201,804h1v1h-1zM209,804h1v1h-1zM345,862h1v1h-1zM369,862h1v1h-1zM516,862h1v1h-1zM519,862h1v1h-1zM559,862h1v1h-1zM571,862h1v1h-1zM580,862h2v1h-2zM637,862h1v1h-1zM650,862h1v1h-1zM564,872h1v1h-1zM566,872h1v1h-1zM588,872h1v1h-1zM634,872h1v1h-1zM644,872h1v1h-1zM646,872h1v1h-1zM601,879h1v1h-1zM612,879h1v1h-1zM614,879h1v1h-1zM631,879h1v1h-1zM115,815h1v1h-1zM124,815h2v1h-2zM219,815h1v1h-1zM227,815h1v1h-1zM230,815h1v1h-1zM244,815h1v1h-1zM298,815h1v1h-1zM1068,815h2v1h-2zM1191,815h1v1h-1zM1224,815h1v1h-1zM205,801h1v1h-1z" fill="#1e90ff" shape-rendering="crispEdges"/>
</g>
<text x="2" y="762" font-size="9.6" fill="#000" textLength="67" lengthAdjust="spacingAndGlyphs">RSI(14) 52.6424</text>
<g shape-rendering="crispEdges">
<rect x="1691" y="751" width="3" height="1" fill="#000"/>
<rect x="1691" y="785" width="3" height="1" fill="#000"/>
<rect x="1691" y="836" width="3" height="1" fill="#000"/>
<rect x="1691" y="897" width="3" height="1" fill="#000"/>
<rect x="1691" y="921" width="3" height="1" fill="#000"/>
</g>
<text x="1694" y="761" font-size="9.6" fill="#000" textLength="16" lengthAdjust="spacingAndGlyphs">100</text>
<text x="1693.5" y="789" font-size="9.6" fill="#000" textLength="11" lengthAdjust="spacingAndGlyphs">80</text>
<text x="1693.5" y="840" font-size="9.6" fill="#000" textLength="11" lengthAdjust="spacingAndGlyphs">50</text>
<text x="1693.5" y="901" font-size="9.6" fill="#000" textLength="11" lengthAdjust="spacingAndGlyphs">15</text>
<text x="1693.5" y="920" font-size="9.6" fill="#000" textLength="6" lengthAdjust="spacingAndGlyphs">0</text>
<g shape-rendering="crispEdges">
<rect x="-3" y="924" width="1" height="3" fill="#000"/>
<rect x="61" y="924" width="1" height="3" fill="#000"/>
<rect x="125" y="924" width="1" height="3" fill="#000"/>
<rect x="189" y="924" width="1" height="3" fill="#000"/>
<rect x="253" y="924" width="1" height="3" fill="#000"/>
<rect x="317" y="924" width="1" height="3" fill="#000"/>
<rect x="381" y="924" width="1" height="3" fill="#000"/>
<rect x="445" y="924" width="1" height="3" fill="#000"/>
<rect x="509" y="924" width="1" height="3" fill="#000"/>
<rect x="573" y="924" width="1" height="3" fill="#000"/>
<rect x="637" y="924" width="1" height="3" fill="#000"/>
<rect x="701" y="924" width="1" height="3" fill="#000"/>
<rect x="765" y="924" width="1" height="3" fill="#000"/>
<rect x="829" y="924" width="1" height="3" fill="#000"/>
<rect x="893" y="924" width="1" height="3" fill="#000"/>
<rect x="957" y="924" width="1" height="3" fill="#000"/>
<rect x="1021" y="924" width="1" height="3" fill="#000"/>
<rect x="1085" y="924" width="1" height="3" fill="#000"/>
<rect x="1149" y="924" width="1" height="3" fill="#000"/>
<rect x="1213" y="924" width="1" height="3" fill="#000"/>
<rect x="1277" y="924" width="1" height="3" fill="#000"/>
<rect x="1341" y="924" width="1" height="3" fill="#000"/>
<rect x="1405" y="924" width="1" height="3" fill="#000"/>
</g>
<text x="-3" y="936" font-size="9.6" fill="#000" textLength="51.6052" lengthAdjust="spacingAndGlyphs">22 Nov 2019</text>
<text x="61" y="936" font-size="9.6" fill="#000" textLength="46.5442" lengthAdjust="spacingAndGlyphs">4 Dec 2019</text>
<text x="125" y="936" font-size="9.6" fill="#000" textLength="51.6052" lengthAdjust="spacingAndGlyphs">16 Dec 2019</text>
<text x="189" y="936" font-size="9.6" fill="#000" textLength="51.6052" lengthAdjust="spacingAndGlyphs">30 Dec 2019</text>
<text x="253" y="936" font-size="9.6" fill="#000" textLength="50.0944" lengthAdjust="spacingAndGlyphs">10 Jan 2020</text>
<text x="317" y="936" font-size="9.6" fill="#000" textLength="50.0944" lengthAdjust="spacingAndGlyphs">22 Jan 2020</text>
<text x="381" y="936" font-size="9.6" fill="#000" textLength="46.0421" lengthAdjust="spacingAndGlyphs">5 Feb 2020</text>
<text x="445" y="936" font-size="9.6" fill="#000" textLength="51.1031" lengthAdjust="spacingAndGlyphs">17 Feb 2020</text>
<text x="509" y="936" font-size="9.6" fill="#000" textLength="51.1031" lengthAdjust="spacingAndGlyphs">27 Feb 2020</text>
<text x="573" y="936" font-size="9.6" fill="#000" textLength="51.0942" lengthAdjust="spacingAndGlyphs">10 Mar 2020</text>
<text x="637" y="936" font-size="9.6" fill="#000" textLength="51.0942" lengthAdjust="spacingAndGlyphs">20 Mar 2020</text>
<text x="701" y="936" font-size="9.6" fill="#000" textLength="44.5225" lengthAdjust="spacingAndGlyphs">1 Apr 2020</text>
<text x="765" y="936" font-size="9.6" fill="#000" textLength="49.5834" lengthAdjust="spacingAndGlyphs">15 Apr 2020</text>
<text x="829" y="936" font-size="9.6" fill="#000" textLength="49.5834" lengthAdjust="spacingAndGlyphs">27 Apr 2020</text>
<text x="893" y="936" font-size="9.6" fill="#000" textLength="52.6138" lengthAdjust="spacingAndGlyphs">11 May 2020</text>
<text x="957" y="936" font-size="9.6" fill="#000" textLength="52.6138" lengthAdjust="spacingAndGlyphs">21 May 2020</text>
<text x="1021" y="936" font-size="9.6" fill="#000" textLength="45.0334" lengthAdjust="spacingAndGlyphs">2 Jun 2020</text>
<text x="1085" y="936" font-size="9.6" fill="#000" textLength="50.0944" lengthAdjust="spacingAndGlyphs">12 Jun 2020</text>
<text x="1149" y="936" font-size="9.6" fill="#000" textLength="50.0944" lengthAdjust="spacingAndGlyphs">24 Jun 2020</text>
<text x="1213" y="936" font-size="9.6" fill="#000" textLength="41.9942" lengthAdjust="spacingAndGlyphs">8 Jul 2020</text>
<text x="1277" y="936" font-size="9.6" fill="#000" textLength="47.0552" lengthAdjust="spacingAndGlyphs">20 Jul 2020</text>
<text x="1341" y="936" font-size="9.6" fill="#000" textLength="47.0552" lengthAdjust="spacingAndGlyphs">30 Jul 2020</text>
<text x="1405" y="936" font-size="9.6" fill="#000" textLength="51.6141" lengthAdjust="spacingAndGlyphs">11 Aug 2020</text>
</svg></body></html>
